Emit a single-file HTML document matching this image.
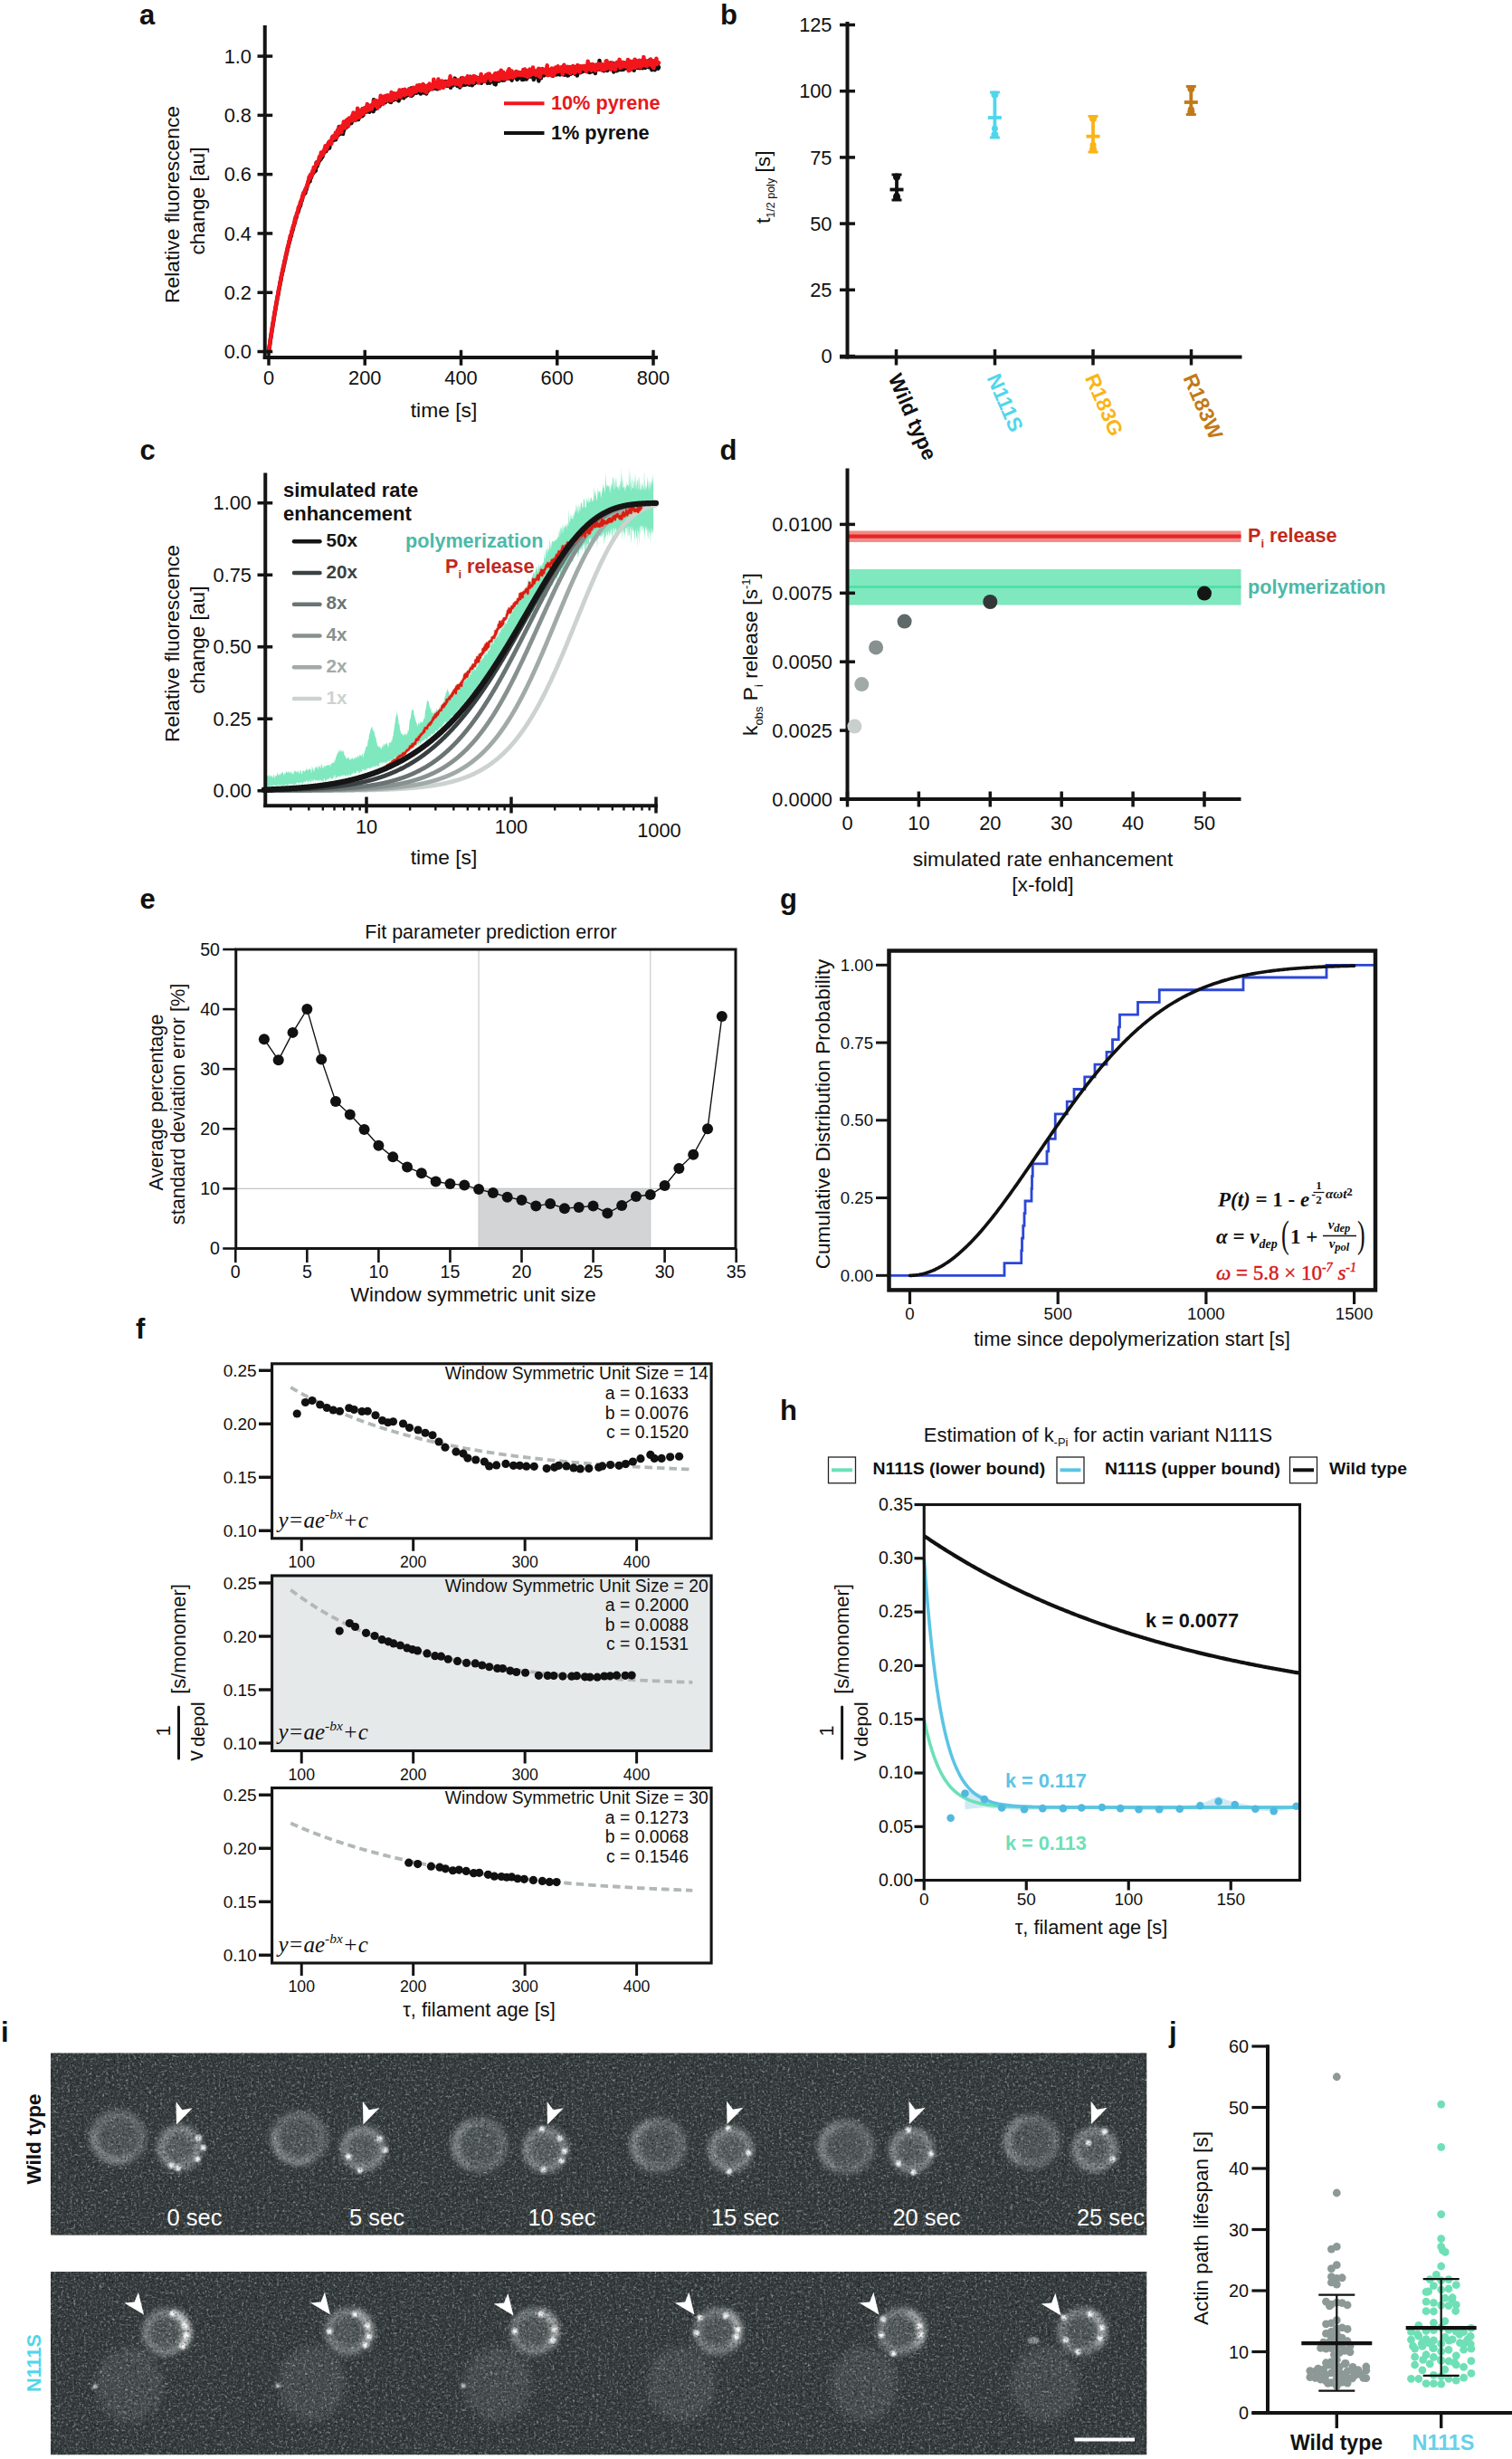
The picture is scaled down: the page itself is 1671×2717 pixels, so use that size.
<!DOCTYPE html>
<html><head><meta charset="utf-8"><title>Figure</title>
<style>html,body{margin:0;padding:0;background:#fff}svg{display:block;font-family:Liberation Sans, Arial, sans-serif;}</style></head>
<body><svg width="1671" height="2717" viewBox="0 0 1671 2717">
<defs><filter id="nz" x="0" y="0" width="100%" height="100%" color-interpolation-filters="sRGB"><feTurbulence type="fractalNoise" baseFrequency="0.31" numOctaves="1" seed="3" result="a"/><feTurbulence type="fractalNoise" baseFrequency="0.45" numOctaves="1" seed="11" result="b"/><feTurbulence type="fractalNoise" baseFrequency="0.62" numOctaves="1" seed="23" result="c"/><feComposite in="a" in2="b" operator="arithmetic" k1="0" k2="0.5" k3="0.5" k4="0" result="ab"/><feComposite in="ab" in2="c" operator="arithmetic" k1="0" k2="0.67" k3="0.33" k4="0" result="abc"/><feColorMatrix in="abc" type="matrix" values="0 0 0 0 0.88  0 0 0 0 0.92  0 0 0 0 0.92  1.5 1.5 0 0 -1.5"/></filter>
<filter id="nz2" x="0" y="0" width="100%" height="100%" color-interpolation-filters="sRGB"><feTurbulence type="fractalNoise" baseFrequency="0.39" numOctaves="1" seed="41" result="a"/><feTurbulence type="fractalNoise" baseFrequency="0.53" numOctaves="1" seed="57" result="b"/><feComposite in="a" in2="b" operator="arithmetic" k1="0" k2="0.5" k3="0.5" k4="0" result="ab"/><feColorMatrix in="ab" type="matrix" values="0 0 0 0 0.02  0 0 0 0 0.03  0 0 0 0 0.03  -1.5 -1.5 0 0 1.52"/></filter>
<filter id="bl3" x="-50%" y="-50%" width="200%" height="200%"><feGaussianBlur stdDeviation="3"/></filter>
<filter id="bl5" x="-50%" y="-50%" width="200%" height="200%"><feGaussianBlur stdDeviation="5"/></filter>
<filter id="bl1" x="-50%" y="-50%" width="200%" height="200%"><feGaussianBlur stdDeviation="1.3"/></filter>
<clipPath id="cp1"><rect x="56" y="2268.3" width="1211.5" height="201.5"/></clipPath>
<clipPath id="cp2"><rect x="56" y="2510" width="1211.5" height="202.5"/></clipPath></defs>
<rect width="1671" height="2717" fill="#fff"/>
<text font-size="31" text-anchor="start" fill="#111" font-weight="bold" x="154" y="27" >a</text>
<path d="M297 388.44 L297.43 385.41 L297.85 382.58 L298.27 380 L298.7 376.74 L299.12 374.01 L299.55 371.39 L299.98 368.43 L300.4 365.73 L300.82 363.04 L301.25 360.41 L301.68 357.67 L302.1 355.29 L302.52 352.59 L302.95 350.08 L303.38 347.35 L303.8 344.94 L304.23 342.52 L304.65 340.17 L305.07 337.63 L305.5 335.16 L305.93 332.85 L306.35 330.08 L306.77 327.81 L307.2 326.58 L307.62 324.08 L308.05 321.3 L308.48 319.15 L308.9 316.72 L309.32 314.53 L309.75 311.67 L310.18 310.72 L310.6 308.33 L311.02 305.26 L311.45 303.74 L311.88 301.67 L312.3 300.14 L312.73 298.65 L313.15 295.84 L313.57 293.89 L314 292.59 L314.43 290.41 L314.85 288.19 L315.27 286.76 L315.7 284.45 L316.12 282.5 L316.55 280.7 L316.98 279.2 L317.4 276.77 L317.82 274.81 L318.25 273.39 L318.68 272.36 L319.1 269.67 L319.52 268.75 L319.95 266.17 L320.38 265.8 L320.8 262.81 L321.23 261.82 L321.65 261.07 L322.07 258.82 L322.5 256.97 L322.93 255.24 L323.35 254.64 L323.77 253.21 L324.2 250.69 L324.62 249.72 L325.05 247.67 L325.48 245.77 L325.9 246.3 L326.32 243.28 L326.75 241.03 L327.18 240.92 L327.6 239.98 L328.02 237.22 L328.45 236.29 L328.88 234.35 L329.3 234.15 L329.73 233.89 L330.15 231.3 L330.57 230.32 L331 227.85 L331.43 227.15 L331.85 227.71 L332.27 226.04 L332.7 222.7 L333.12 221.68 L333.55 221.84 L333.98 219.98 L334.4 218.32 L334.82 217.12 L335.25 215.51 L335.68 215.04 L336.1 214.29 L336.52 213.35 L336.95 210.74 L337.38 213.45 L337.8 209.92 L338.23 208.64 L338.65 209.31 L339.07 206.15 L339.5 206.3 L339.93 203.41 L340.35 203.61 L340.77 201.6 L341.2 199.89 L341.62 199.95 L342.05 200.59 L342.48 200.45 L342.9 195.21 L343.32 196.71 L343.75 196.54 L344.18 194.49 L344.6 194.02 L345.02 191.67 L345.45 191.89 L345.88 191.02 L346.3 191.16 L346.73 188.6 L347.15 189.88 L347.57 186.57 L348 184.45 L348.43 188.08 L348.85 188.67 L349.27 183.25 L349.7 179.5 L350.12 184.06 L350.55 183.65 L350.98 180.01 L351.4 181.43 L351.82 180.13 L352.25 179.1 L352.68 176.93 L353.1 177.66 L353.52 175.8 L353.95 175.78 L354.38 176.14 L354.8 174.54 L355.23 174.87 L355.65 172.55 L356.07 173.75 L356.5 173 L356.93 167.93 L357.35 169.83 L357.77 169.14 L358.2 167.47 L358.62 168.44 L359.05 167.43 L359.48 165.6 L359.9 165.2 L360.32 167.16 L360.75 162.89 L361.18 164.86 L361.6 165.1 L362.02 164.2 L362.45 162.63 L362.88 158.21 L363.3 162.92 L363.73 159.77 L364.15 163.6 L364.57 158.9 L365 156.56 L365.43 158.2 L365.85 158.4 L366.27 156.13 L366.7 154.63 L367.12 154.14 L367.55 150.93 L367.98 153.95 L368.4 155.05 L368.82 153.56 L369.25 152.92 L369.68 152.01 L370.1 151.78 L370.52 150.83 L370.95 154.23 L371.38 148.41 L371.8 150.91 L372.23 151.72 L372.65 147.31 L373.07 145.33 L373.5 146.64 L373.93 146.89 L374.35 148.84 L374.77 139.89 L375.2 143.86 L375.62 147.94 L376.05 146.68 L376.48 144.26 L376.9 147.56 L377.32 143.18 L377.75 144.18 L378.18 139.89 L378.6 140.06 L379.02 148.02 L379.45 141.31 L379.88 144.68 L380.3 138.03 L380.73 139.77 L381.15 138.49 L381.57 141.77 L382 134.76 L382.43 133.92 L382.85 140.58 L383.27 136.9 L383.7 138.9 L384.12 137.03 L384.55 139.49 L384.98 131.96 L385.4 138.06 L385.82 136.15 L386.25 133.96 L386.68 136.23 L387.1 134.93 L387.52 135.32 L387.95 133.98 L388.38 136 L388.8 133.97 L389.23 133.1 L389.65 133.05 L390.07 131.82 L390.5 132.28 L390.93 129.56 L391.35 131.69 L391.77 130.93 L392.2 131.81 L392.62 131.18 L393.05 132.54 L393.48 128.15 L393.9 131.63 L394.32 130.42 L394.75 127.58 L395.18 127.18 L395.6 128.71 L396.02 132.11 L396.45 126.24 L396.88 126.31 L397.3 129.84 L397.73 124.56 L398.15 127.63 L398.57 128.32 L399 125.25 L399.43 125.59 L399.85 124.44 L400.27 128.3 L400.7 120.21 L401.12 125.46 L401.55 127.33 L401.98 122.13 L402.4 124.09 L402.82 122.28 L403.25 123.54 L403.68 122.64 L404.1 121.68 L404.52 123.7 L404.95 120.19 L405.38 122.56 L405.8 123.23 L406.23 120.82 L406.65 119.74 L407.07 121.03 L407.5 122.24 L407.93 118.62 L408.35 123.82 L408.77 121.92 L409.2 119.24 L409.62 122.21 L410.05 118.81 L410.48 118.77 L410.9 116.37 L411.32 120.29 L411.75 119.41 L412.18 116.99 L412.6 123.15 L413.02 110.24 L413.45 118.7 L413.88 118.56 L414.3 114.71 L414.73 116.56 L415.15 120.33 L415.57 114.63 L416 113.9 L416.43 116.68 L416.85 116.09 L417.27 114.14 L417.7 117.12 L418.12 113.85 L418.55 114.2 L418.98 116 L419.4 117.45 L419.82 114.59 L420.25 115.89 L420.68 111.41 L421.1 113.18 L421.52 111.54 L421.95 112.83 L422.38 112.36 L422.8 114.57 L423.23 111.07 L423.65 108.34 L424.07 112.95 L424.5 113.42 L424.93 112.25 L425.35 112.81 L425.77 113.14 L426.2 111.05 L426.62 111.86 L427.05 107.74 L427.48 110.86 L427.9 109.96 L428.33 108.35 L428.75 111.05 L429.18 106.92 L429.6 111.49 L430.02 111.73 L430.45 110.56 L430.88 109.82 L431.3 112.61 L431.73 109.33 L432.15 112.9 L432.58 105.76 L433 108.97 L433.43 110.1 L433.85 110.56 L434.27 109.21 L434.7 108.69 L435.12 110.42 L435.55 109.99 L435.98 108.17 L436.4 108.78 L436.82 105.3 L437.25 104.71 L437.68 107.13 L438.1 105.94 L438.52 109.93 L438.95 105.29 L439.38 106.67 L439.8 105.36 L440.23 102.67 L440.65 111.4 L441.07 105.46 L441.5 108.43 L441.93 104.44 L442.35 108.66 L442.77 106.66 L443.2 104.93 L443.62 103.86 L444.05 104.96 L444.48 106.82 L444.9 106.14 L445.32 102.73 L445.75 104.64 L446.18 108.35 L446.6 102.45 L447.02 103.3 L447.45 102.13 L447.88 104.77 L448.3 101.99 L448.73 106.19 L449.15 102.34 L449.57 104.64 L450 101.86 L450.43 100.99 L450.85 104.85 L451.27 103.17 L451.7 102.84 L452.12 100.1 L452.55 101.08 L452.98 105.38 L453.4 101.43 L453.82 100.66 L454.25 97.4 L454.68 105.98 L455.1 103.25 L455.52 98.87 L455.95 104.9 L456.38 104.44 L456.8 100.41 L457.23 99.16 L457.65 102.9 L458.07 100.03 L458.5 100.9 L458.93 97.59 L459.35 100.96 L459.77 98.58 L460.2 102.81 L460.62 101.06 L461.05 100.76 L461.48 97.83 L461.9 99.01 L462.33 101.95 L462.75 98.57 L463.18 98.27 L463.6 100.19 L464.02 100.42 L464.45 100.18 L464.88 103.51 L465.3 99.11 L465.73 98.91 L466.15 101.32 L466.58 97.55 L467 102.29 L467.43 100.32 L467.85 100.05 L468.27 94.33 L468.7 102.43 L469.12 97.4 L469.55 96.44 L469.98 97.63 L470.4 95.71 L470.83 100.6 L471.25 103.43 L471.68 96.38 L472.1 100.77 L472.52 98.7 L472.95 100.56 L473.38 95.37 L473.8 95.71 L474.23 99.24 L474.65 95.45 L475.08 97.15 L475.5 97.65 L475.93 97.12 L476.35 97.63 L476.77 95.67 L477.2 96.28 L477.62 97.71 L478.05 94.52 L478.48 98.14 L478.9 96 L479.33 95.61 L479.75 93.11 L480.18 97.56 L480.6 92.34 L481.02 95.84 L481.45 96.6 L481.88 97.61 L482.3 94.66 L482.73 95.8 L483.15 98.36 L483.58 98.33 L484 96.95 L484.43 97.14 L484.85 93.03 L485.27 92.3 L485.7 93.38 L486.12 94.47 L486.55 96.18 L486.98 95 L487.4 93.03 L487.83 90.11 L488.25 92.81 L488.68 95.46 L489.1 94.66 L489.52 95.77 L489.95 96.38 L490.38 94.94 L490.8 94 L491.23 90.18 L491.65 94.18 L492.08 91.12 L492.5 90.11 L492.93 93.9 L493.35 90.33 L493.77 92.3 L494.2 94.81 L494.62 93.18 L495.05 93.66 L495.48 94.18 L495.9 94.03 L496.33 93.17 L496.75 92.44 L497.18 95.38 L497.6 93.31 L498.02 96.7 L498.45 92.56 L498.88 91.66 L499.3 92.64 L499.73 92.29 L500.15 91.53 L500.58 94.33 L501 93.28 L501.43 91.5 L501.85 90.31 L502.27 91.63 L502.7 86.63 L503.12 92.61 L503.55 90.05 L503.98 89.37 L504.4 92.51 L504.83 94.01 L505.25 94.77 L505.68 91.63 L506.1 89.4 L506.52 91.25 L506.95 91.41 L507.38 92.61 L507.8 90.39 L508.23 96.49 L508.65 91.02 L509.08 91.42 L509.5 94.55 L509.93 86.38 L510.35 94.46 L510.77 93.69 L511.2 93.91 L511.62 88.57 L512.05 93.07 L512.48 89.45 L512.9 89.57 L513.33 90.26 L513.75 93.78 L514.17 92.13 L514.6 86.84 L515.02 93.56 L515.45 92.44 L515.88 90.85 L516.3 88.57 L516.73 89.79 L517.15 88.61 L517.58 92.68 L518 88.02 L518.42 88.82 L518.85 93.7 L519.27 86.48 L519.7 84.7 L520.12 91.64 L520.55 89.7 L520.98 86.57 L521.4 93.09 L521.83 94.19 L522.25 92.55 L522.67 90.83 L523.1 90.79 L523.52 88.03 L523.95 88.74 L524.38 92.15 L524.8 87.95 L525.23 84.9 L525.65 86.39 L526.08 86.81 L526.5 88.97 L526.92 86.71 L527.35 91.11 L527.77 87.13 L528.2 88.99 L528.62 86.15 L529.05 87.61 L529.48 91.11 L529.9 88.27 L530.33 85.73 L530.75 91.03 L531.17 89.68 L531.6 90.1 L532.02 91.71 L532.45 86.04 L532.88 85.18 L533.3 86.3 L533.73 87.52 L534.15 88.13 L534.58 87.41 L535 89.58 L535.42 85.81 L535.85 85.41 L536.27 85.62 L536.7 88.91 L537.12 87.46 L537.55 87.96 L537.98 83.45 L538.4 87.07 L538.83 91.73 L539.25 86.46 L539.67 83.02 L540.1 85.7 L540.52 85.21 L540.95 87.08 L541.38 91.62 L541.8 91.2 L542.23 89.86 L542.65 87.25 L543.08 86.2 L543.5 85.28 L543.92 87.58 L544.35 84.56 L544.77 87.34 L545.2 88.26 L545.62 84.65 L546.05 88.64 L546.48 92.73 L546.9 88.87 L547.33 86.18 L547.75 93.38 L548.17 87.11 L548.6 87 L549.02 89.45 L549.45 89.53 L549.88 87.15 L550.3 87.3 L550.73 83.12 L551.15 85.09 L551.58 89.51 L552 87.8 L552.42 84.19 L552.85 81.42 L553.28 84.82 L553.7 84.94 L554.12 81.35 L554.55 85.61 L554.98 86.21 L555.4 88.69 L555.83 86.58 L556.25 80.38 L556.67 88.56 L557.1 85.24 L557.53 88.43 L557.95 84.88 L558.38 83.09 L558.8 85.63 L559.23 83.36 L559.65 83.33 L560.08 83.91 L560.5 80.96 L560.92 83.06 L561.35 85.49 L561.78 86.3 L562.2 86.63 L562.62 83.56 L563.05 85.34 L563.48 78.32 L563.9 80.3 L564.33 84.95 L564.75 85.17 L565.17 80.51 L565.6 88.63 L566.03 85.31 L566.45 82.06 L566.88 86.27 L567.3 85.23 L567.73 84.9 L568.15 82.54 L568.58 83.69 L569 83.04 L569.42 82.55 L569.85 83.8 L570.27 81.28 L570.7 85.44 L571.12 87.01 L571.55 87.75 L571.98 87.35 L572.4 84.86 L572.83 81.2 L573.25 83.11 L573.67 84.83 L574.1 85.86 L574.52 84.58 L574.95 84.25 L575.38 84.58 L575.8 86.52 L576.23 84.29 L576.65 80.83 L577.08 88.08 L577.5 83.62 L577.92 87.87 L578.35 82.56 L578.77 84.64 L579.2 87.66 L579.62 82.62 L580.05 78.65 L580.48 82.51 L580.9 80.06 L581.33 82.84 L581.75 87.56 L582.17 81.47 L582.6 83.5 L583.02 85.84 L583.45 80.67 L583.88 81.76 L584.3 83.58 L584.73 80.35 L585.15 84.28 L585.58 80.78 L586 84.36 L586.42 80.94 L586.85 84.64 L587.27 78.68 L587.7 81.46 L588.12 78.72 L588.55 83.83 L588.98 83 L589.4 79.95 L589.83 88.1 L590.25 84.23 L590.67 79.39 L591.1 80.64 L591.52 79.43 L591.95 82.33 L592.38 80.29 L592.8 83.21 L593.23 84.63 L593.65 85.33 L594.08 82.68 L594.5 82.63 L594.92 82.77 L595.35 89.4 L595.77 85.82 L596.2 82.43 L596.62 80.52 L597.05 82.46 L597.48 83.1 L597.9 86.33 L598.33 76.39 L598.75 83.49 L599.17 77.09 L599.6 77.33 L600.02 80.23 L600.45 82.12 L600.88 80.47 L601.3 83.37 L601.73 80.1 L602.15 80.65 L602.58 79.4 L603 78.4 L603.42 76.57 L603.85 81.38 L604.27 78.07 L604.7 82.22 L605.12 82.42 L605.55 81.75 L605.98 82.54 L606.4 78.02 L606.83 78.11 L607.25 77.27 L607.67 80.2 L608.1 79.48 L608.52 81.39 L608.95 82.66 L609.38 78.97 L609.8 79.34 L610.23 82.44 L610.65 78.53 L611.08 83.81 L611.5 80.2 L611.92 81.2 L612.35 80.93 L612.77 82.16 L613.2 77.47 L613.62 78.31 L614.05 76.86 L614.48 79.23 L614.9 82.46 L615.33 80.32 L615.75 82.14 L616.17 78.36 L616.6 76.6 L617.02 78.58 L617.45 80.66 L617.88 80.1 L618.3 78.76 L618.73 82.49 L619.15 78.81 L619.58 78.66 L620 80.32 L620.42 80 L620.85 78.62 L621.27 80.85 L621.7 80.81 L622.12 77.12 L622.55 78.36 L622.98 74.99 L623.4 81.05 L623.83 82.82 L624.25 76.57 L624.67 76.5 L625.1 80.34 L625.53 81.97 L625.95 78.69 L626.38 82.55 L626.8 79.3 L627.23 83.47 L627.65 79 L628.08 83.26 L628.5 78.92 L628.92 74.88 L629.35 78.93 L629.78 76.52 L630.2 79.71 L630.62 80.25 L631.05 81.6 L631.48 75.77 L631.9 78.25 L632.33 74.37 L632.75 80.74 L633.17 78.52 L633.6 77.8 L634.03 74.72 L634.45 73.75 L634.88 79.36 L635.3 80.44 L635.73 81.78 L636.15 74.73 L636.58 77.95 L637 79.19 L637.42 77.8 L637.85 83.49 L638.28 81.56 L638.7 75.44 L639.12 76.64 L639.55 77.17 L639.98 79.77 L640.4 76.1 L640.83 73.35 L641.25 80.17 L641.67 77.31 L642.1 78.3 L642.53 76.45 L642.95 77.21 L643.38 77.54 L643.8 79.19 L644.23 77.17 L644.65 78.51 L645.08 77.4 L645.5 77.18 L645.92 75.51 L646.35 78.3 L646.78 77.67 L647.2 74.45 L647.62 77.37 L648.05 77.43 L648.48 74.82 L648.9 76.14 L649.33 76.52 L649.75 76.2 L650.17 79.5 L650.6 75.58 L651.03 73.56 L651.45 75.23 L651.88 80.08 L652.3 75.84 L652.73 78.52 L653.15 76.93 L653.58 76.08 L654 79.07 L654.42 73.26 L654.85 76.43 L655.28 74.43 L655.7 74.76 L656.12 73.1 L656.55 73.41 L656.98 79.47 L657.4 75.97 L657.83 80.91 L658.25 77.02 L658.67 74.33 L659.1 73.84 L659.53 72.95 L659.95 76.73 L660.38 75.1 L660.8 75.58 L661.23 72.87 L661.65 72.1 L662.08 76.52 L662.5 67.02 L662.92 75.64 L663.35 76.44 L663.78 74.2 L664.2 73.8 L664.62 74.25 L665.05 76.95 L665.48 72.07 L665.9 75.28 L666.33 71.85 L666.75 72.15 L667.17 78.21 L667.6 77.51 L668.03 77.52 L668.45 74.63 L668.88 75.04 L669.3 74.52 L669.73 76.96 L670.15 74.09 L670.58 71.83 L671 78.05 L671.42 75.42 L671.85 74.37 L672.28 75.2 L672.7 75.32 L673.12 70.8 L673.55 71.88 L673.98 72.84 L674.4 76.49 L674.83 69.6 L675.25 73.86 L675.67 75.97 L676.1 75.39 L676.53 75.71 L676.95 69.71 L677.38 74.06 L677.8 74.35 L678.23 79.39 L678.65 72.75 L679.08 76.82 L679.5 76.96 L679.92 72.95 L680.35 76.29 L680.78 72.37 L681.2 71.69 L681.62 78.31 L682.05 74.5 L682.48 77.76 L682.9 74.28 L683.33 72.02 L683.75 77.19 L684.17 69.93 L684.6 74.73 L685.03 76.69 L685.45 74.24 L685.88 72.12 L686.3 77.05 L686.73 73.87 L687.15 76.98 L687.58 71.06 L688 73.43 L688.42 74.73 L688.85 71.36 L689.28 76.64 L689.7 74.57 L690.12 69.42 L690.55 73.9 L690.98 70.49 L691.4 73.11 L691.83 75.13 L692.25 74.06 L692.67 73.3 L693.1 74.38 L693.53 75.3 L693.95 75.17 L694.38 76.75 L694.8 73.08 L695.23 72.4 L695.65 71.56 L696.08 77.37 L696.5 71.37 L696.92 73.23 L697.35 76.42 L697.78 72.91 L698.2 71.24 L698.62 71.88 L699.05 71.39 L699.48 70.86 L699.9 70.94 L700.33 73.04 L700.75 77.69 L701.17 74.64 L701.6 72.06 L702.03 73.92 L702.45 71.25 L702.88 70.96 L703.3 72.65 L703.73 68.44 L704.15 74.93 L704.58 70.55 L705 73.73 L705.42 74.4 L705.85 71.24 L706.28 73.97 L706.7 70.57 L707.12 75.17 L707.55 72.4 L707.98 74.38 L708.4 72.96 L708.83 73.24 L709.25 74.95 L709.67 70.84 L710.1 75.16 L710.53 74.52 L710.95 70.22 L711.38 70 L711.8 70.67 L712.23 71.39 L712.65 66.94 L713.08 74.88 L713.5 73.79 L713.92 74.33 L714.35 69.98 L714.78 71.35 L715.2 69.44 L715.62 69.73 L716.05 72.44 L716.48 73.77 L716.9 74.14 L717.33 66.79 L717.75 69.6 L718.17 70.43 L718.6 72.54 L719.03 72.19 L719.45 72.49 L719.88 72.42 L720.3 77.15 L720.73 71.77 L721.15 72.47 L721.58 70.91 L722 71.07 L722.42 69.57 L722.85 71.52 L723.28 69.65 L723.7 77.29 L724.12 73.93 L724.55 67.45 L724.98 74.15 L725.4 71.97 L725.83 69.69 L726.25 73.3 L726.67 69.61 L727.1 74.49 L727.53 75.58 L727.95 74.22" stroke="#111" stroke-width="4.5" fill="none" stroke-linejoin="round" stroke-linecap="round"/>
<path d="M297 387.81 L297.43 384.99 L297.85 382.04 L298.27 379.52 L298.7 375.88 L299.12 373.17 L299.55 370.64 L299.98 367.66 L300.4 365.01 L300.82 362.45 L301.25 359.48 L301.68 357.06 L302.1 354.43 L302.52 351.92 L302.95 349.11 L303.38 346.67 L303.8 344.02 L304.23 341.76 L304.65 339.13 L305.07 336.93 L305.5 334.1 L305.93 331.86 L306.35 329.45 L306.77 327.09 L307.2 325.18 L307.62 322.35 L308.05 319.67 L308.48 318.61 L308.9 316.44 L309.32 314.18 L309.75 311.17 L310.18 309.27 L310.6 306.77 L311.02 304.79 L311.45 302.91 L311.88 300.81 L312.3 298.96 L312.73 296.47 L313.15 295.39 L313.57 293.08 L314 290.81 L314.43 288.09 L314.85 287.46 L315.27 285.73 L315.7 283.59 L316.12 280.9 L316.55 279.72 L316.98 277.01 L317.4 277.06 L317.82 273.5 L318.25 271.78 L318.68 271.55 L319.1 268.84 L319.52 266.44 L319.95 265.47 L320.38 263.18 L320.8 260.58 L321.23 260.36 L321.65 259.13 L322.07 257.88 L322.5 255.26 L322.93 254.3 L323.35 252.73 L323.77 251.13 L324.2 249.02 L324.62 248.86 L325.05 247.75 L325.48 247.03 L325.9 242.58 L326.32 242.06 L326.75 239.4 L327.18 239.28 L327.6 238.51 L328.02 236.05 L328.45 235.16 L328.88 234.88 L329.3 233.2 L329.73 229.39 L330.15 229.39 L330.57 228.01 L331 227.39 L331.43 226.52 L331.85 223.68 L332.27 223.42 L332.7 222.85 L333.12 220.98 L333.55 220.57 L333.98 218.22 L334.4 216.01 L334.82 216.95 L335.25 213.31 L335.68 214.46 L336.1 212.4 L336.52 212.38 L336.95 210.57 L337.38 209.15 L337.8 208.61 L338.23 207.84 L338.65 206.75 L339.07 205.86 L339.5 205.73 L339.93 203.09 L340.35 201.23 L340.77 199.57 L341.2 198.87 L341.62 195.54 L342.05 197.28 L342.48 197.31 L342.9 193.27 L343.32 196.16 L343.75 192.52 L344.18 194.16 L344.6 191.45 L345.02 193.72 L345.45 188.84 L345.88 189.4 L346.3 189.65 L346.73 185 L347.15 185.41 L347.57 185.57 L348 185.86 L348.43 183.98 L348.85 183.32 L349.27 181.15 L349.7 180.2 L350.12 181.6 L350.55 180.61 L350.98 179.78 L351.4 180.27 L351.82 178.3 L352.25 176.74 L352.68 174.71 L353.1 172.93 L353.52 175.6 L353.95 172.64 L354.38 173.52 L354.8 168.62 L355.23 171.41 L355.65 169.76 L356.07 171.47 L356.5 170.56 L356.93 168.13 L357.35 168.44 L357.77 166.48 L358.2 169.15 L358.62 164.56 L359.05 166.66 L359.48 161.32 L359.9 164.27 L360.32 161.1 L360.75 165 L361.18 161.03 L361.6 162.83 L362.02 161.47 L362.45 159.9 L362.88 159.93 L363.3 158.22 L363.73 156.69 L364.15 156.27 L364.57 157.11 L365 159.01 L365.43 157.35 L365.85 155.59 L366.27 158.85 L366.7 152.57 L367.12 153.99 L367.55 153.47 L367.98 150.49 L368.4 150.51 L368.82 150.88 L369.25 152.88 L369.68 149.63 L370.1 149.03 L370.52 151.11 L370.95 146.52 L371.38 147.14 L371.8 151.95 L372.23 146.96 L372.65 149.48 L373.07 143.77 L373.5 143.99 L373.93 147.72 L374.35 146.77 L374.77 144.11 L375.2 144.41 L375.62 139.97 L376.05 141.28 L376.48 143.15 L376.9 140.73 L377.32 146.25 L377.75 140.46 L378.18 138.75 L378.6 140.71 L379.02 141.49 L379.45 138.15 L379.88 134.55 L380.3 138.14 L380.73 140.76 L381.15 134.48 L381.57 141.67 L382 135.83 L382.43 137.91 L382.85 134.06 L383.27 137.74 L383.7 132.38 L384.12 134.34 L384.55 138.59 L384.98 138.77 L385.4 134.61 L385.82 130.56 L386.25 132.86 L386.68 132.63 L387.1 132.97 L387.52 130.38 L387.95 130.85 L388.38 130.72 L388.8 133.27 L389.23 127.96 L389.65 127.21 L390.07 132.96 L390.5 124.39 L390.93 127.67 L391.35 130.1 L391.77 133.01 L392.2 126.84 L392.62 126.74 L393.05 129.06 L393.48 131.47 L393.9 124.5 L394.32 128.1 L394.75 127.52 L395.18 119.64 L395.6 120.98 L396.02 123.36 L396.45 126.28 L396.88 123.46 L397.3 129.86 L397.73 124.12 L398.15 125.81 L398.57 126.73 L399 127.12 L399.43 122.03 L399.85 122.74 L400.27 122.31 L400.7 120.47 L401.12 124.06 L401.55 124.68 L401.98 125.65 L402.4 122.09 L402.82 119.33 L403.25 121.14 L403.68 119.08 L404.1 122.99 L404.52 121.11 L404.95 121.53 L405.38 122.38 L405.8 115.04 L406.23 117.09 L406.65 120.54 L407.07 120.3 L407.5 118.44 L407.93 121.37 L408.35 116.84 L408.77 120.56 L409.2 118.22 L409.62 119.48 L410.05 118.01 L410.48 119.73 L410.9 120.06 L411.32 118.45 L411.75 117.57 L412.18 116.47 L412.6 115.42 L413.02 111.87 L413.45 113.29 L413.88 115.51 L414.3 113.07 L414.73 116.09 L415.15 111 L415.57 112.84 L416 116.99 L416.43 111.97 L416.85 111.62 L417.27 119.42 L417.7 114.8 L418.12 113.98 L418.55 117.1 L418.98 114.94 L419.4 114.48 L419.82 110.96 L420.25 111.24 L420.68 105.74 L421.1 112.45 L421.52 108.73 L421.95 111 L422.38 110.38 L422.8 113.47 L423.23 115 L423.65 112.21 L424.07 108.54 L424.5 106.49 L424.93 108.55 L425.35 108.62 L425.77 111.5 L426.2 105.91 L426.62 106.17 L427.05 110.28 L427.48 109.01 L427.9 111.01 L428.33 105.22 L428.75 107.48 L429.18 108.46 L429.6 107.15 L430.02 106.91 L430.45 108.7 L430.88 110.44 L431.3 110.38 L431.73 111.26 L432.15 106.08 L432.58 101.91 L433 110.71 L433.43 106.36 L433.85 105.58 L434.27 108.62 L434.7 105.76 L435.12 108.58 L435.55 103.18 L435.98 107.14 L436.4 105.41 L436.82 103.93 L437.25 106.33 L437.68 109.3 L438.1 106.28 L438.52 103.18 L438.95 104.98 L439.38 104.12 L439.8 106.98 L440.23 104.04 L440.65 102.57 L441.07 104.02 L441.5 99.6 L441.93 104.31 L442.35 106.08 L442.77 107.26 L443.2 100.8 L443.62 103.44 L444.05 100.86 L444.48 102 L444.9 99.21 L445.32 99.9 L445.75 103.53 L446.18 101.91 L446.6 99.94 L447.02 105.12 L447.45 98.85 L447.88 99.28 L448.3 99.68 L448.73 102.26 L449.15 100.99 L449.57 104.12 L450 101.31 L450.43 102.67 L450.85 101.01 L451.27 102.22 L451.7 100.33 L452.12 98.17 L452.55 103.74 L452.98 98.52 L453.4 105.07 L453.82 105.34 L454.25 100.56 L454.68 100.17 L455.1 99.06 L455.52 103.72 L455.95 99.99 L456.38 99.45 L456.8 96.76 L457.23 99.76 L457.65 98.21 L458.07 101.54 L458.5 99.63 L458.93 100.12 L459.35 97.39 L459.77 101.15 L460.2 100.69 L460.62 97.37 L461.05 94.49 L461.48 97.6 L461.9 97.68 L462.33 99.06 L462.75 95.69 L463.18 96.84 L463.6 94.01 L464.02 97.12 L464.45 99.94 L464.88 98.98 L465.3 99.84 L465.73 100.34 L466.15 94.5 L466.58 95.45 L467 100.03 L467.43 93.03 L467.85 96.45 L468.27 99.1 L468.7 95.93 L469.12 96.88 L469.55 98.4 L469.98 100.98 L470.4 96.36 L470.83 95.69 L471.25 102.16 L471.68 94.91 L472.1 94.67 L472.52 97.07 L472.95 95.65 L473.38 96.46 L473.8 97.64 L474.23 96.46 L474.65 92.46 L475.08 98.78 L475.5 94.84 L475.93 94.87 L476.35 96.82 L476.77 96.13 L477.2 98.23 L477.62 96.9 L478.05 94.83 L478.48 94.03 L478.9 96.75 L479.33 87.63 L479.75 95.83 L480.18 94.16 L480.6 94.89 L481.02 95.2 L481.45 91.23 L481.88 95.21 L482.3 90.99 L482.73 91.35 L483.15 96.27 L483.58 91.43 L484 95.2 L484.43 87.39 L484.85 94.44 L485.27 95.63 L485.7 97.77 L486.12 96.28 L486.55 94.57 L486.98 95.45 L487.4 95.9 L487.83 94.61 L488.25 93.41 L488.68 89.55 L489.1 96.68 L489.52 93.97 L489.95 94.82 L490.38 96.02 L490.8 95.38 L491.23 94.48 L491.65 90.7 L492.08 92.71 L492.5 93.42 L492.93 90.72 L493.35 91.41 L493.77 92.48 L494.2 91.02 L494.62 93.72 L495.05 90.32 L495.48 90.62 L495.9 92.56 L496.33 94.33 L496.75 88 L497.18 91.19 L497.6 84.36 L498.02 92.76 L498.45 89.24 L498.88 92.12 L499.3 90.47 L499.73 89.08 L500.15 92.74 L500.58 91.08 L501 90.41 L501.43 90.45 L501.85 89.28 L502.27 88.23 L502.7 88.6 L503.12 89.84 L503.55 91.17 L503.98 92.89 L504.4 91.92 L504.83 91.38 L505.25 88.55 L505.68 90.87 L506.1 92.82 L506.52 88.48 L506.95 91.68 L507.38 91.53 L507.8 90.23 L508.23 88.57 L508.65 95.1 L509.08 92.09 L509.5 89.06 L509.93 90.23 L510.35 91.31 L510.77 90.51 L511.2 86.04 L511.62 90.19 L512.05 87.45 L512.48 87.21 L512.9 89.99 L513.33 87.88 L513.75 89.86 L514.17 90.17 L514.6 91.28 L515.02 86.65 L515.45 89.5 L515.88 89.79 L516.3 91.04 L516.73 84.27 L517.15 86.65 L517.58 88.59 L518 89.81 L518.42 91.66 L518.85 87.44 L519.27 87.38 L519.7 91.2 L520.12 85.27 L520.55 86.09 L520.98 90.01 L521.4 89.02 L521.83 88.67 L522.25 87.26 L522.67 87.91 L523.1 91.26 L523.52 84.09 L523.95 86.68 L524.38 84.46 L524.8 84.42 L525.23 87.7 L525.65 86.39 L526.08 85.43 L526.5 85.3 L526.92 87.37 L527.35 88.35 L527.77 86.81 L528.2 88.66 L528.62 88.04 L529.05 91.36 L529.48 86.47 L529.9 88.95 L530.33 87.82 L530.75 86.62 L531.17 85.72 L531.6 82.07 L532.02 85.86 L532.45 89.5 L532.88 85.92 L533.3 87.53 L533.73 85.2 L534.15 87.62 L534.58 87.62 L535 87.12 L535.42 87.33 L535.85 90.01 L536.27 87.31 L536.7 85.77 L537.12 82.94 L537.55 86.3 L537.98 86.42 L538.4 84.2 L538.83 84.24 L539.25 81.76 L539.67 84.03 L540.1 85.36 L540.52 82.2 L540.95 81.71 L541.38 86.24 L541.8 84.74 L542.23 88.89 L542.65 85.83 L543.08 86.97 L543.5 85.38 L543.92 85.94 L544.35 85.17 L544.77 84.98 L545.2 83.56 L545.62 84.11 L546.05 85.87 L546.48 87.48 L546.9 81.67 L547.33 81.2 L547.75 85.43 L548.17 83.05 L548.6 87.77 L549.02 87.81 L549.45 84.8 L549.88 80.77 L550.3 86.48 L550.73 85.94 L551.15 80.31 L551.58 88.26 L552 82.41 L552.42 82.73 L552.85 84.26 L553.28 83.31 L553.7 77.7 L554.12 86.22 L554.55 84.31 L554.98 84.09 L555.4 85.07 L555.83 86.52 L556.25 79.76 L556.67 82.85 L557.1 87.32 L557.53 84.86 L557.95 82.28 L558.38 82.24 L558.8 86.41 L559.23 83.28 L559.65 82.42 L560.08 82.08 L560.5 82.02 L560.92 87.04 L561.35 78.61 L561.78 82.3 L562.2 78.61 L562.62 76.15 L563.05 83.01 L563.48 85.42 L563.9 80.58 L564.33 82.92 L564.75 83.49 L565.17 84.77 L565.6 78.51 L566.03 83.33 L566.45 85.47 L566.88 83.25 L567.3 84.83 L567.73 81.78 L568.15 83.05 L568.58 84.46 L569 80.62 L569.42 83.42 L569.85 80.26 L570.27 78.98 L570.7 82.65 L571.12 83.25 L571.55 81.27 L571.98 79.65 L572.4 81.65 L572.83 81.27 L573.25 81.61 L573.67 80.79 L574.1 80.02 L574.52 83.03 L574.95 82.47 L575.38 81.23 L575.8 82.8 L576.23 80.93 L576.65 79.97 L577.08 81.2 L577.5 82.49 L577.92 82.84 L578.35 77.02 L578.77 78.97 L579.2 83.49 L579.62 82.81 L580.05 76.57 L580.48 77.35 L580.9 80.47 L581.33 78.07 L581.75 84.07 L582.17 80.63 L582.6 78.9 L583.02 84.8 L583.45 82.29 L583.88 78.67 L584.3 77.83 L584.73 81.73 L585.15 79.67 L585.58 76.63 L586 81.12 L586.42 83.25 L586.85 80.3 L587.27 81.02 L587.7 77.11 L588.12 79.67 L588.55 81.83 L588.98 74.47 L589.4 81.06 L589.83 78.79 L590.25 78.28 L590.67 78 L591.1 79.35 L591.52 78.37 L591.95 79.82 L592.38 82.87 L592.8 80.08 L593.23 79.99 L593.65 79.91 L594.08 79.15 L594.5 80.85 L594.92 76.35 L595.35 75.76 L595.77 84.32 L596.2 79.23 L596.62 80.84 L597.05 85.13 L597.48 78.2 L597.9 80.51 L598.33 79.91 L598.75 80.5 L599.17 76.49 L599.6 76.1 L600.02 78.26 L600.45 77.27 L600.88 79.07 L601.3 78.45 L601.73 80.43 L602.15 78.62 L602.58 80.29 L603 77.76 L603.42 76.69 L603.85 77.83 L604.27 75.79 L604.7 72.31 L605.12 83.23 L605.55 78.35 L605.98 79.64 L606.4 79.34 L606.83 81.37 L607.25 78.1 L607.67 78.77 L608.1 79.59 L608.52 78.69 L608.95 79.42 L609.38 83.38 L609.8 75.53 L610.23 78.65 L610.65 80.08 L611.08 77.18 L611.5 79.35 L611.92 82.77 L612.35 75.73 L612.77 81.55 L613.2 78.18 L613.62 77.37 L614.05 74.52 L614.48 74.85 L614.9 77.15 L615.33 79.24 L615.75 78.41 L616.17 74.93 L616.6 73.3 L617.02 76.1 L617.45 78.78 L617.88 74.92 L618.3 78.09 L618.73 78.13 L619.15 77.8 L619.58 75.77 L620 76.45 L620.42 74.78 L620.85 74.05 L621.27 75.8 L621.7 82.26 L622.12 80.77 L622.55 76.5 L622.98 76.97 L623.4 71.85 L623.83 76.82 L624.25 77.06 L624.67 74.52 L625.1 74.21 L625.53 77.14 L625.95 75.49 L626.38 79.12 L626.8 78.65 L627.23 73.64 L627.65 79.64 L628.08 74.28 L628.5 74.8 L628.92 74.56 L629.35 74.19 L629.78 74.96 L630.2 81.1 L630.62 78.47 L631.05 77.51 L631.48 74.01 L631.9 78.64 L632.33 77.64 L632.75 76.82 L633.17 72.95 L633.6 79.22 L634.03 78.98 L634.45 74.42 L634.88 80.67 L635.3 75.02 L635.73 76.79 L636.15 79.32 L636.58 76.64 L637 77.93 L637.42 75.22 L637.85 74.74 L638.28 72.14 L638.7 75.53 L639.12 75.24 L639.55 76.75 L639.98 75.45 L640.4 72.97 L640.83 79.73 L641.25 73.79 L641.67 76.48 L642.1 75.06 L642.53 74.45 L642.95 73.21 L643.38 74.58 L643.8 75.99 L644.23 74.34 L644.65 74.99 L645.08 75.45 L645.5 74.49 L645.92 72.92 L646.35 74.57 L646.78 74.5 L647.2 77.76 L647.62 75.07 L648.05 79 L648.48 73.07 L648.9 76.83 L649.33 71.69 L649.75 67.78 L650.17 75.49 L650.6 71.51 L651.03 73.59 L651.45 75.76 L651.88 76.37 L652.3 73.13 L652.73 71.2 L653.15 73.54 L653.58 77.77 L654 76.67 L654.42 74.77 L654.85 71.12 L655.28 73.54 L655.7 73.41 L656.12 71.35 L656.55 74.55 L656.98 74.26 L657.4 74.44 L657.83 78.05 L658.25 72.89 L658.67 72.99 L659.1 71.66 L659.53 76.58 L659.95 75.69 L660.38 71.66 L660.8 73.02 L661.23 70.59 L661.65 75.67 L662.08 73.21 L662.5 75.18 L662.92 72.89 L663.35 74.68 L663.78 72.31 L664.2 71.04 L664.62 71.93 L665.05 77.57 L665.48 71.26 L665.9 72.36 L666.33 75.73 L666.75 75.34 L667.17 73.27 L667.6 71.94 L668.03 74.25 L668.45 76.9 L668.88 72.51 L669.3 72.74 L669.73 67.52 L670.15 76.01 L670.58 67.27 L671 69.02 L671.42 72.28 L671.85 69.15 L672.28 72.69 L672.7 70.64 L673.12 74.52 L673.55 72.63 L673.98 75.1 L674.4 76.35 L674.83 73.34 L675.25 74.2 L675.67 71.35 L676.1 69.73 L676.53 72.99 L676.95 72.43 L677.38 72.11 L677.8 76.34 L678.23 71.86 L678.65 72.42 L679.08 72.52 L679.5 74.9 L679.92 76.88 L680.35 72.9 L680.78 71.57 L681.2 69.2 L681.62 69.65 L682.05 68.88 L682.48 71.33 L682.9 69.5 L683.33 72.59 L683.75 70.65 L684.17 69.93 L684.6 65.88 L685.03 71.44 L685.45 74.87 L685.88 68.79 L686.3 73.72 L686.73 72.02 L687.15 72.52 L687.58 73.89 L688 68.74 L688.42 70.4 L688.85 73.13 L689.28 71.54 L689.7 72.66 L690.12 70.24 L690.55 72.48 L690.98 73.33 L691.4 73.03 L691.83 72.52 L692.25 70.83 L692.67 73.57 L693.1 71.64 L693.53 70.4 L693.95 66.04 L694.38 69.39 L694.8 78.14 L695.23 72.46 L695.65 72.17 L696.08 70.5 L696.5 67.62 L696.92 69.48 L697.35 76.41 L697.78 70.42 L698.2 70.85 L698.62 70.12 L699.05 67.93 L699.48 73.5 L699.9 68.46 L700.33 74.73 L700.75 70.81 L701.17 70.02 L701.6 65.65 L702.03 72.44 L702.45 74.68 L702.88 69.21 L703.3 72.26 L703.73 67.15 L704.15 72.31 L704.58 72.67 L705 67.8 L705.42 70.42 L705.85 68.3 L706.28 73.83 L706.7 66.76 L707.12 71.85 L707.55 68.6 L707.98 72.74 L708.4 73.96 L708.83 70.98 L709.25 69.97 L709.67 66.73 L710.1 69.51 L710.53 68.65 L710.95 68.75 L711.38 63.12 L711.8 72.07 L712.23 67.3 L712.65 70.49 L713.08 69.52 L713.5 71.34 L713.92 67.41 L714.35 72.9 L714.78 73.03 L715.2 70.46 L715.62 72.6 L716.05 68.32 L716.48 67.8 L716.9 71.6 L717.33 68.06 L717.75 71.33 L718.17 69.9 L718.6 69.75 L719.03 65.45 L719.45 69.72 L719.88 71.77 L720.3 71.76 L720.73 66.89 L721.15 73.42 L721.58 70.66 L722 70.42 L722.42 75.13 L722.85 70.57 L723.28 67.19 L723.7 68.92 L724.12 71.48 L724.55 67.82 L724.98 68.19 L725.4 64.72 L725.83 71.01 L726.25 70.18 L726.67 69.17 L727.1 69.56 L727.53 69.02 L727.95 69.43" stroke="#f2161c" stroke-width="4.5" fill="none" stroke-linejoin="round" stroke-linecap="round"/>
<line x1="292.75" y1="28" x2="292.75" y2="397" stroke="#141414" stroke-width="4" stroke-linecap="butt" />
<line x1="290.75" y1="395" x2="727" y2="395" stroke="#141414" stroke-width="4" stroke-linecap="butt" />
<line x1="284.5" y1="388.5" x2="301.25" y2="388.5" stroke="#141414" stroke-width="3.5" stroke-linecap="butt" />
<text font-size="21.8" text-anchor="end" fill="#111" x="278" y="396.2" >0.0</text>
<line x1="284.5" y1="323.22" x2="301.25" y2="323.22" stroke="#141414" stroke-width="3.5" stroke-linecap="butt" />
<text font-size="21.8" text-anchor="end" fill="#111" x="278" y="330.92" >0.2</text>
<line x1="284.5" y1="257.94" x2="301.25" y2="257.94" stroke="#141414" stroke-width="3.5" stroke-linecap="butt" />
<text font-size="21.8" text-anchor="end" fill="#111" x="278" y="265.64" >0.4</text>
<line x1="284.5" y1="192.66" x2="301.25" y2="192.66" stroke="#141414" stroke-width="3.5" stroke-linecap="butt" />
<text font-size="21.8" text-anchor="end" fill="#111" x="278" y="200.36" >0.6</text>
<line x1="284.5" y1="127.38" x2="301.25" y2="127.38" stroke="#141414" stroke-width="3.5" stroke-linecap="butt" />
<text font-size="21.8" text-anchor="end" fill="#111" x="278" y="135.08" >0.8</text>
<line x1="284.5" y1="62.1" x2="301.25" y2="62.1" stroke="#141414" stroke-width="3.5" stroke-linecap="butt" />
<text font-size="21.8" text-anchor="end" fill="#111" x="278" y="69.8" >1.0</text>
<line x1="297" y1="386.75" x2="297" y2="403.75" stroke="#141414" stroke-width="3.5" stroke-linecap="butt" />
<text font-size="21.8" text-anchor="middle" fill="#111" x="297" y="425" >0</text>
<line x1="403.25" y1="386.75" x2="403.25" y2="403.75" stroke="#141414" stroke-width="3.5" stroke-linecap="butt" />
<text font-size="21.8" text-anchor="middle" fill="#111" x="403.25" y="425" >200</text>
<line x1="509.5" y1="386.75" x2="509.5" y2="403.75" stroke="#141414" stroke-width="3.5" stroke-linecap="butt" />
<text font-size="21.8" text-anchor="middle" fill="#111" x="509.5" y="425" >400</text>
<line x1="615.75" y1="386.75" x2="615.75" y2="403.75" stroke="#141414" stroke-width="3.5" stroke-linecap="butt" />
<text font-size="21.8" text-anchor="middle" fill="#111" x="615.75" y="425" >600</text>
<line x1="722" y1="386.75" x2="722" y2="403.75" stroke="#141414" stroke-width="3.5" stroke-linecap="butt" />
<text font-size="21.8" text-anchor="middle" fill="#111" x="722" y="425" >800</text>
<text font-size="22.8" text-anchor="middle" fill="#111" x="490.5" y="461" >time [s]</text>
<text font-size="22.8" text-anchor="middle" fill="#111" transform="translate(197.5 226) rotate(-90)" >Relative fluorescence</text>
<text font-size="22.8" text-anchor="middle" fill="#111" transform="translate(225.5 222) rotate(-90)" >change [au]</text>
<line x1="557" y1="114.3" x2="601.5" y2="114.3" stroke="#f2161c" stroke-width="4" stroke-linecap="butt" />
<text font-size="21.7" text-anchor="start" fill="#e8191e" font-weight="bold" x="609" y="121" >10% pyrene</text>
<line x1="557" y1="147" x2="601.5" y2="147" stroke="#111" stroke-width="4" stroke-linecap="butt" />
<text font-size="21.7" text-anchor="start" fill="#111" font-weight="bold" x="609" y="153.5" >1% pyrene</text>
<text font-size="31" text-anchor="start" fill="#111" font-weight="bold" x="796" y="27" >b</text>
<line x1="936.5" y1="24" x2="936.5" y2="396.5" stroke="#141414" stroke-width="4" stroke-linecap="butt" />
<line x1="928" y1="394.5" x2="1372.5" y2="394.5" stroke="#141414" stroke-width="4" stroke-linecap="butt" />
<line x1="928" y1="393.5" x2="945" y2="393.5" stroke="#141414" stroke-width="3.5" stroke-linecap="butt" />
<text font-size="21.8" text-anchor="end" fill="#111" x="919.5" y="401.1" >0</text>
<line x1="928" y1="320.3" x2="945" y2="320.3" stroke="#141414" stroke-width="3.5" stroke-linecap="butt" />
<text font-size="21.8" text-anchor="end" fill="#111" x="919.5" y="327.9" >25</text>
<line x1="928" y1="247.1" x2="945" y2="247.1" stroke="#141414" stroke-width="3.5" stroke-linecap="butt" />
<text font-size="21.8" text-anchor="end" fill="#111" x="919.5" y="254.7" >50</text>
<line x1="928" y1="173.9" x2="945" y2="173.9" stroke="#141414" stroke-width="3.5" stroke-linecap="butt" />
<text font-size="21.8" text-anchor="end" fill="#111" x="919.5" y="181.5" >75</text>
<line x1="928" y1="100.7" x2="945" y2="100.7" stroke="#141414" stroke-width="3.5" stroke-linecap="butt" />
<text font-size="21.8" text-anchor="end" fill="#111" x="919.5" y="108.3" >100</text>
<line x1="928" y1="27.5" x2="945" y2="27.5" stroke="#141414" stroke-width="3.5" stroke-linecap="butt" />
<text font-size="21.8" text-anchor="end" fill="#111" x="919.5" y="35.1" >125</text>
<line x1="990.5" y1="386" x2="990.5" y2="403.5" stroke="#141414" stroke-width="3.5" stroke-linecap="butt" />
<text font-size="22.8" text-anchor="start" fill="#111" font-weight="bold" transform="translate(981.2 417.3) rotate(66.5)" >Wild type</text>
<line x1="1099.5" y1="386" x2="1099.5" y2="403.5" stroke="#141414" stroke-width="3.5" stroke-linecap="butt" />
<text font-size="22.8" text-anchor="start" fill="#4fd6ec" font-weight="bold" transform="translate(1090.2 417.3) rotate(66.5)" >N111S</text>
<line x1="1208" y1="386" x2="1208" y2="403.5" stroke="#141414" stroke-width="3.5" stroke-linecap="butt" />
<text font-size="22.8" text-anchor="start" fill="#fbb416" font-weight="bold" transform="translate(1198.7 417.3) rotate(66.5)" >R183G</text>
<line x1="1316.5" y1="386" x2="1316.5" y2="403.5" stroke="#141414" stroke-width="3.5" stroke-linecap="butt" />
<text font-size="22.8" text-anchor="start" fill="#c27a17" font-weight="bold" transform="translate(1307.2 417.3) rotate(66.5)" >R183W</text>
<line x1="991" y1="193" x2="991" y2="221" stroke="#111" stroke-width="3.8" stroke-linecap="butt" />
<line x1="983.5" y1="209.5" x2="998.5" y2="209.5" stroke="#111" stroke-width="3.8" stroke-linecap="butt" />
<line x1="985.5" y1="193" x2="996.5" y2="193" stroke="#111" stroke-width="3" stroke-linecap="butt" />
<line x1="985.5" y1="221" x2="996.5" y2="221" stroke="#111" stroke-width="3" stroke-linecap="butt" />
<circle cx="991" cy="195.5" r="4" fill="#111" />
<circle cx="991" cy="218" r="4" fill="#111" />
<circle cx="991" cy="216.25" r="3.5" fill="#111" />
<line x1="1099.4" y1="102" x2="1099.4" y2="152" stroke="#4fd6ec" stroke-width="3.8" stroke-linecap="butt" />
<line x1="1091.9" y1="130" x2="1106.9" y2="130" stroke="#4fd6ec" stroke-width="3.8" stroke-linecap="butt" />
<line x1="1093.9" y1="102" x2="1104.9" y2="102" stroke="#4fd6ec" stroke-width="3" stroke-linecap="butt" />
<line x1="1093.9" y1="152" x2="1104.9" y2="152" stroke="#4fd6ec" stroke-width="3" stroke-linecap="butt" />
<circle cx="1099.4" cy="104.5" r="4" fill="#4fd6ec" />
<circle cx="1099.4" cy="149" r="4" fill="#4fd6ec" />
<circle cx="1099.4" cy="142" r="3.5" fill="#4fd6ec" />
<line x1="1208" y1="128.5" x2="1208" y2="168" stroke="#fbb416" stroke-width="3.8" stroke-linecap="butt" />
<line x1="1200.5" y1="150.7" x2="1215.5" y2="150.7" stroke="#fbb416" stroke-width="3.8" stroke-linecap="butt" />
<line x1="1202.5" y1="128.5" x2="1213.5" y2="128.5" stroke="#fbb416" stroke-width="3" stroke-linecap="butt" />
<line x1="1202.5" y1="168" x2="1213.5" y2="168" stroke="#fbb416" stroke-width="3" stroke-linecap="butt" />
<circle cx="1208" cy="131" r="4" fill="#fbb416" />
<circle cx="1208" cy="165" r="4" fill="#fbb416" />
<circle cx="1208" cy="160.35" r="3.5" fill="#fbb416" />
<line x1="1316.3" y1="95.5" x2="1316.3" y2="126.5" stroke="#c27a17" stroke-width="3.8" stroke-linecap="butt" />
<line x1="1308.8" y1="113" x2="1323.8" y2="113" stroke="#c27a17" stroke-width="3.8" stroke-linecap="butt" />
<line x1="1310.8" y1="95.5" x2="1321.8" y2="95.5" stroke="#c27a17" stroke-width="3" stroke-linecap="butt" />
<line x1="1310.8" y1="126.5" x2="1321.8" y2="126.5" stroke="#c27a17" stroke-width="3" stroke-linecap="butt" />
<circle cx="1316.3" cy="98" r="4" fill="#c27a17" />
<circle cx="1316.3" cy="123.5" r="4" fill="#c27a17" />
<circle cx="1316.3" cy="120.75" r="3.5" fill="#c27a17" />
<text transform="rotate(-90 851.2 206.7)" x="851.2" y="206.7" font-size="22.8" text-anchor="middle" fill="#111">t<tspan font-size="12.5" dy="5">1/2 poly</tspan><tspan dy="-5" font-size="22.8"> [s]</tspan></text>
<text font-size="31" text-anchor="start" fill="#111" font-weight="bold" x="154.5" y="508" >c</text>
<path d="M291.76 856.5 L292.24 857.22 L292.72 853.91 L293.21 857.6 L293.69 858.42 L294.17 857.38 L294.65 859.72 L295.13 856.73 L295.62 857.59 L296.1 856.82 L296.58 856.71 L297.06 858.91 L297.54 855.07 L298.03 858.71 L298.51 855.62 L298.99 859.5 L299.47 856.31 L299.95 858.14 L300.44 856.71 L300.92 857.75 L301.4 860.12 L301.88 858.35 L302.36 856.4 L302.84 855.45 L303.33 858.71 L303.81 859.69 L304.29 857.63 L304.77 856.51 L305.25 857.12 L305.74 857.33 L306.22 854.62 L306.7 854.37 L307.18 854.66 L307.66 857.26 L308.15 855.58 L308.63 855.94 L309.11 857.83 L309.59 854.09 L310.07 855.28 L310.56 856.12 L311.04 853.03 L311.52 853.99 L312 853.78 L312.48 853.16 L312.97 853.85 L313.45 856.93 L313.93 855.47 L314.41 853.18 L314.89 855.92 L315.37 854.57 L315.86 853.92 L316.34 852.19 L316.82 852.34 L317.3 852.9 L317.78 854.55 L318.27 852.73 L318.75 853.27 L319.23 854.29 L319.71 851.8 L320.19 853.09 L320.68 855 L321.16 851.71 L321.64 854.05 L322.12 852.62 L322.6 855.91 L323.09 853.44 L323.57 854.84 L324.05 854.8 L324.53 856.21 L325.01 849.69 L325.49 853.25 L325.98 852.56 L326.46 851.09 L326.94 852.97 L327.42 851.87 L327.9 854.77 L328.39 852.21 L328.87 853.1 L329.35 851.56 L329.83 851.99 L330.31 854.4 L330.8 855.05 L331.28 853.64 L331.76 850.77 L332.24 851.18 L332.72 851.13 L333.21 854.89 L333.69 855.87 L334.17 852.5 L334.65 851.95 L335.13 852.29 L335.61 850.68 L336.1 851.43 L336.58 852.95 L337.06 852.38 L337.54 850.66 L338.02 850.68 L338.51 850.83 L338.99 847.01 L339.47 850.94 L339.95 850.24 L340.43 851.93 L340.92 850.82 L341.4 849.32 L341.88 849.16 L342.36 850.22 L342.84 849.25 L343.33 849.69 L343.81 852.67 L344.29 854.8 L344.77 845.82 L345.25 848.07 L345.74 849.39 L346.22 851.96 L346.7 851.13 L347.18 846.84 L347.66 853.33 L348.14 849.32 L348.63 847.32 L349.11 848.37 L349.59 847.3 L350.07 848.6 L350.55 844.49 L351.04 849.82 L351.52 850.25 L352 847.55 L352.48 845.6 L352.96 847.86 L353.45 846 L353.93 848.4 L354.41 849.34 L354.89 845.12 L355.37 844.75 L355.86 844.69 L356.34 847.72 L356.82 848.75 L357.3 848.66 L357.78 847.05 L358.26 845.66 L358.75 845.66 L359.23 848.64 L359.71 845.93 L360.19 846.1 L360.67 845.87 L361.16 845.93 L361.64 846.09 L362.12 844.71 L362.6 845.32 L363.08 845.03 L363.57 846.34 L364.05 844.45 L364.53 845.1 L365.01 848.08 L365.49 843.73 L365.98 844.67 L366.46 842.49 L366.94 843.88 L367.42 843.38 L367.9 842.43 L368.39 842.25 L368.87 842.33 L369.35 843.78 L369.83 837.22 L370.31 841.8 L370.79 838.9 L371.28 836.32 L371.76 835.71 L372.24 834.35 L372.72 832.96 L373.2 831.15 L373.69 831.72 L374.17 826.71 L374.65 832.2 L375.13 829.63 L375.61 830.15 L376.1 830.2 L376.58 828.82 L377.06 827.09 L377.54 830.84 L378.02 831.3 L378.51 829.6 L378.99 830.57 L379.47 829.07 L379.95 831.34 L380.43 833.41 L380.91 835.07 L381.4 834.94 L381.88 836.24 L382.36 838.73 L382.84 837.07 L383.32 837.8 L383.81 838.24 L384.29 838.82 L384.77 835.65 L385.25 837.37 L385.73 837.06 L386.22 839.54 L386.7 840.18 L387.18 838.96 L387.66 838.04 L388.14 838.88 L388.63 838.52 L389.11 836.57 L389.59 837.48 L390.07 839.38 L390.55 838.35 L391.03 838.56 L391.52 837.07 L392 839.06 L392.48 837.33 L392.96 835.78 L393.44 836.68 L393.93 838.01 L394.41 837.38 L394.89 836.03 L395.37 835.3 L395.85 834.57 L396.34 835.96 L396.82 837.65 L397.3 833.12 L397.78 834.74 L398.26 834.38 L398.75 834.35 L399.23 836.29 L399.71 834.93 L400.19 833.78 L400.67 832.27 L401.16 833.5 L401.64 838.18 L402.12 833.14 L402.6 831.63 L403.08 829.44 L403.56 829.5 L404.05 825.63 L404.53 826.06 L405.01 824.68 L405.49 823.59 L405.97 825.31 L406.46 819.57 L406.94 817.59 L407.42 816.9 L407.9 812.62 L408.38 810.43 L408.87 809.55 L409.35 807 L409.83 805.57 L410.31 803.59 L410.79 803.95 L411.28 802.26 L411.76 806.57 L412.24 804.85 L412.72 808.41 L413.2 808.18 L413.68 808.52 L414.17 811.38 L414.65 813.71 L415.13 815.49 L415.61 815.05 L416.09 821.06 L416.58 819.43 L417.06 824.54 L417.54 823.93 L418.02 823.75 L418.5 825.98 L418.99 824.73 L419.47 824.17 L419.95 827.37 L420.43 825.64 L420.91 826.08 L421.4 828.48 L421.88 825.55 L422.36 826.36 L422.84 822.77 L423.32 826.09 L423.8 821.78 L424.29 825.11 L424.77 820.96 L425.25 822.95 L425.73 822.86 L426.21 822.06 L426.7 821.67 L427.18 820.64 L427.66 819.88 L428.14 822.94 L428.62 824.13 L429.11 826.14 L429.59 822.24 L430.07 820.12 L430.55 820.4 L431.03 820.43 L431.52 820.69 L432 820.52 L432.48 819.12 L432.96 816.94 L433.44 818.9 L433.93 813.05 L434.41 814.17 L434.89 809.28 L435.37 806.8 L435.85 802.86 L436.33 800.32 L436.82 797.05 L437.3 792.58 L437.78 791.66 L438.26 784.67 L438.74 788.93 L439.23 790.05 L439.71 791.55 L440.19 794.79 L440.67 799.87 L441.15 799.44 L441.64 801.54 L442.12 807.15 L442.6 807.07 L443.08 810.85 L443.56 810.36 L444.05 810.69 L444.53 811.08 L445.01 811.47 L445.49 813.38 L445.97 810.81 L446.45 812.77 L446.94 811.29 L447.42 810.46 L447.9 811.76 L448.38 812.99 L448.86 809.58 L449.35 811.87 L449.83 810.93 L450.31 810.51 L450.79 806.41 L451.27 806.68 L451.76 808.27 L452.24 801.35 L452.72 796.62 L453.2 794.09 L453.68 794.68 L454.17 790.52 L454.65 787.02 L455.13 784.19 L455.61 784.16 L456.09 785.56 L456.57 783.2 L457.06 784.85 L457.54 790.03 L458.02 790.94 L458.5 792.37 L458.98 795.21 L459.47 796.4 L459.95 797.57 L460.43 799.06 L460.91 800.87 L461.39 803.23 L461.88 800.08 L462.36 798.94 L462.84 797.82 L463.32 800.65 L463.8 800.31 L464.29 797.64 L464.77 797.31 L465.25 798.52 L465.73 797.68 L466.21 799.58 L466.7 796.69 L467.18 798.28 L467.66 796.2 L468.14 794.68 L468.62 793.78 L469.1 794.39 L469.59 789.98 L470.07 785.45 L470.55 783.31 L471.03 781.01 L471.51 777.27 L472 774.72 L472.48 773.29 L472.96 775.51 L473.44 774.62 L473.92 776.05 L474.41 779.05 L474.89 781.78 L475.37 781.76 L475.85 784.82 L476.33 781.53 L476.82 786.51 L477.3 787.5 L477.78 788.13 L478.26 784.48 L478.74 789.17 L479.22 787.93 L479.71 788.05 L480.19 786.36 L480.67 786.58 L481.15 784.32 L481.63 787.94 L482.12 785.26 L482.6 782.27 L483.08 784.67 L483.56 784.24 L484.04 784.88 L484.53 787.21 L485.01 782.58 L485.49 780.22 L485.97 782.57 L486.45 784.02 L486.94 780.64 L487.42 780.39 L487.9 778.18 L488.38 778.26 L488.86 779.34 L489.34 777.11 L489.83 780.11 L490.31 774.27 L490.79 774.78 L491.27 771.86 L491.75 769.44 L492.24 769.11 L492.72 765.82 L493.2 765.26 L493.68 764.59 L494.16 761.9 L494.65 760.78 L495.13 764.82 L495.61 762.78 L496.09 765.38 L496.57 767.16 L497.06 770.18 L497.54 771.06 L498.02 767.96 L498.5 766.94 L498.98 768.36 L499.47 768.15 L499.95 768.45 L500.43 767.92 L500.91 768.3 L501.39 769.02 L501.87 764.19 L502.36 768.06 L502.84 765.45 L503.32 765.35 L503.8 762.71 L504.28 766.33 L504.77 760.72 L505.25 760.26 L505.73 760.88 L506.21 759.86 L506.69 761.65 L507.18 764.49 L507.66 759.42 L508.14 757 L508.62 757.02 L509.1 759.28 L509.59 758.09 L510.07 756.03 L510.55 758.07 L511.03 757.4 L511.51 756.89 L511.99 752.34 L512.48 753.67 L512.96 751.93 L513.44 752.5 L513.92 752.88 L514.4 748.29 L514.89 753.55 L515.37 750.38 L515.85 744.91 L516.33 750.34 L516.81 749.58 L517.3 746.64 L517.78 747.66 L518.26 749.06 L518.74 747.03 L519.22 746.22 L519.71 742.84 L520.19 745.91 L520.67 744.06 L521.15 740.76 L521.63 739.58 L522.11 740.96 L522.6 739.16 L523.08 742.74 L523.56 738.02 L524.04 739.75 L524.52 737.09 L525.01 741.27 L525.49 739.99 L525.97 739.7 L526.45 735.87 L526.93 737.27 L527.42 736.6 L527.9 736.31 L528.38 733.2 L528.86 734.58 L529.34 732.11 L529.83 730.9 L530.31 732.54 L530.79 728.81 L531.27 730.95 L531.75 728.89 L532.24 729.34 L532.72 728.75 L533.2 727.56 L533.68 727.81 L534.16 726.34 L534.64 726.89 L535.13 723.94 L535.61 722.54 L536.09 725.22 L536.57 721.53 L537.05 723.89 L537.54 719.87 L538.02 722.28 L538.5 723.54 L538.98 718.11 L539.46 719.27 L539.95 719.56 L540.43 718.89 L540.91 715.62 L541.39 717.39 L541.87 716.79 L542.36 711.72 L542.84 711.45 L543.32 712.05 L543.8 709.04 L544.28 709.22 L544.76 709.29 L545.25 712.39 L545.73 708.43 L546.21 706.92 L546.69 702.94 L547.17 706.01 L547.66 706.72 L548.14 703.37 L548.62 705.8 L549.1 703.18 L549.58 703.24 L550.07 700.29 L550.55 701.83 L551.03 706.22 L551.51 697.08 L551.99 699.18 L552.48 697.9 L552.96 700.26 L553.44 695.05 L553.92 695.92 L554.4 694.51 L554.89 695.31 L555.37 690.86 L555.85 694.63 L556.33 694.04 L556.81 689.61 L557.29 692.86 L557.78 688.34 L558.26 687.29 L558.74 689.12 L559.22 687.65 L559.7 690.68 L560.19 688.54 L560.67 685.89 L561.15 685.9 L561.63 682.3 L562.11 679.68 L562.6 683.64 L563.08 682.47 L563.56 678.77 L564.04 676.37 L564.52 677.05 L565.01 679.65 L565.49 677.47 L565.97 676.92 L566.45 676.64 L566.93 674.39 L567.41 675.03 L567.9 672.9 L568.38 672.46 L568.86 667.73 L569.34 670.83 L569.82 671.23 L570.31 670.8 L570.79 668.52 L571.27 664.66 L571.75 666.98 L572.23 661.31 L572.72 664.67 L573.2 660.64 L573.68 662.46 L574.16 659.28 L574.64 658.24 L575.13 662.7 L575.61 659.92 L576.09 662.64 L576.57 655.91 L577.05 652.66 L577.53 658.06 L578.02 648.7 L578.5 656.7 L578.98 655.05 L579.46 657.07 L579.94 654.4 L580.43 653.51 L580.91 647.08 L581.39 648.05 L581.87 649.83 L582.35 649.22 L582.84 645.2 L583.32 643.4 L583.8 638.62 L584.28 644.74 L584.76 639.31 L585.25 646.65 L585.73 646.2 L586.21 639.75 L586.69 644.88 L587.17 642.33 L587.66 637.39 L588.14 637.24 L588.62 635.5 L589.1 634.62 L589.58 631 L590.06 633.51 L590.55 632.61 L591.03 637.58 L591.51 631.43 L591.99 630.64 L592.47 627.77 L592.96 625.06 L593.44 628.23 L593.92 630.52 L594.4 632.63 L594.88 626.62 L595.37 622.76 L595.85 627.79 L596.33 628.12 L596.81 625.46 L597.29 625.2 L597.78 624.16 L598.26 626.04 L598.74 624.97 L599.22 621.57 L599.7 625.18 L600.18 620.49 L600.67 622.27 L601.15 620.45 L601.63 608.17 L602.11 617.27 L602.59 616.83 L603.08 611.71 L603.56 607.36 L604.04 606.25 L604.52 608.5 L605 614.54 L605.49 600.46 L605.97 610.53 L606.45 605.55 L606.93 607.64 L607.41 598.28 L607.9 596.95 L608.38 603 L608.86 607.71 L609.34 602.47 L609.82 599.72 L610.3 597.35 L610.79 599.11 L611.27 596.66 L611.75 599.65 L612.23 598.46 L612.71 597.27 L613.2 598.46 L613.68 596.19 L614.16 595.92 L614.64 595.53 L615.12 597.13 L615.61 596.04 L616.09 593.03 L616.57 594.49 L617.05 585.5 L617.53 594.31 L618.02 592.89 L618.5 587.51 L618.98 584.78 L619.46 581.65 L619.94 591.85 L620.43 583.38 L620.91 584.24 L621.39 579.05 L621.87 589.73 L622.35 579.94 L622.83 590.33 L623.32 580.95 L623.8 583.25 L624.28 579.04 L624.76 583.09 L625.24 581.28 L625.73 579.88 L626.21 585.46 L626.69 578.11 L627.17 578.25 L627.65 580.59 L628.14 581.02 L628.62 561.74 L629.1 576.53 L629.58 578.04 L630.06 565.63 L630.55 576.63 L631.03 568.97 L631.51 573.71 L631.99 567.88 L632.47 574.01 L632.95 573.31 L633.44 572.94 L633.92 566.16 L634.4 570.31 L634.88 568.49 L635.36 562.48 L635.85 566.03 L636.33 565.71 L636.81 555.33 L637.29 566.19 L637.77 558.66 L638.26 558.87 L638.74 567.91 L639.22 556.03 L639.7 567.96 L640.18 564.24 L640.67 557.92 L641.15 565.38 L641.63 558.59 L642.11 555.16 L642.59 555.95 L643.07 555.4 L643.56 561.85 L644.04 560 L644.52 561.33 L645 549.48 L645.48 553.66 L645.97 550.86 L646.45 561.76 L646.93 559.3 L647.41 561.62 L647.89 559.28 L648.38 548.4 L648.86 553.34 L649.34 552.58 L649.82 556.02 L650.3 555.65 L650.79 548.13 L651.27 553.83 L651.75 555.33 L652.23 554.3 L652.71 550.24 L653.2 550.47 L653.68 548.64 L654.16 553.93 L654.64 554.47 L655.12 549.74 L655.6 552.58 L656.09 554.83 L656.57 538.37 L657.05 541.67 L657.53 546.37 L658.01 548.56 L658.5 541.84 L658.98 550.75 L659.46 553.58 L659.94 549.83 L660.42 537.61 L660.91 550.35 L661.39 541.09 L661.87 544.43 L662.35 542.79 L662.83 543.27 L663.32 542.02 L663.8 547.14 L664.28 550.49 L664.76 546.16 L665.24 543.98 L665.72 541.03 L666.21 533.42 L666.69 538.58 L667.17 540.32 L667.65 536.97 L668.13 545.49 L668.62 541.66 L669.1 530.67 L669.58 523.11 L670.06 539.72 L670.54 535.89 L671.03 537.11 L671.51 534.88 L671.99 538.06 L672.47 535.93 L672.95 538.93 L673.44 535.05 L673.92 545.01 L674.4 536.49 L674.88 545.47 L675.36 537.03 L675.84 533.12 L676.33 538.92 L676.81 533.82 L677.29 527.11 L677.77 527.29 L678.25 533.87 L678.74 541.77 L679.22 538.89 L679.7 524.46 L680.18 541.18 L680.66 529.75 L681.15 528.16 L681.63 537.48 L682.11 538.49 L682.59 538.86 L683.07 536.06 L683.56 542.57 L684.04 535.66 L684.52 536.26 L685 543.61 L685.48 530.42 L685.97 535.16 L686.45 516.04 L686.93 538.53 L687.41 522.4 L687.89 538.11 L688.37 539.24 L688.86 529.13 L689.34 539.65 L689.82 537.64 L690.3 537.81 L690.78 543.31 L691.27 540.09 L691.75 537.44 L692.23 531.29 L692.71 539.07 L693.19 535.78 L693.68 535.4 L694.16 536.62 L694.64 538.72 L695.12 515.17 L695.6 539.07 L696.09 532.2 L696.57 520.39 L697.05 543.75 L697.53 538.48 L698.01 531.93 L698.49 526.67 L698.98 539.25 L699.46 539 L699.94 539.91 L700.42 532.24 L700.9 531.06 L701.39 540.28 L701.87 522.13 L702.35 542.43 L702.83 522.86 L703.31 534.69 L703.8 541.37 L704.28 533.02 L704.76 530.6 L705.24 528.37 L705.72 542.53 L706.21 538.89 L706.69 525.17 L707.17 532.4 L707.65 541.14 L708.13 539.91 L708.61 542.93 L709.1 531.77 L709.58 537.63 L710.06 535.05 L710.54 538.36 L711.02 541.35 L711.51 539.36 L711.99 519.03 L712.47 532.49 L712.95 543.59 L713.43 539.35 L713.92 535.19 L714.4 540.2 L714.88 537.49 L715.36 532.19 L715.84 526.29 L716.33 543.38 L716.81 529.61 L717.29 541.21 L717.77 529.89 L718.25 532.91 L718.74 542.95 L719.22 530.79 L719.7 534.28 L720.18 538.03 L720.66 527.17 L721.14 534.59 L721.63 522.45 L722.11 536.26 L722.11 583.46 L721.63 587.33 L721.14 589.81 L720.66 582.63 L720.18 591.86 L719.7 589.41 L719.22 581.15 L718.74 601.67 L718.25 587.81 L717.77 589.37 L717.29 585.96 L716.81 583.11 L716.33 595.86 L715.84 593.18 L715.36 585.27 L714.88 581.94 L714.4 587.63 L713.92 583.41 L713.43 581.02 L712.95 585.05 L712.47 597.43 L711.99 582.38 L711.51 584.72 L711.02 589.05 L710.54 579.34 L710.06 582.5 L709.58 588.34 L709.1 581.56 L708.61 580.42 L708.13 583.09 L707.65 591.8 L707.17 579.87 L706.69 585.01 L706.21 603.74 L705.72 587.59 L705.24 586.75 L704.76 606.45 L704.28 580.46 L703.8 593.32 L703.31 595.42 L702.83 588.26 L702.35 583.21 L701.87 590.13 L701.39 600.7 L700.9 585.68 L700.42 588.08 L699.94 582.4 L699.46 589.36 L698.98 585.96 L698.49 584.76 L698.01 580.28 L697.53 601.59 L697.05 594.23 L696.57 581.37 L696.09 582.63 L695.6 591.21 L695.12 592.48 L694.64 590.67 L694.16 580.56 L693.68 582.53 L693.19 594.06 L692.71 585.49 L692.23 582.47 L691.75 584.17 L691.27 582.37 L690.78 595.96 L690.3 587.68 L689.82 590.27 L689.34 586.45 L688.86 581.2 L688.37 588.79 L687.89 597.59 L687.41 583.4 L686.93 582.14 L686.45 583.82 L685.97 583.68 L685.48 583.11 L685 586.55 L684.52 586.51 L684.04 585.98 L683.56 584.23 L683.07 586 L682.59 586.15 L682.11 596.54 L681.63 589.98 L681.15 587.22 L680.66 583.62 L680.18 583.38 L679.7 589.67 L679.22 592.87 L678.74 583.21 L678.25 584.87 L677.77 581.72 L677.29 597.88 L676.81 584.19 L676.33 597.7 L675.84 590.04 L675.36 582.97 L674.88 585.61 L674.4 589.39 L673.92 592.78 L673.44 589.58 L672.95 587.94 L672.47 585.43 L671.99 595.92 L671.51 589.63 L671.03 591.95 L670.54 586.76 L670.06 588.52 L669.58 595.41 L669.1 590.64 L668.62 601.26 L668.13 588.72 L667.65 604.11 L667.17 588.19 L666.69 588.22 L666.21 590.25 L665.72 591.77 L665.24 593.54 L664.76 590.09 L664.28 592.16 L663.8 592.49 L663.32 592.64 L662.83 593.29 L662.35 589.03 L661.87 596.39 L661.39 591.59 L660.91 588.37 L660.42 597.6 L659.94 605.7 L659.46 594.32 L658.98 595.56 L658.5 596.66 L658.01 596.31 L657.53 596.87 L657.05 597.42 L656.57 597.01 L656.09 593.87 L655.6 595.43 L655.12 594.69 L654.64 595.24 L654.16 597.65 L653.68 595.09 L653.2 608.36 L652.71 596.78 L652.23 593.92 L651.75 595.14 L651.27 595.29 L650.79 600.66 L650.3 610.66 L649.82 601.06 L649.34 600.45 L648.86 604.38 L648.38 603.12 L647.89 598.58 L647.41 605.78 L646.93 612.36 L646.45 608.79 L645.97 603.29 L645.48 600.31 L645 601.4 L644.52 603.04 L644.04 602.88 L643.56 610.27 L643.07 603.46 L642.59 605.54 L642.11 607.71 L641.63 608.86 L641.15 604.59 L640.67 607.6 L640.18 607.55 L639.7 616.7 L639.22 610.08 L638.74 611.07 L638.26 616.73 L637.77 609.35 L637.29 608.32 L636.81 606.41 L636.33 612.45 L635.85 613.55 L635.36 614.35 L634.88 612.1 L634.4 615.56 L633.92 611.33 L633.44 621.06 L632.95 619.47 L632.47 621.73 L631.99 612.9 L631.51 618.11 L631.03 618.89 L630.55 617.41 L630.06 620.13 L629.58 618.52 L629.1 619.6 L628.62 624.79 L628.14 621.02 L627.65 621.81 L627.17 620.34 L626.69 619.97 L626.21 626.96 L625.73 628.57 L625.24 624.38 L624.76 623.62 L624.28 624.68 L623.8 631.07 L623.32 630.04 L622.83 633.42 L622.35 627.82 L621.87 632.44 L621.39 632.7 L620.91 625 L620.43 635.01 L619.94 640.57 L619.46 637.76 L618.98 631.87 L618.5 629.59 L618.02 632.57 L617.53 635.86 L617.05 633.69 L616.57 636.05 L616.09 636.12 L615.61 642.49 L615.12 639.17 L614.64 635.96 L614.16 637.78 L613.68 637.85 L613.2 637.78 L612.71 638.72 L612.23 639.35 L611.75 641.5 L611.27 642.61 L610.79 647.33 L610.3 646.13 L609.82 643.19 L609.34 644.53 L608.86 647.17 L608.38 642.19 L607.9 643.57 L607.41 648.77 L606.93 649.42 L606.45 651.68 L605.97 648.04 L605.49 649.12 L605 651.1 L604.52 655.97 L604.04 661.3 L603.56 654.15 L603.08 653.27 L602.59 655.24 L602.11 654.25 L601.63 654.59 L601.15 656.83 L600.67 661.93 L600.18 657.27 L599.7 660.62 L599.22 659.97 L598.74 662.54 L598.26 662.02 L597.78 661.46 L597.29 663.16 L596.81 662.39 L596.33 664.11 L595.85 666.05 L595.37 663.83 L594.88 665.93 L594.4 667.94 L593.92 665.71 L593.44 670.24 L592.96 675.84 L592.47 667.74 L591.99 668.2 L591.51 666.63 L591.03 670.8 L590.55 673.88 L590.06 677.82 L589.58 676.16 L589.1 674.11 L588.62 677.42 L588.14 675.4 L587.66 674.52 L587.17 676.43 L586.69 683.51 L586.21 677.53 L585.73 682.01 L585.25 679.19 L584.76 684.06 L584.28 680.94 L583.8 681.64 L583.32 683.29 L582.84 681.59 L582.35 685.54 L581.87 682.43 L581.39 685.43 L580.91 688.05 L580.43 687.86 L579.94 689.68 L579.46 690.11 L578.98 688.08 L578.5 689.98 L578.02 691.96 L577.53 693.48 L577.05 697.14 L576.57 693.69 L576.09 695.39 L575.61 693.99 L575.13 697.14 L574.64 694.87 L574.16 696.93 L573.68 696.46 L573.2 697.96 L572.72 697.59 L572.23 699.81 L571.75 698.56 L571.27 699.9 L570.79 700.11 L570.31 700.42 L569.82 699.71 L569.34 701.56 L568.86 707.1 L568.38 704.08 L567.9 706.11 L567.41 710.59 L566.93 706.95 L566.45 705.92 L565.97 707.59 L565.49 708.69 L565.01 711.19 L564.52 709.68 L564.04 714.12 L563.56 713.51 L563.08 714.51 L562.6 710.76 L562.11 718.56 L561.63 714.83 L561.15 715.1 L560.67 718.17 L560.19 723.11 L559.7 717.51 L559.22 719.54 L558.74 720.49 L558.26 719.13 L557.78 720.21 L557.29 722.82 L556.81 722.24 L556.33 720.39 L555.85 722.54 L555.37 727.56 L554.89 725.85 L554.4 725.22 L553.92 720.91 L553.44 725.08 L552.96 726.73 L552.48 727.32 L551.99 727.24 L551.51 731.59 L551.03 729.19 L550.55 731.56 L550.07 731.28 L549.58 733.51 L549.1 731.32 L548.62 731.47 L548.14 731.04 L547.66 735.39 L547.17 737.15 L546.69 734.42 L546.21 739.68 L545.73 736.39 L545.25 737.07 L544.76 736.6 L544.28 737.19 L543.8 739.02 L543.32 740.02 L542.84 738.41 L542.36 740.55 L541.87 743.79 L541.39 739.38 L540.91 743.83 L540.43 743.77 L539.95 747.37 L539.46 746.05 L538.98 744.47 L538.5 746.26 L538.02 746.54 L537.54 746.1 L537.05 747.98 L536.57 747.43 L536.09 747.34 L535.61 748.85 L535.13 750.93 L534.64 750.37 L534.16 751.28 L533.68 755.49 L533.2 755.26 L532.72 752.04 L532.24 754.23 L531.75 754.77 L531.27 758.94 L530.79 755.92 L530.31 754.68 L529.83 753.56 L529.34 755.01 L528.86 758.85 L528.38 757.63 L527.9 758.98 L527.42 760.84 L526.93 761.64 L526.45 760.93 L525.97 763.67 L525.49 762.61 L525.01 762.88 L524.52 763.22 L524.04 764.45 L523.56 764.15 L523.08 766.97 L522.6 763.5 L522.11 766.92 L521.63 767.17 L521.15 765.76 L520.67 767.28 L520.19 766.72 L519.71 769.04 L519.22 769.39 L518.74 771.23 L518.26 768.73 L517.78 770.57 L517.3 771.56 L516.81 772.93 L516.33 773.2 L515.85 774.19 L515.37 775.35 L514.89 773.7 L514.4 774.1 L513.92 779.35 L513.44 775.27 L512.96 777.55 L512.48 777.32 L511.99 777 L511.51 780 L511.03 781.07 L510.55 781.73 L510.07 780.18 L509.59 781.97 L509.1 782.49 L508.62 781.73 L508.14 782.7 L507.66 782.99 L507.18 786 L506.69 782.19 L506.21 784.74 L505.73 786.29 L505.25 784.79 L504.77 786.53 L504.28 787.96 L503.8 787.9 L503.32 788.52 L502.84 789.27 L502.36 792.08 L501.87 791.38 L501.39 789.12 L500.91 790.99 L500.43 790.9 L499.95 792.14 L499.47 790.81 L498.98 790.51 L498.5 794.37 L498.02 794.96 L497.54 796.04 L497.06 795.93 L496.57 795.9 L496.09 796.97 L495.61 795.27 L495.13 796.79 L494.65 799.38 L494.16 796.01 L493.68 799.47 L493.2 797.46 L492.72 797.46 L492.24 797.65 L491.75 797.05 L491.27 799.95 L490.79 800.98 L490.31 798.91 L489.83 798.38 L489.34 802.61 L488.86 802.15 L488.38 801.77 L487.9 804.52 L487.42 803.13 L486.94 804.6 L486.45 802.51 L485.97 803.86 L485.49 804.73 L485.01 804.76 L484.53 806.09 L484.04 806.51 L483.56 809.82 L483.08 808.26 L482.6 807.6 L482.12 807.1 L481.63 806.85 L481.15 808.26 L480.67 810.05 L480.19 811.36 L479.71 809.37 L479.22 809.99 L478.74 811.45 L478.26 810.91 L477.78 811.36 L477.3 811.81 L476.82 810.51 L476.33 812.29 L475.85 813.57 L475.37 813.46 L474.89 813.47 L474.41 814.1 L473.92 812.81 L473.44 814.31 L472.96 814.47 L472.48 817.25 L472 816.1 L471.51 817.82 L471.03 817.75 L470.55 815.84 L470.07 816.37 L469.59 816.13 L469.1 817.74 L468.62 818.25 L468.14 818.71 L467.66 818.23 L467.18 817.92 L466.7 819.31 L466.21 819.55 L465.73 819.74 L465.25 820.04 L464.77 822.27 L464.29 821.65 L463.8 820.69 L463.32 820.05 L462.84 821.45 L462.36 823.46 L461.88 822.65 L461.39 822.09 L460.91 822.34 L460.43 824.64 L459.95 824.38 L459.47 823.79 L458.98 825.56 L458.5 823 L458.02 826.33 L457.54 825.6 L457.06 825.48 L456.57 824.51 L456.09 826.38 L455.61 827.31 L455.13 826.44 L454.65 825.37 L454.17 827.58 L453.68 827.53 L453.2 827.13 L452.72 827.35 L452.24 827.91 L451.76 828.93 L451.27 828.75 L450.79 827.51 L450.31 828.53 L449.83 830.7 L449.35 830.88 L448.86 830.54 L448.38 830.77 L447.9 834.51 L447.42 831.85 L446.94 831.51 L446.45 832.31 L445.97 832.14 L445.49 834.38 L445.01 831.55 L444.53 832.8 L444.05 834.99 L443.56 835.53 L443.08 837.25 L442.6 834.92 L442.12 834.42 L441.64 835.69 L441.15 833.44 L440.67 834.98 L440.19 835.96 L439.71 834.42 L439.23 837.64 L438.74 838.02 L438.26 836.37 L437.78 837.21 L437.3 836.59 L436.82 838.17 L436.33 835.73 L435.85 836.43 L435.37 839.1 L434.89 840.76 L434.41 839.64 L433.93 839.22 L433.44 840.39 L432.96 839.7 L432.48 839.84 L432 839.72 L431.52 838.83 L431.03 841.51 L430.55 840.41 L430.07 841.34 L429.59 840.35 L429.11 841.77 L428.62 840.73 L428.14 841.34 L427.66 841.87 L427.18 843.39 L426.7 842.21 L426.21 842.4 L425.73 843.31 L425.25 843.04 L424.77 840.88 L424.29 843.97 L423.8 842.9 L423.32 842.59 L422.84 841.85 L422.36 844.81 L421.88 843.98 L421.4 841.29 L420.91 845.5 L420.43 841.7 L419.95 842.97 L419.47 843.02 L418.99 847.22 L418.5 846.33 L418.02 846.61 L417.54 847.4 L417.06 846.53 L416.58 845.87 L416.09 845.79 L415.61 846.82 L415.13 847.97 L414.65 846.59 L414.17 846.01 L413.68 847.41 L413.2 847.54 L412.72 845.82 L412.24 848.68 L411.76 848.06 L411.28 846.5 L410.79 849.83 L410.31 847.57 L409.83 848.99 L409.35 847.41 L408.87 849.92 L408.38 849.14 L407.9 848.57 L407.42 848.41 L406.94 848.99 L406.46 848.85 L405.97 852.2 L405.49 848.11 L405.01 849.44 L404.53 851.1 L404.05 850.59 L403.56 851.09 L403.08 850.65 L402.6 850.51 L402.12 853.23 L401.64 849.38 L401.16 850.54 L400.67 849.74 L400.19 851.68 L399.71 852.67 L399.23 853.08 L398.75 852.58 L398.26 852.36 L397.78 854.55 L397.3 854.23 L396.82 855.56 L396.34 851.57 L395.85 851.76 L395.37 854.78 L394.89 852.65 L394.41 851.37 L393.93 853.72 L393.44 853.92 L392.96 854.04 L392.48 854.45 L392 854.88 L391.52 853.61 L391.03 856.69 L390.55 851.95 L390.07 855.34 L389.59 854.38 L389.11 855.75 L388.63 855.18 L388.14 855.8 L387.66 857.53 L387.18 856.59 L386.7 856.55 L386.22 857.27 L385.73 854.02 L385.25 857.92 L384.77 857.7 L384.29 855.9 L383.81 858.69 L383.32 856.22 L382.84 855.15 L382.36 857.98 L381.88 857.87 L381.4 857.65 L380.91 855.69 L380.43 857.16 L379.95 855.91 L379.47 856.91 L378.99 859.03 L378.51 856.24 L378.02 856.76 L377.54 857.67 L377.06 856.55 L376.58 858.97 L376.1 857.58 L375.61 858.54 L375.13 858.48 L374.65 857.59 L374.17 857.37 L373.69 857.61 L373.2 860.02 L372.72 858.93 L372.24 858.83 L371.76 858.42 L371.28 860.48 L370.79 861.28 L370.31 856.66 L369.83 855.44 L369.35 859.84 L368.87 857.08 L368.39 859.65 L367.9 861.15 L367.42 860.04 L366.94 860.3 L366.46 860.4 L365.98 861.8 L365.49 859.3 L365.01 858.12 L364.53 861.44 L364.05 858.95 L363.57 860.67 L363.08 861.82 L362.6 860.77 L362.12 860.35 L361.64 861.12 L361.16 862.78 L360.67 862.15 L360.19 861.22 L359.71 863.46 L359.23 864.45 L358.75 859.72 L358.26 860.51 L357.78 862.17 L357.3 865.44 L356.82 860.71 L356.34 863.73 L355.86 863.08 L355.37 862.72 L354.89 862.59 L354.41 861.23 L353.93 863.23 L353.45 860.7 L352.96 864.8 L352.48 861.18 L352 862.58 L351.52 863.08 L351.04 861.63 L350.55 862.58 L350.07 862.26 L349.59 862.32 L349.11 862.36 L348.63 862.94 L348.14 861.78 L347.66 861.81 L347.18 860.94 L346.7 861.29 L346.22 865.02 L345.74 863.28 L345.25 861.52 L344.77 865.24 L344.29 860.6 L343.81 864.38 L343.33 864.69 L342.84 860.85 L342.36 864.22 L341.88 863.06 L341.4 862.69 L340.92 863.77 L340.43 865.46 L339.95 864.05 L339.47 862.44 L338.99 862.89 L338.51 862.24 L338.02 864.06 L337.54 865.57 L337.06 862.58 L336.58 864.86 L336.1 862.94 L335.61 865.06 L335.13 864.02 L334.65 868.58 L334.17 866.02 L333.69 863.12 L333.21 866.44 L332.72 864.28 L332.24 865.09 L331.76 865.25 L331.28 864.37 L330.8 866.01 L330.31 865.08 L329.83 867.35 L329.35 864.32 L328.87 864.7 L328.39 863.79 L327.9 866.06 L327.42 864.84 L326.94 866.91 L326.46 866.12 L325.98 867.24 L325.49 866.72 L325.01 866.27 L324.53 867.34 L324.05 867.8 L323.57 866.19 L323.09 865.59 L322.6 868.81 L322.12 865.94 L321.64 866.95 L321.16 866.7 L320.68 866.17 L320.19 865.81 L319.71 865.25 L319.23 868.36 L318.75 867.22 L318.27 866.98 L317.78 868.97 L317.3 867.85 L316.82 867.08 L316.34 867.01 L315.86 866.03 L315.37 869.19 L314.89 868.28 L314.41 867.43 L313.93 867.62 L313.45 867.27 L312.97 868.88 L312.48 868.1 L312 867.29 L311.52 867.08 L311.04 869 L310.56 867.49 L310.07 867.56 L309.59 868.51 L309.11 866.9 L308.63 867.55 L308.15 868.16 L307.66 870.03 L307.18 865.44 L306.7 869.3 L306.22 866.46 L305.74 868.99 L305.25 867.7 L304.77 868.13 L304.29 868.76 L303.81 867.05 L303.33 868.41 L302.84 867.07 L302.36 868.13 L301.88 869.85 L301.4 866.98 L300.92 868.45 L300.44 869.54 L299.95 867.84 L299.47 869.22 L298.99 866.96 L298.51 869.52 L298.03 868.36 L297.54 873.32 L297.06 869.71 L296.58 867.38 L296.1 870.08 L295.62 869.81 L295.13 868.21 L294.65 869.71 L294.17 870.12 L293.69 868.84 L293.21 870.69 L292.72 868.07 L292.24 869.19 L291.76 868.2Z" stroke="none" stroke-width="0" fill="#7fe8bf" />
<path d="M291.76 873.72 L292.24 873.72 L292.72 873.72 L293.21 873.72 L293.69 873.72 L294.17 873.72 L294.65 873.72 L295.13 873.72 L295.62 873.72 L296.1 873.72 L296.58 873.72 L297.06 873.71 L297.54 873.71 L298.03 873.71 L298.51 873.71 L298.99 873.71 L299.47 873.71 L299.95 873.71 L300.44 873.71 L300.92 873.71 L301.4 873.71 L301.88 873.71 L302.36 873.71 L302.84 873.71 L303.33 873.71 L303.81 873.71 L304.29 873.71 L304.77 873.71 L305.25 873.71 L305.74 873.7 L306.22 873.7 L306.7 873.7 L307.18 873.7 L307.66 873.7 L308.15 873.7 L308.63 873.7 L309.11 873.7 L309.59 873.7 L310.07 873.7 L310.56 873.7 L311.04 873.7 L311.52 873.7 L312 873.7 L312.48 873.7 L312.97 873.69 L313.45 873.69 L313.93 873.69 L314.41 873.69 L314.89 873.69 L315.37 873.69 L315.86 873.69 L316.34 873.69 L316.82 873.69 L317.3 873.69 L317.78 873.69 L318.27 873.69 L318.75 873.68 L319.23 873.68 L319.71 873.68 L320.19 873.68 L320.68 873.68 L321.16 873.68 L321.64 873.68 L322.12 873.68 L322.6 873.68 L323.09 873.68 L323.57 873.67 L324.05 873.67 L324.53 873.67 L325.01 873.67 L325.49 873.67 L325.98 873.67 L326.46 873.67 L326.94 873.67 L327.42 873.67 L327.9 873.66 L328.39 873.66 L328.87 873.66 L329.35 873.66 L329.83 873.66 L330.31 873.66 L330.8 873.66 L331.28 873.66 L331.76 873.65 L332.24 873.65 L332.72 873.65 L333.21 873.65 L333.69 873.65 L334.17 873.65 L334.65 873.65 L335.13 873.65 L335.61 873.64 L336.1 873.64 L336.58 873.64 L337.06 873.64 L337.54 873.64 L338.02 873.64 L338.51 873.63 L338.99 873.63 L339.47 873.63 L339.95 873.63 L340.43 873.63 L340.92 873.63 L341.4 873.62 L341.88 873.62 L342.36 873.62 L342.84 873.62 L343.33 873.62 L343.81 873.62 L344.29 873.61 L344.77 873.61 L345.25 873.61 L345.74 873.61 L346.22 873.61 L346.7 873.6 L347.18 873.6 L347.66 873.6 L348.14 873.6 L348.63 873.6 L349.11 873.59 L349.59 873.59 L350.07 873.59 L350.55 873.59 L351.04 873.59 L351.52 873.58 L352 873.58 L352.48 873.58 L352.96 873.58 L353.45 873.57 L353.93 873.57 L354.41 873.57 L354.89 873.57 L355.37 873.56 L355.86 873.56 L356.34 873.56 L356.82 873.56 L357.3 873.55 L357.78 873.55 L358.26 873.55 L358.75 873.54 L359.23 873.54 L359.71 873.54 L360.19 873.54 L360.67 873.53 L361.16 873.53 L361.64 873.53 L362.12 873.52 L362.6 873.52 L363.08 873.52 L363.57 873.51 L364.05 873.51 L364.53 873.51 L365.01 873.5 L365.49 873.5 L365.98 873.5 L366.46 873.49 L366.94 873.49 L367.42 873.49 L367.9 873.48 L368.39 873.48 L368.87 873.48 L369.35 873.47 L369.83 873.47 L370.31 873.47 L370.79 873.46 L371.28 873.46 L371.76 873.45 L372.24 873.45 L372.72 873.44 L373.2 873.44 L373.69 873.44 L374.17 873.43 L374.65 873.43 L375.13 873.42 L375.61 873.42 L376.1 873.41 L376.58 873.41 L377.06 873.4 L377.54 873.4 L378.02 873.4 L378.51 873.39 L378.99 873.39 L379.47 873.38 L379.95 873.38 L380.43 873.37 L380.91 873.37 L381.4 873.36 L381.88 873.35 L382.36 873.35 L382.84 873.34 L383.32 873.34 L383.81 873.33 L384.29 873.33 L384.77 873.32 L385.25 873.31 L385.73 873.31 L386.22 873.3 L386.7 873.3 L387.18 873.29 L387.66 873.28 L388.14 873.28 L388.63 873.27 L389.11 873.26 L389.59 873.26 L390.07 873.25 L390.55 873.24 L391.03 873.24 L391.52 873.23 L392 873.22 L392.48 873.22 L392.96 873.21 L393.44 873.2 L393.93 873.19 L394.41 873.19 L394.89 873.18 L395.37 873.17 L395.85 873.16 L396.34 873.16 L396.82 873.15 L397.3 873.14 L397.78 873.13 L398.26 873.12 L398.75 873.11 L399.23 873.1 L399.71 873.1 L400.19 873.09 L400.67 873.08 L401.16 873.07 L401.64 873.06 L402.12 873.05 L402.6 873.04 L403.08 873.03 L403.56 873.02 L404.05 873.01 L404.53 873 L405.01 872.99 L405.49 872.98 L405.97 872.97 L406.46 872.96 L406.94 872.95 L407.42 872.94 L407.9 872.93 L408.38 872.92 L408.87 872.9 L409.35 872.89 L409.83 872.88 L410.31 872.87 L410.79 872.86 L411.28 872.84 L411.76 872.83 L412.24 872.82 L412.72 872.81 L413.2 872.79 L413.68 872.78 L414.17 872.77 L414.65 872.75 L415.13 872.74 L415.61 872.73 L416.09 872.71 L416.58 872.7 L417.06 872.69 L417.54 872.67 L418.02 872.66 L418.5 872.64 L418.99 872.63 L419.47 872.61 L419.95 872.6 L420.43 872.58 L420.91 872.56 L421.4 872.55 L421.88 872.53 L422.36 872.52 L422.84 872.5 L423.32 872.48 L423.8 872.46 L424.29 872.45 L424.77 872.43 L425.25 872.41 L425.73 872.39 L426.21 872.38 L426.7 872.36 L427.18 872.34 L427.66 872.32 L428.14 872.3 L428.62 872.28 L429.11 872.26 L429.59 872.24 L430.07 872.22 L430.55 872.2 L431.03 872.18 L431.52 872.16 L432 872.14 L432.48 872.11 L432.96 872.09 L433.44 872.07 L433.93 872.05 L434.41 872.02 L434.89 872 L435.37 871.98 L435.85 871.95 L436.33 871.93 L436.82 871.9 L437.3 871.88 L437.78 871.85 L438.26 871.83 L438.74 871.8 L439.23 871.78 L439.71 871.75 L440.19 871.72 L440.67 871.7 L441.15 871.67 L441.64 871.64 L442.12 871.61 L442.6 871.58 L443.08 871.55 L443.56 871.53 L444.05 871.5 L444.53 871.47 L445.01 871.43 L445.49 871.4 L445.97 871.37 L446.45 871.34 L446.94 871.31 L447.42 871.28 L447.9 871.24 L448.38 871.21 L448.86 871.18 L449.35 871.14 L449.83 871.11 L450.31 871.07 L450.79 871.04 L451.27 871 L451.76 870.96 L452.24 870.93 L452.72 870.89 L453.2 870.85 L453.68 870.81 L454.17 870.77 L454.65 870.73 L455.13 870.69 L455.61 870.65 L456.09 870.61 L456.57 870.57 L457.06 870.53 L457.54 870.48 L458.02 870.44 L458.5 870.4 L458.98 870.35 L459.47 870.31 L459.95 870.26 L460.43 870.22 L460.91 870.17 L461.39 870.12 L461.88 870.07 L462.36 870.02 L462.84 869.98 L463.32 869.93 L463.8 869.88 L464.29 869.82 L464.77 869.77 L465.25 869.72 L465.73 869.67 L466.21 869.61 L466.7 869.56 L467.18 869.5 L467.66 869.45 L468.14 869.39 L468.62 869.33 L469.1 869.28 L469.59 869.22 L470.07 869.16 L470.55 869.1 L471.03 869.04 L471.51 868.97 L472 868.91 L472.48 868.85 L472.96 868.78 L473.44 868.72 L473.92 868.65 L474.41 868.59 L474.89 868.52 L475.37 868.45 L475.85 868.38 L476.33 868.31 L476.82 868.24 L477.3 868.17 L477.78 868.09 L478.26 868.02 L478.74 867.95 L479.22 867.87 L479.71 867.79 L480.19 867.72 L480.67 867.64 L481.15 867.56 L481.63 867.48 L482.12 867.4 L482.6 867.31 L483.08 867.23 L483.56 867.15 L484.04 867.06 L484.53 866.97 L485.01 866.89 L485.49 866.8 L485.97 866.71 L486.45 866.62 L486.94 866.53 L487.42 866.43 L487.9 866.34 L488.38 866.24 L488.86 866.15 L489.34 866.05 L489.83 865.95 L490.31 865.85 L490.79 865.75 L491.27 865.64 L491.75 865.54 L492.24 865.43 L492.72 865.33 L493.2 865.22 L493.68 865.11 L494.16 865 L494.65 864.89 L495.13 864.78 L495.61 864.66 L496.09 864.54 L496.57 864.43 L497.06 864.31 L497.54 864.19 L498.02 864.07 L498.5 863.94 L498.98 863.82 L499.47 863.69 L499.95 863.56 L500.43 863.43 L500.91 863.3 L501.39 863.17 L501.87 863.04 L502.36 862.9 L502.84 862.76 L503.32 862.63 L503.8 862.49 L504.28 862.34 L504.77 862.2 L505.25 862.05 L505.73 861.91 L506.21 861.76 L506.69 861.61 L507.18 861.45 L507.66 861.3 L508.14 861.14 L508.62 860.99 L509.1 860.83 L509.59 860.66 L510.07 860.5 L510.55 860.34 L511.03 860.17 L511.51 860 L511.99 859.83 L512.48 859.65 L512.96 859.48 L513.44 859.3 L513.92 859.12 L514.4 858.94 L514.89 858.76 L515.37 858.57 L515.85 858.38 L516.33 858.19 L516.81 858 L517.3 857.8 L517.78 857.61 L518.26 857.41 L518.74 857.21 L519.22 857 L519.71 856.8 L520.19 856.59 L520.67 856.38 L521.15 856.17 L521.63 855.95 L522.11 855.73 L522.6 855.51 L523.08 855.29 L523.56 855.06 L524.04 854.84 L524.52 854.61 L525.01 854.37 L525.49 854.14 L525.97 853.9 L526.45 853.66 L526.93 853.42 L527.42 853.17 L527.9 852.92 L528.38 852.67 L528.86 852.41 L529.34 852.16 L529.83 851.9 L530.31 851.63 L530.79 851.37 L531.27 851.1 L531.75 850.83 L532.24 850.55 L532.72 850.28 L533.2 850 L533.68 849.71 L534.16 849.43 L534.64 849.14 L535.13 848.84 L535.61 848.55 L536.09 848.25 L536.57 847.95 L537.05 847.64 L537.54 847.33 L538.02 847.02 L538.5 846.7 L538.98 846.38 L539.46 846.06 L539.95 845.74 L540.43 845.41 L540.91 845.08 L541.39 844.74 L541.87 844.4 L542.36 844.06 L542.84 843.71 L543.32 843.36 L543.8 843.01 L544.28 842.65 L544.76 842.29 L545.25 841.92 L545.73 841.56 L546.21 841.18 L546.69 840.81 L547.17 840.43 L547.66 840.04 L548.14 839.66 L548.62 839.27 L549.1 838.87 L549.58 838.47 L550.07 838.07 L550.55 837.66 L551.03 837.25 L551.51 836.83 L551.99 836.42 L552.48 835.99 L552.96 835.56 L553.44 835.13 L553.92 834.7 L554.4 834.26 L554.89 833.81 L555.37 833.36 L555.85 832.91 L556.33 832.45 L556.81 831.99 L557.29 831.52 L557.78 831.05 L558.26 830.58 L558.74 830.1 L559.22 829.61 L559.7 829.12 L560.19 828.63 L560.67 828.13 L561.15 827.63 L561.63 827.12 L562.11 826.61 L562.6 826.09 L563.08 825.57 L563.56 825.05 L564.04 824.52 L564.52 823.98 L565.01 823.44 L565.49 822.89 L565.97 822.34 L566.45 821.79 L566.93 821.23 L567.41 820.66 L567.9 820.09 L568.38 819.52 L568.86 818.94 L569.34 818.35 L569.82 817.76 L570.31 817.17 L570.79 816.56 L571.27 815.96 L571.75 815.35 L572.23 814.73 L572.72 814.11 L573.2 813.48 L573.68 812.85 L574.16 812.22 L574.64 811.57 L575.13 810.93 L575.61 810.27 L576.09 809.61 L576.57 808.95 L577.05 808.28 L577.53 807.61 L578.02 806.93 L578.5 806.24 L578.98 805.55 L579.46 804.86 L579.94 804.15 L580.43 803.45 L580.91 802.73 L581.39 802.02 L581.87 801.29 L582.35 800.56 L582.84 799.83 L583.32 799.09 L583.8 798.34 L584.28 797.59 L584.76 796.84 L585.25 796.07 L585.73 795.3 L586.21 794.53 L586.69 793.75 L587.17 792.97 L587.66 792.18 L588.14 791.38 L588.62 790.58 L589.1 789.77 L589.58 788.96 L590.06 788.14 L590.55 787.32 L591.03 786.49 L591.51 785.65 L591.99 784.81 L592.47 783.96 L592.96 783.11 L593.44 782.26 L593.92 781.39 L594.4 780.52 L594.88 779.65 L595.37 778.77 L595.85 777.88 L596.33 776.99 L596.81 776.1 L597.29 775.19 L597.78 774.29 L598.26 773.37 L598.74 772.46 L599.22 771.53 L599.7 770.6 L600.18 769.67 L600.67 768.73 L601.15 767.78 L601.63 766.83 L602.11 765.88 L602.59 764.92 L603.08 763.95 L603.56 762.98 L604.04 762 L604.52 761.02 L605 760.03 L605.49 759.04 L605.97 758.04 L606.45 757.04 L606.93 756.04 L607.41 755.02 L607.9 754.01 L608.38 752.98 L608.86 751.96 L609.34 750.93 L609.82 749.89 L610.3 748.85 L610.79 747.8 L611.27 746.75 L611.75 745.7 L612.23 744.64 L612.71 743.58 L613.2 742.51 L613.68 741.44 L614.16 740.36 L614.64 739.28 L615.12 738.2 L615.61 737.11 L616.09 736.01 L616.57 734.92 L617.05 733.82 L617.53 732.71 L618.02 731.6 L618.5 730.49 L618.98 729.37 L619.46 728.25 L619.94 727.13 L620.43 726 L620.91 724.87 L621.39 723.74 L621.87 722.61 L622.35 721.47 L622.83 720.32 L623.32 719.18 L623.8 718.03 L624.28 716.88 L624.76 715.72 L625.24 714.57 L625.73 713.41 L626.21 712.25 L626.69 711.08 L627.17 709.92 L627.65 708.75 L628.14 707.58 L628.62 706.41 L629.1 705.23 L629.58 704.06 L630.06 702.88 L630.55 701.7 L631.03 700.52 L631.51 699.33 L631.99 698.15 L632.47 696.97 L632.95 695.78 L633.44 694.59 L633.92 693.41 L634.4 692.22 L634.88 691.03 L635.36 689.84 L635.85 688.65 L636.33 687.46 L636.81 686.27 L637.29 685.07 L637.77 683.88 L638.26 682.69 L638.74 681.5 L639.22 680.31 L639.7 679.12 L640.18 677.93 L640.67 676.74 L641.15 675.56 L641.63 674.37 L642.11 673.18 L642.59 672 L643.07 670.82 L643.56 669.63 L644.04 668.45 L644.52 667.27 L645 666.1 L645.48 664.92 L645.97 663.75 L646.45 662.58 L646.93 661.41 L647.41 660.24 L647.89 659.08 L648.38 657.92 L648.86 656.76 L649.34 655.61 L649.82 654.45 L650.3 653.3 L650.79 652.16 L651.27 651.02 L651.75 649.88 L652.23 648.74 L652.71 647.61 L653.2 646.48 L653.68 645.36 L654.16 644.24 L654.64 643.12 L655.12 642.01 L655.6 640.9 L656.09 639.8 L656.57 638.7 L657.05 637.61 L657.53 636.52 L658.01 635.44 L658.5 634.36 L658.98 633.29 L659.46 632.23 L659.94 631.16 L660.42 630.11 L660.91 629.06 L661.39 628.02 L661.87 626.98 L662.35 625.94 L662.83 624.92 L663.32 623.9 L663.8 622.89 L664.28 621.88 L664.76 620.88 L665.24 619.89 L665.72 618.9 L666.21 617.92 L666.69 616.95 L667.17 615.98 L667.65 615.02 L668.13 614.07 L668.62 613.12 L669.1 612.19 L669.58 611.26 L670.06 610.34 L670.54 609.42 L671.03 608.51 L671.51 607.62 L671.99 606.72 L672.47 605.84 L672.95 604.97 L673.44 604.1 L673.92 603.24 L674.4 602.39 L674.88 601.55 L675.36 600.71 L675.84 599.89 L676.33 599.07 L676.81 598.26 L677.29 597.46 L677.77 596.67 L678.25 595.88 L678.74 595.11 L679.22 594.34 L679.7 593.58 L680.18 592.83 L680.66 592.09 L681.15 591.36 L681.63 590.64 L682.11 589.92 L682.59 589.22 L683.07 588.52 L683.56 587.84 L684.04 587.16 L684.52 586.49 L685 585.83 L685.48 585.17 L685.97 584.53 L686.45 583.9 L686.93 583.27 L687.41 582.66 L687.89 582.05 L688.37 581.45 L688.86 580.86 L689.34 580.28 L689.82 579.71 L690.3 579.14 L690.78 578.59 L691.27 578.04 L691.75 577.51 L692.23 576.98 L692.71 576.46 L693.19 575.95 L693.68 575.45 L694.16 574.95 L694.64 574.47 L695.12 573.99 L695.6 573.52 L696.09 573.06 L696.57 572.61 L697.05 572.17 L697.53 571.73 L698.01 571.3 L698.49 570.89 L698.98 570.47 L699.46 570.07 L699.94 569.68 L700.42 569.29 L700.9 568.91 L701.39 568.54 L701.87 568.17 L702.35 567.82 L702.83 567.47 L703.31 567.13 L703.8 566.79 L704.28 566.47 L704.76 566.15 L705.24 565.83 L705.72 565.53 L706.21 565.23 L706.69 564.94 L707.17 564.65 L707.65 564.37 L708.13 564.1 L708.61 563.84 L709.1 563.58 L709.58 563.32 L710.06 563.08 L710.54 562.84 L711.02 562.6 L711.51 562.38 L711.99 562.15 L712.47 561.94 L712.95 561.73 L713.43 561.52 L713.92 561.32 L714.4 561.13 L714.88 560.94 L715.36 560.75 L715.84 560.58 L716.33 560.4 L716.81 560.23 L717.29 560.07 L717.77 559.91 L718.25 559.76 L718.74 559.61 L719.22 559.46 L719.7 559.32 L720.18 559.19 L720.66 559.05 L721.14 558.93 L721.63 558.8 L722.11 558.68 L722.59 558.56 L723.07 558.45 L723.55 558.34 L724.04 558.24 L724.52 558.14 L725 558.04" stroke="#ccd2cf" stroke-width="4.8" fill="none" stroke-linecap="round" stroke-linejoin="round"/>
<path d="M291.76 873.69 L292.24 873.69 L292.72 873.69 L293.21 873.69 L293.69 873.69 L294.17 873.69 L294.65 873.68 L295.13 873.68 L295.62 873.68 L296.1 873.68 L296.58 873.68 L297.06 873.68 L297.54 873.68 L298.03 873.68 L298.51 873.68 L298.99 873.68 L299.47 873.67 L299.95 873.67 L300.44 873.67 L300.92 873.67 L301.4 873.67 L301.88 873.67 L302.36 873.67 L302.84 873.67 L303.33 873.67 L303.81 873.66 L304.29 873.66 L304.77 873.66 L305.25 873.66 L305.74 873.66 L306.22 873.66 L306.7 873.66 L307.18 873.66 L307.66 873.65 L308.15 873.65 L308.63 873.65 L309.11 873.65 L309.59 873.65 L310.07 873.65 L310.56 873.65 L311.04 873.65 L311.52 873.64 L312 873.64 L312.48 873.64 L312.97 873.64 L313.45 873.64 L313.93 873.64 L314.41 873.63 L314.89 873.63 L315.37 873.63 L315.86 873.63 L316.34 873.63 L316.82 873.63 L317.3 873.62 L317.78 873.62 L318.27 873.62 L318.75 873.62 L319.23 873.62 L319.71 873.62 L320.19 873.61 L320.68 873.61 L321.16 873.61 L321.64 873.61 L322.12 873.61 L322.6 873.6 L323.09 873.6 L323.57 873.6 L324.05 873.6 L324.53 873.6 L325.01 873.59 L325.49 873.59 L325.98 873.59 L326.46 873.59 L326.94 873.59 L327.42 873.58 L327.9 873.58 L328.39 873.58 L328.87 873.58 L329.35 873.57 L329.83 873.57 L330.31 873.57 L330.8 873.57 L331.28 873.56 L331.76 873.56 L332.24 873.56 L332.72 873.56 L333.21 873.55 L333.69 873.55 L334.17 873.55 L334.65 873.55 L335.13 873.54 L335.61 873.54 L336.1 873.54 L336.58 873.53 L337.06 873.53 L337.54 873.53 L338.02 873.52 L338.51 873.52 L338.99 873.52 L339.47 873.52 L339.95 873.51 L340.43 873.51 L340.92 873.51 L341.4 873.5 L341.88 873.5 L342.36 873.49 L342.84 873.49 L343.33 873.49 L343.81 873.48 L344.29 873.48 L344.77 873.48 L345.25 873.47 L345.74 873.47 L346.22 873.47 L346.7 873.46 L347.18 873.46 L347.66 873.45 L348.14 873.45 L348.63 873.45 L349.11 873.44 L349.59 873.44 L350.07 873.43 L350.55 873.43 L351.04 873.42 L351.52 873.42 L352 873.41 L352.48 873.41 L352.96 873.41 L353.45 873.4 L353.93 873.4 L354.41 873.39 L354.89 873.39 L355.37 873.38 L355.86 873.38 L356.34 873.37 L356.82 873.37 L357.3 873.36 L357.78 873.36 L358.26 873.35 L358.75 873.34 L359.23 873.34 L359.71 873.33 L360.19 873.33 L360.67 873.32 L361.16 873.32 L361.64 873.31 L362.12 873.3 L362.6 873.3 L363.08 873.29 L363.57 873.29 L364.05 873.28 L364.53 873.27 L365.01 873.27 L365.49 873.26 L365.98 873.25 L366.46 873.25 L366.94 873.24 L367.42 873.23 L367.9 873.22 L368.39 873.22 L368.87 873.21 L369.35 873.2 L369.83 873.2 L370.31 873.19 L370.79 873.18 L371.28 873.17 L371.76 873.16 L372.24 873.16 L372.72 873.15 L373.2 873.14 L373.69 873.13 L374.17 873.12 L374.65 873.11 L375.13 873.11 L375.61 873.1 L376.1 873.09 L376.58 873.08 L377.06 873.07 L377.54 873.06 L378.02 873.05 L378.51 873.04 L378.99 873.03 L379.47 873.02 L379.95 873.01 L380.43 873 L380.91 872.99 L381.4 872.98 L381.88 872.97 L382.36 872.96 L382.84 872.95 L383.32 872.94 L383.81 872.93 L384.29 872.92 L384.77 872.91 L385.25 872.89 L385.73 872.88 L386.22 872.87 L386.7 872.86 L387.18 872.85 L387.66 872.83 L388.14 872.82 L388.63 872.81 L389.11 872.8 L389.59 872.78 L390.07 872.77 L390.55 872.76 L391.03 872.74 L391.52 872.73 L392 872.72 L392.48 872.7 L392.96 872.69 L393.44 872.67 L393.93 872.66 L394.41 872.64 L394.89 872.63 L395.37 872.61 L395.85 872.6 L396.34 872.58 L396.82 872.57 L397.3 872.55 L397.78 872.53 L398.26 872.52 L398.75 872.5 L399.23 872.48 L399.71 872.47 L400.19 872.45 L400.67 872.43 L401.16 872.41 L401.64 872.4 L402.12 872.38 L402.6 872.36 L403.08 872.34 L403.56 872.32 L404.05 872.3 L404.53 872.28 L405.01 872.26 L405.49 872.24 L405.97 872.22 L406.46 872.2 L406.94 872.18 L407.42 872.16 L407.9 872.14 L408.38 872.12 L408.87 872.1 L409.35 872.07 L409.83 872.05 L410.31 872.03 L410.79 872 L411.28 871.98 L411.76 871.96 L412.24 871.93 L412.72 871.91 L413.2 871.88 L413.68 871.86 L414.17 871.83 L414.65 871.81 L415.13 871.78 L415.61 871.76 L416.09 871.73 L416.58 871.7 L417.06 871.67 L417.54 871.65 L418.02 871.62 L418.5 871.59 L418.99 871.56 L419.47 871.53 L419.95 871.5 L420.43 871.47 L420.91 871.44 L421.4 871.41 L421.88 871.38 L422.36 871.35 L422.84 871.32 L423.32 871.28 L423.8 871.25 L424.29 871.22 L424.77 871.18 L425.25 871.15 L425.73 871.11 L426.21 871.08 L426.7 871.04 L427.18 871.01 L427.66 870.97 L428.14 870.93 L428.62 870.9 L429.11 870.86 L429.59 870.82 L430.07 870.78 L430.55 870.74 L431.03 870.7 L431.52 870.66 L432 870.62 L432.48 870.58 L432.96 870.54 L433.44 870.49 L433.93 870.45 L434.41 870.41 L434.89 870.36 L435.37 870.32 L435.85 870.27 L436.33 870.23 L436.82 870.18 L437.3 870.13 L437.78 870.09 L438.26 870.04 L438.74 869.99 L439.23 869.94 L439.71 869.89 L440.19 869.84 L440.67 869.79 L441.15 869.73 L441.64 869.68 L442.12 869.63 L442.6 869.57 L443.08 869.52 L443.56 869.46 L444.05 869.41 L444.53 869.35 L445.01 869.29 L445.49 869.23 L445.97 869.17 L446.45 869.11 L446.94 869.05 L447.42 868.99 L447.9 868.93 L448.38 868.87 L448.86 868.8 L449.35 868.74 L449.83 868.67 L450.31 868.61 L450.79 868.54 L451.27 868.47 L451.76 868.4 L452.24 868.33 L452.72 868.26 L453.2 868.19 L453.68 868.12 L454.17 868.05 L454.65 867.97 L455.13 867.9 L455.61 867.82 L456.09 867.74 L456.57 867.67 L457.06 867.59 L457.54 867.51 L458.02 867.43 L458.5 867.34 L458.98 867.26 L459.47 867.18 L459.95 867.09 L460.43 867.01 L460.91 866.92 L461.39 866.83 L461.88 866.74 L462.36 866.65 L462.84 866.56 L463.32 866.47 L463.8 866.37 L464.29 866.28 L464.77 866.18 L465.25 866.09 L465.73 865.99 L466.21 865.89 L466.7 865.79 L467.18 865.68 L467.66 865.58 L468.14 865.48 L468.62 865.37 L469.1 865.26 L469.59 865.15 L470.07 865.05 L470.55 864.93 L471.03 864.82 L471.51 864.71 L472 864.59 L472.48 864.48 L472.96 864.36 L473.44 864.24 L473.92 864.12 L474.41 864 L474.89 863.87 L475.37 863.75 L475.85 863.62 L476.33 863.49 L476.82 863.36 L477.3 863.23 L477.78 863.1 L478.26 862.96 L478.74 862.83 L479.22 862.69 L479.71 862.55 L480.19 862.41 L480.67 862.27 L481.15 862.12 L481.63 861.98 L482.12 861.83 L482.6 861.68 L483.08 861.53 L483.56 861.38 L484.04 861.22 L484.53 861.06 L485.01 860.91 L485.49 860.75 L485.97 860.58 L486.45 860.42 L486.94 860.25 L487.42 860.09 L487.9 859.92 L488.38 859.74 L488.86 859.57 L489.34 859.39 L489.83 859.22 L490.31 859.04 L490.79 858.85 L491.27 858.67 L491.75 858.48 L492.24 858.3 L492.72 858.11 L493.2 857.91 L493.68 857.72 L494.16 857.52 L494.65 857.32 L495.13 857.12 L495.61 856.92 L496.09 856.71 L496.57 856.5 L497.06 856.29 L497.54 856.08 L498.02 855.86 L498.5 855.64 L498.98 855.42 L499.47 855.2 L499.95 854.98 L500.43 854.75 L500.91 854.52 L501.39 854.28 L501.87 854.05 L502.36 853.81 L502.84 853.57 L503.32 853.33 L503.8 853.08 L504.28 852.83 L504.77 852.58 L505.25 852.33 L505.73 852.07 L506.21 851.81 L506.69 851.55 L507.18 851.28 L507.66 851.01 L508.14 850.74 L508.62 850.47 L509.1 850.19 L509.59 849.91 L510.07 849.63 L510.55 849.34 L511.03 849.05 L511.51 848.76 L511.99 848.46 L512.48 848.16 L512.96 847.86 L513.44 847.56 L513.92 847.25 L514.4 846.94 L514.89 846.62 L515.37 846.3 L515.85 845.98 L516.33 845.66 L516.81 845.33 L517.3 845 L517.78 844.66 L518.26 844.33 L518.74 843.98 L519.22 843.64 L519.71 843.29 L520.19 842.94 L520.67 842.58 L521.15 842.22 L521.63 841.86 L522.11 841.49 L522.6 841.12 L523.08 840.75 L523.56 840.37 L524.04 839.99 L524.52 839.6 L525.01 839.21 L525.49 838.82 L525.97 838.42 L526.45 838.02 L526.93 837.61 L527.42 837.2 L527.9 836.79 L528.38 836.37 L528.86 835.95 L529.34 835.53 L529.83 835.1 L530.31 834.66 L530.79 834.23 L531.27 833.78 L531.75 833.34 L532.24 832.89 L532.72 832.43 L533.2 831.97 L533.68 831.51 L534.16 831.04 L534.64 830.57 L535.13 830.09 L535.61 829.61 L536.09 829.13 L536.57 828.64 L537.05 828.14 L537.54 827.64 L538.02 827.14 L538.5 826.63 L538.98 826.12 L539.46 825.6 L539.95 825.08 L540.43 824.55 L540.91 824.02 L541.39 823.48 L541.87 822.94 L542.36 822.39 L542.84 821.84 L543.32 821.29 L543.8 820.73 L544.28 820.16 L544.76 819.59 L545.25 819.02 L545.73 818.44 L546.21 817.85 L546.69 817.26 L547.17 816.67 L547.66 816.07 L548.14 815.46 L548.62 814.85 L549.1 814.24 L549.58 813.62 L550.07 812.99 L550.55 812.36 L551.03 811.72 L551.51 811.08 L551.99 810.44 L552.48 809.79 L552.96 809.13 L553.44 808.47 L553.92 807.8 L554.4 807.13 L554.89 806.45 L555.37 805.77 L555.85 805.08 L556.33 804.39 L556.81 803.69 L557.29 802.98 L557.78 802.27 L558.26 801.56 L558.74 800.84 L559.22 800.11 L559.7 799.38 L560.19 798.65 L560.67 797.9 L561.15 797.16 L561.63 796.4 L562.11 795.64 L562.6 794.88 L563.08 794.11 L563.56 793.34 L564.04 792.56 L564.52 791.77 L565.01 790.98 L565.49 790.19 L565.97 789.38 L566.45 788.58 L566.93 787.76 L567.41 786.95 L567.9 786.12 L568.38 785.29 L568.86 784.46 L569.34 783.62 L569.82 782.78 L570.31 781.93 L570.79 781.07 L571.27 780.21 L571.75 779.34 L572.23 778.47 L572.72 777.59 L573.2 776.71 L573.68 775.82 L574.16 774.93 L574.64 774.03 L575.13 773.13 L575.61 772.22 L576.09 771.3 L576.57 770.38 L577.05 769.46 L577.53 768.53 L578.02 767.6 L578.5 766.66 L578.98 765.71 L579.46 764.76 L579.94 763.81 L580.43 762.85 L580.91 761.88 L581.39 760.91 L581.87 759.94 L582.35 758.96 L582.84 757.97 L583.32 756.98 L583.8 755.99 L584.28 754.99 L584.76 753.99 L585.25 752.98 L585.73 751.96 L586.21 750.95 L586.69 749.93 L587.17 748.9 L587.66 747.87 L588.14 746.83 L588.62 745.79 L589.1 744.75 L589.58 743.7 L590.06 742.65 L590.55 741.59 L591.03 740.53 L591.51 739.47 L591.99 738.4 L592.47 737.33 L592.96 736.25 L593.44 735.17 L593.92 734.09 L594.4 733 L594.88 731.91 L595.37 730.82 L595.85 729.72 L596.33 728.62 L596.81 727.52 L597.29 726.41 L597.78 725.3 L598.26 724.18 L598.74 723.07 L599.22 721.95 L599.7 720.82 L600.18 719.7 L600.67 718.57 L601.15 717.44 L601.63 716.31 L602.11 715.17 L602.59 714.03 L603.08 712.89 L603.56 711.75 L604.04 710.61 L604.52 709.46 L605 708.31 L605.49 707.16 L605.97 706.01 L606.45 704.85 L606.93 703.7 L607.41 702.54 L607.9 701.38 L608.38 700.22 L608.86 699.06 L609.34 697.9 L609.82 696.74 L610.3 695.57 L610.79 694.41 L611.27 693.24 L611.75 692.08 L612.23 690.91 L612.71 689.74 L613.2 688.58 L613.68 687.41 L614.16 686.24 L614.64 685.07 L615.12 683.91 L615.61 682.74 L616.09 681.57 L616.57 680.41 L617.05 679.24 L617.53 678.08 L618.02 676.91 L618.5 675.75 L618.98 674.59 L619.46 673.43 L619.94 672.27 L620.43 671.11 L620.91 669.95 L621.39 668.8 L621.87 667.65 L622.35 666.49 L622.83 665.34 L623.32 664.2 L623.8 663.05 L624.28 661.91 L624.76 660.77 L625.24 659.63 L625.73 658.49 L626.21 657.36 L626.69 656.23 L627.17 655.1 L627.65 653.98 L628.14 652.86 L628.62 651.74 L629.1 650.63 L629.58 649.52 L630.06 648.41 L630.55 647.31 L631.03 646.21 L631.51 645.11 L631.99 644.02 L632.47 642.94 L632.95 641.85 L633.44 640.78 L633.92 639.7 L634.4 638.63 L634.88 637.57 L635.36 636.51 L635.85 635.46 L636.33 634.41 L636.81 633.36 L637.29 632.32 L637.77 631.29 L638.26 630.26 L638.74 629.24 L639.22 628.22 L639.7 627.21 L640.18 626.21 L640.67 625.21 L641.15 624.22 L641.63 623.23 L642.11 622.25 L642.59 621.27 L643.07 620.31 L643.56 619.35 L644.04 618.39 L644.52 617.44 L645 616.5 L645.48 615.57 L645.97 614.64 L646.45 613.72 L646.93 612.8 L647.41 611.9 L647.89 611 L648.38 610.11 L648.86 609.22 L649.34 608.35 L649.82 607.48 L650.3 606.61 L650.79 605.76 L651.27 604.91 L651.75 604.07 L652.23 603.24 L652.71 602.42 L653.2 601.6 L653.68 600.79 L654.16 599.99 L654.64 599.2 L655.12 598.42 L655.6 597.64 L656.09 596.87 L656.57 596.11 L657.05 595.36 L657.53 594.62 L658.01 593.88 L658.5 593.16 L658.98 592.44 L659.46 591.73 L659.94 591.02 L660.42 590.33 L660.91 589.65 L661.39 588.97 L661.87 588.3 L662.35 587.64 L662.83 586.99 L663.32 586.34 L663.8 585.71 L664.28 585.08 L664.76 584.46 L665.24 583.85 L665.72 583.25 L666.21 582.66 L666.69 582.07 L667.17 581.5 L667.65 580.93 L668.13 580.37 L668.62 579.82 L669.1 579.27 L669.58 578.74 L670.06 578.21 L670.54 577.69 L671.03 577.18 L671.51 576.68 L671.99 576.19 L672.47 575.7 L672.95 575.22 L673.44 574.75 L673.92 574.29 L674.4 573.83 L674.88 573.39 L675.36 572.95 L675.84 572.52 L676.33 572.09 L676.81 571.68 L677.29 571.27 L677.77 570.87 L678.25 570.47 L678.74 570.09 L679.22 569.71 L679.7 569.34 L680.18 568.97 L680.66 568.62 L681.15 568.27 L681.63 567.92 L682.11 567.59 L682.59 567.26 L683.07 566.93 L683.56 566.62 L684.04 566.31 L684.52 566.01 L685 565.71 L685.48 565.42 L685.97 565.14 L686.45 564.86 L686.93 564.59 L687.41 564.33 L687.89 564.07 L688.37 563.81 L688.86 563.57 L689.34 563.33 L689.82 563.09 L690.3 562.86 L690.78 562.64 L691.27 562.42 L691.75 562.21 L692.23 562 L692.71 561.8 L693.19 561.6 L693.68 561.41 L694.16 561.22 L694.64 561.04 L695.12 560.86 L695.6 560.69 L696.09 560.52 L696.57 560.36 L697.05 560.2 L697.53 560.04 L698.01 559.89 L698.49 559.75 L698.98 559.6 L699.46 559.47 L699.94 559.33 L700.42 559.2 L700.9 559.08 L701.39 558.95 L701.87 558.83 L702.35 558.72 L702.83 558.61 L703.31 558.5 L703.8 558.39 L704.28 558.29 L704.76 558.19 L705.24 558.1 L705.72 558.01 L706.21 557.92 L706.69 557.83 L707.17 557.75 L707.65 557.67 L708.13 557.59 L708.61 557.51 L709.1 557.44 L709.58 557.37 L710.06 557.3 L710.54 557.24 L711.02 557.18 L711.51 557.11 L711.99 557.06 L712.47 557 L712.95 556.94 L713.43 556.89 L713.92 556.84 L714.4 556.79 L714.88 556.75 L715.36 556.7 L715.84 556.66 L716.33 556.62 L716.81 556.58 L717.29 556.54 L717.77 556.5 L718.25 556.47 L718.74 556.43 L719.22 556.4 L719.7 556.37 L720.18 556.34 L720.66 556.31 L721.14 556.28 L721.63 556.26 L722.11 556.23 L722.59 556.21 L723.07 556.18 L723.55 556.16 L724.04 556.14 L724.52 556.12 L725 556.1" stroke="#a1aaa8" stroke-width="4.8" fill="none" stroke-linecap="round" stroke-linejoin="round"/>
<path d="M291.76 873.63 L292.24 873.63 L292.72 873.63 L293.21 873.63 L293.69 873.62 L294.17 873.62 L294.65 873.62 L295.13 873.62 L295.62 873.62 L296.1 873.61 L296.58 873.61 L297.06 873.61 L297.54 873.61 L298.03 873.61 L298.51 873.61 L298.99 873.6 L299.47 873.6 L299.95 873.6 L300.44 873.6 L300.92 873.59 L301.4 873.59 L301.88 873.59 L302.36 873.59 L302.84 873.59 L303.33 873.58 L303.81 873.58 L304.29 873.58 L304.77 873.58 L305.25 873.57 L305.74 873.57 L306.22 873.57 L306.7 873.57 L307.18 873.56 L307.66 873.56 L308.15 873.56 L308.63 873.56 L309.11 873.55 L309.59 873.55 L310.07 873.55 L310.56 873.55 L311.04 873.54 L311.52 873.54 L312 873.54 L312.48 873.53 L312.97 873.53 L313.45 873.53 L313.93 873.53 L314.41 873.52 L314.89 873.52 L315.37 873.52 L315.86 873.51 L316.34 873.51 L316.82 873.51 L317.3 873.5 L317.78 873.5 L318.27 873.5 L318.75 873.49 L319.23 873.49 L319.71 873.49 L320.19 873.48 L320.68 873.48 L321.16 873.47 L321.64 873.47 L322.12 873.47 L322.6 873.46 L323.09 873.46 L323.57 873.45 L324.05 873.45 L324.53 873.45 L325.01 873.44 L325.49 873.44 L325.98 873.43 L326.46 873.43 L326.94 873.43 L327.42 873.42 L327.9 873.42 L328.39 873.41 L328.87 873.41 L329.35 873.4 L329.83 873.4 L330.31 873.39 L330.8 873.39 L331.28 873.38 L331.76 873.38 L332.24 873.37 L332.72 873.37 L333.21 873.36 L333.69 873.36 L334.17 873.35 L334.65 873.35 L335.13 873.34 L335.61 873.34 L336.1 873.33 L336.58 873.32 L337.06 873.32 L337.54 873.31 L338.02 873.31 L338.51 873.3 L338.99 873.29 L339.47 873.29 L339.95 873.28 L340.43 873.28 L340.92 873.27 L341.4 873.26 L341.88 873.26 L342.36 873.25 L342.84 873.24 L343.33 873.23 L343.81 873.23 L344.29 873.22 L344.77 873.21 L345.25 873.21 L345.74 873.2 L346.22 873.19 L346.7 873.18 L347.18 873.18 L347.66 873.17 L348.14 873.16 L348.63 873.15 L349.11 873.14 L349.59 873.14 L350.07 873.13 L350.55 873.12 L351.04 873.11 L351.52 873.1 L352 873.09 L352.48 873.08 L352.96 873.07 L353.45 873.07 L353.93 873.06 L354.41 873.05 L354.89 873.04 L355.37 873.03 L355.86 873.02 L356.34 873.01 L356.82 873 L357.3 872.99 L357.78 872.98 L358.26 872.97 L358.75 872.96 L359.23 872.95 L359.71 872.93 L360.19 872.92 L360.67 872.91 L361.16 872.9 L361.64 872.89 L362.12 872.88 L362.6 872.87 L363.08 872.85 L363.57 872.84 L364.05 872.83 L364.53 872.82 L365.01 872.8 L365.49 872.79 L365.98 872.78 L366.46 872.77 L366.94 872.75 L367.42 872.74 L367.9 872.72 L368.39 872.71 L368.87 872.7 L369.35 872.68 L369.83 872.67 L370.31 872.65 L370.79 872.64 L371.28 872.62 L371.76 872.61 L372.24 872.59 L372.72 872.58 L373.2 872.56 L373.69 872.55 L374.17 872.53 L374.65 872.51 L375.13 872.5 L375.61 872.48 L376.1 872.46 L376.58 872.45 L377.06 872.43 L377.54 872.41 L378.02 872.39 L378.51 872.37 L378.99 872.36 L379.47 872.34 L379.95 872.32 L380.43 872.3 L380.91 872.28 L381.4 872.26 L381.88 872.24 L382.36 872.22 L382.84 872.2 L383.32 872.18 L383.81 872.16 L384.29 872.14 L384.77 872.11 L385.25 872.09 L385.73 872.07 L386.22 872.05 L386.7 872.02 L387.18 872 L387.66 871.98 L388.14 871.95 L388.63 871.93 L389.11 871.91 L389.59 871.88 L390.07 871.86 L390.55 871.83 L391.03 871.81 L391.52 871.78 L392 871.75 L392.48 871.73 L392.96 871.7 L393.44 871.67 L393.93 871.64 L394.41 871.62 L394.89 871.59 L395.37 871.56 L395.85 871.53 L396.34 871.5 L396.82 871.47 L397.3 871.44 L397.78 871.41 L398.26 871.38 L398.75 871.35 L399.23 871.32 L399.71 871.28 L400.19 871.25 L400.67 871.22 L401.16 871.18 L401.64 871.15 L402.12 871.12 L402.6 871.08 L403.08 871.05 L403.56 871.01 L404.05 870.97 L404.53 870.94 L405.01 870.9 L405.49 870.86 L405.97 870.82 L406.46 870.79 L406.94 870.75 L407.42 870.71 L407.9 870.67 L408.38 870.63 L408.87 870.59 L409.35 870.54 L409.83 870.5 L410.31 870.46 L410.79 870.42 L411.28 870.37 L411.76 870.33 L412.24 870.28 L412.72 870.24 L413.2 870.19 L413.68 870.14 L414.17 870.1 L414.65 870.05 L415.13 870 L415.61 869.95 L416.09 869.9 L416.58 869.85 L417.06 869.8 L417.54 869.75 L418.02 869.7 L418.5 869.64 L418.99 869.59 L419.47 869.54 L419.95 869.48 L420.43 869.43 L420.91 869.37 L421.4 869.31 L421.88 869.26 L422.36 869.2 L422.84 869.14 L423.32 869.08 L423.8 869.02 L424.29 868.96 L424.77 868.89 L425.25 868.83 L425.73 868.77 L426.21 868.7 L426.7 868.64 L427.18 868.57 L427.66 868.5 L428.14 868.44 L428.62 868.37 L429.11 868.3 L429.59 868.23 L430.07 868.16 L430.55 868.09 L431.03 868.01 L431.52 867.94 L432 867.86 L432.48 867.79 L432.96 867.71 L433.44 867.64 L433.93 867.56 L434.41 867.48 L434.89 867.4 L435.37 867.32 L435.85 867.23 L436.33 867.15 L436.82 867.07 L437.3 866.98 L437.78 866.89 L438.26 866.81 L438.74 866.72 L439.23 866.63 L439.71 866.54 L440.19 866.45 L440.67 866.35 L441.15 866.26 L441.64 866.16 L442.12 866.07 L442.6 865.97 L443.08 865.87 L443.56 865.77 L444.05 865.67 L444.53 865.57 L445.01 865.47 L445.49 865.36 L445.97 865.26 L446.45 865.15 L446.94 865.04 L447.42 864.93 L447.9 864.82 L448.38 864.71 L448.86 864.59 L449.35 864.48 L449.83 864.36 L450.31 864.25 L450.79 864.13 L451.27 864.01 L451.76 863.88 L452.24 863.76 L452.72 863.64 L453.2 863.51 L453.68 863.38 L454.17 863.25 L454.65 863.12 L455.13 862.99 L455.61 862.86 L456.09 862.72 L456.57 862.58 L457.06 862.45 L457.54 862.31 L458.02 862.16 L458.5 862.02 L458.98 861.88 L459.47 861.73 L459.95 861.58 L460.43 861.43 L460.91 861.28 L461.39 861.13 L461.88 860.97 L462.36 860.81 L462.84 860.66 L463.32 860.5 L463.8 860.33 L464.29 860.17 L464.77 860 L465.25 859.84 L465.73 859.67 L466.21 859.49 L466.7 859.32 L467.18 859.14 L467.66 858.97 L468.14 858.79 L468.62 858.61 L469.1 858.42 L469.59 858.24 L470.07 858.05 L470.55 857.86 L471.03 857.67 L471.51 857.47 L472 857.28 L472.48 857.08 L472.96 856.88 L473.44 856.68 L473.92 856.47 L474.41 856.27 L474.89 856.06 L475.37 855.85 L475.85 855.63 L476.33 855.42 L476.82 855.2 L477.3 854.98 L477.78 854.75 L478.26 854.53 L478.74 854.3 L479.22 854.07 L479.71 853.84 L480.19 853.6 L480.67 853.36 L481.15 853.12 L481.63 852.88 L482.12 852.63 L482.6 852.39 L483.08 852.13 L483.56 851.88 L484.04 851.62 L484.53 851.37 L485.01 851.1 L485.49 850.84 L485.97 850.57 L486.45 850.3 L486.94 850.03 L487.42 849.76 L487.9 849.48 L488.38 849.2 L488.86 848.91 L489.34 848.63 L489.83 848.34 L490.31 848.04 L490.79 847.75 L491.27 847.45 L491.75 847.15 L492.24 846.84 L492.72 846.54 L493.2 846.22 L493.68 845.91 L494.16 845.59 L494.65 845.27 L495.13 844.95 L495.61 844.62 L496.09 844.29 L496.57 843.96 L497.06 843.62 L497.54 843.28 L498.02 842.94 L498.5 842.59 L498.98 842.25 L499.47 841.89 L499.95 841.54 L500.43 841.18 L500.91 840.81 L501.39 840.45 L501.87 840.08 L502.36 839.7 L502.84 839.32 L503.32 838.94 L503.8 838.56 L504.28 838.17 L504.77 837.78 L505.25 837.38 L505.73 836.98 L506.21 836.58 L506.69 836.17 L507.18 835.76 L507.66 835.35 L508.14 834.93 L508.62 834.51 L509.1 834.08 L509.59 833.65 L510.07 833.22 L510.55 832.78 L511.03 832.34 L511.51 831.9 L511.99 831.45 L512.48 831 L512.96 830.54 L513.44 830.08 L513.92 829.61 L514.4 829.14 L514.89 828.67 L515.37 828.19 L515.85 827.71 L516.33 827.23 L516.81 826.74 L517.3 826.24 L517.78 825.74 L518.26 825.24 L518.74 824.73 L519.22 824.22 L519.71 823.71 L520.19 823.19 L520.67 822.67 L521.15 822.14 L521.63 821.6 L522.11 821.07 L522.6 820.53 L523.08 819.98 L523.56 819.43 L524.04 818.88 L524.52 818.32 L525.01 817.75 L525.49 817.19 L525.97 816.61 L526.45 816.04 L526.93 815.46 L527.42 814.87 L527.9 814.28 L528.38 813.68 L528.86 813.09 L529.34 812.48 L529.83 811.87 L530.31 811.26 L530.79 810.64 L531.27 810.02 L531.75 809.39 L532.24 808.76 L532.72 808.12 L533.2 807.48 L533.68 806.84 L534.16 806.19 L534.64 805.53 L535.13 804.87 L535.61 804.21 L536.09 803.54 L536.57 802.87 L537.05 802.19 L537.54 801.5 L538.02 800.82 L538.5 800.12 L538.98 799.43 L539.46 798.73 L539.95 798.02 L540.43 797.31 L540.91 796.59 L541.39 795.87 L541.87 795.15 L542.36 794.42 L542.84 793.68 L543.32 792.94 L543.8 792.2 L544.28 791.45 L544.76 790.7 L545.25 789.94 L545.73 789.17 L546.21 788.41 L546.69 787.63 L547.17 786.86 L547.66 786.08 L548.14 785.29 L548.62 784.5 L549.1 783.7 L549.58 782.9 L550.07 782.1 L550.55 781.29 L551.03 780.48 L551.51 779.66 L551.99 778.84 L552.48 778.01 L552.96 777.18 L553.44 776.34 L553.92 775.5 L554.4 774.66 L554.89 773.81 L555.37 772.95 L555.85 772.09 L556.33 771.23 L556.81 770.36 L557.29 769.49 L557.78 768.62 L558.26 767.74 L558.74 766.85 L559.22 765.97 L559.7 765.07 L560.19 764.18 L560.67 763.28 L561.15 762.37 L561.63 761.46 L562.11 760.55 L562.6 759.63 L563.08 758.71 L563.56 757.79 L564.04 756.86 L564.52 755.93 L565.01 754.99 L565.49 754.05 L565.97 753.11 L566.45 752.16 L566.93 751.21 L567.41 750.26 L567.9 749.3 L568.38 748.34 L568.86 747.37 L569.34 746.4 L569.82 745.43 L570.31 744.46 L570.79 743.48 L571.27 742.5 L571.75 741.51 L572.23 740.52 L572.72 739.53 L573.2 738.54 L573.68 737.54 L574.16 736.54 L574.64 735.54 L575.13 734.53 L575.61 733.52 L576.09 732.51 L576.57 731.5 L577.05 730.48 L577.53 729.46 L578.02 728.44 L578.5 727.41 L578.98 726.39 L579.46 725.36 L579.94 724.33 L580.43 723.29 L580.91 722.26 L581.39 721.22 L581.87 720.18 L582.35 719.14 L582.84 718.09 L583.32 717.05 L583.8 716 L584.28 714.95 L584.76 713.9 L585.25 712.85 L585.73 711.8 L586.21 710.74 L586.69 709.69 L587.17 708.63 L587.66 707.57 L588.14 706.51 L588.62 705.45 L589.1 704.39 L589.58 703.33 L590.06 702.26 L590.55 701.2 L591.03 700.13 L591.51 699.07 L591.99 698 L592.47 696.94 L592.96 695.87 L593.44 694.8 L593.92 693.74 L594.4 692.67 L594.88 691.6 L595.37 690.53 L595.85 689.47 L596.33 688.4 L596.81 687.33 L597.29 686.27 L597.78 685.2 L598.26 684.13 L598.74 683.07 L599.22 682.01 L599.7 680.94 L600.18 679.88 L600.67 678.82 L601.15 677.76 L601.63 676.7 L602.11 675.64 L602.59 674.58 L603.08 673.53 L603.56 672.47 L604.04 671.42 L604.52 670.37 L605 669.32 L605.49 668.27 L605.97 667.22 L606.45 666.18 L606.93 665.14 L607.41 664.1 L607.9 663.06 L608.38 662.02 L608.86 660.99 L609.34 659.96 L609.82 658.93 L610.3 657.9 L610.79 656.88 L611.27 655.86 L611.75 654.84 L612.23 653.83 L612.71 652.81 L613.2 651.8 L613.68 650.8 L614.16 649.79 L614.64 648.8 L615.12 647.8 L615.61 646.81 L616.09 645.82 L616.57 644.83 L617.05 643.85 L617.53 642.87 L618.02 641.9 L618.5 640.92 L618.98 639.96 L619.46 638.99 L619.94 638.04 L620.43 637.08 L620.91 636.13 L621.39 635.18 L621.87 634.24 L622.35 633.31 L622.83 632.37 L623.32 631.44 L623.8 630.52 L624.28 629.6 L624.76 628.69 L625.24 627.78 L625.73 626.87 L626.21 625.97 L626.69 625.08 L627.17 624.19 L627.65 623.3 L628.14 622.43 L628.62 621.55 L629.1 620.68 L629.58 619.82 L630.06 618.96 L630.55 618.11 L631.03 617.26 L631.51 616.42 L631.99 615.58 L632.47 614.75 L632.95 613.93 L633.44 613.11 L633.92 612.3 L634.4 611.49 L634.88 610.69 L635.36 609.89 L635.85 609.11 L636.33 608.32 L636.81 607.54 L637.29 606.77 L637.77 606.01 L638.26 605.25 L638.74 604.5 L639.22 603.75 L639.7 603.01 L640.18 602.28 L640.67 601.55 L641.15 600.83 L641.63 600.11 L642.11 599.4 L642.59 598.7 L643.07 598.01 L643.56 597.32 L644.04 596.63 L644.52 595.96 L645 595.29 L645.48 594.63 L645.97 593.97 L646.45 593.32 L646.93 592.68 L647.41 592.04 L647.89 591.41 L648.38 590.79 L648.86 590.17 L649.34 589.56 L649.82 588.96 L650.3 588.36 L650.79 587.77 L651.27 587.19 L651.75 586.61 L652.23 586.04 L652.71 585.47 L653.2 584.92 L653.68 584.37 L654.16 583.82 L654.64 583.29 L655.12 582.76 L655.6 582.23 L656.09 581.72 L656.57 581.2 L657.05 580.7 L657.53 580.2 L658.01 579.71 L658.5 579.23 L658.98 578.75 L659.46 578.28 L659.94 577.81 L660.42 577.35 L660.91 576.9 L661.39 576.46 L661.87 576.02 L662.35 575.58 L662.83 575.16 L663.32 574.74 L663.8 574.32 L664.28 573.92 L664.76 573.51 L665.24 573.12 L665.72 572.73 L666.21 572.35 L666.69 571.97 L667.17 571.6 L667.65 571.23 L668.13 570.87 L668.62 570.52 L669.1 570.17 L669.58 569.83 L670.06 569.5 L670.54 569.17 L671.03 568.84 L671.51 568.52 L671.99 568.21 L672.47 567.9 L672.95 567.6 L673.44 567.3 L673.92 567.01 L674.4 566.73 L674.88 566.45 L675.36 566.17 L675.84 565.9 L676.33 565.64 L676.81 565.38 L677.29 565.12 L677.77 564.87 L678.25 564.63 L678.74 564.39 L679.22 564.16 L679.7 563.93 L680.18 563.7 L680.66 563.48 L681.15 563.26 L681.63 563.05 L682.11 562.85 L682.59 562.64 L683.07 562.45 L683.56 562.25 L684.04 562.06 L684.52 561.88 L685 561.7 L685.48 561.52 L685.97 561.35 L686.45 561.18 L686.93 561.02 L687.41 560.86 L687.89 560.7 L688.37 560.55 L688.86 560.4 L689.34 560.25 L689.82 560.11 L690.3 559.97 L690.78 559.84 L691.27 559.7 L691.75 559.58 L692.23 559.45 L692.71 559.33 L693.19 559.21 L693.68 559.09 L694.16 558.98 L694.64 558.87 L695.12 558.77 L695.6 558.66 L696.09 558.56 L696.57 558.47 L697.05 558.37 L697.53 558.28 L698.01 558.19 L698.49 558.1 L698.98 558.02 L699.46 557.94 L699.94 557.86 L700.42 557.78 L700.9 557.7 L701.39 557.63 L701.87 557.56 L702.35 557.49 L702.83 557.43 L703.31 557.36 L703.8 557.3 L704.28 557.24 L704.76 557.18 L705.24 557.13 L705.72 557.07 L706.21 557.02 L706.69 556.97 L707.17 556.92 L707.65 556.87 L708.13 556.83 L708.61 556.78 L709.1 556.74 L709.58 556.7 L710.06 556.66 L710.54 556.62 L711.02 556.58 L711.51 556.55 L711.99 556.51 L712.47 556.48 L712.95 556.45 L713.43 556.42 L713.92 556.39 L714.4 556.36 L714.88 556.33 L715.36 556.3 L715.84 556.28 L716.33 556.26 L716.81 556.23 L717.29 556.21 L717.77 556.19 L718.25 556.17 L718.74 556.15 L719.22 556.13 L719.7 556.11 L720.18 556.09 L720.66 556.08 L721.14 556.06 L721.63 556.04 L722.11 556.03 L722.59 556.02 L723.07 556 L723.55 555.99 L724.04 555.98 L724.52 555.97 L725 555.95" stroke="#87918f" stroke-width="4.8" fill="none" stroke-linecap="round" stroke-linejoin="round"/>
<path d="M291.76 873.51 L292.24 873.51 L292.72 873.51 L293.21 873.5 L293.69 873.5 L294.17 873.5 L294.65 873.49 L295.13 873.49 L295.62 873.49 L296.1 873.48 L296.58 873.48 L297.06 873.48 L297.54 873.47 L298.03 873.47 L298.51 873.47 L298.99 873.46 L299.47 873.46 L299.95 873.45 L300.44 873.45 L300.92 873.45 L301.4 873.44 L301.88 873.44 L302.36 873.43 L302.84 873.43 L303.33 873.42 L303.81 873.42 L304.29 873.42 L304.77 873.41 L305.25 873.41 L305.74 873.4 L306.22 873.4 L306.7 873.39 L307.18 873.39 L307.66 873.38 L308.15 873.38 L308.63 873.37 L309.11 873.37 L309.59 873.36 L310.07 873.36 L310.56 873.35 L311.04 873.35 L311.52 873.34 L312 873.33 L312.48 873.33 L312.97 873.32 L313.45 873.32 L313.93 873.31 L314.41 873.31 L314.89 873.3 L315.37 873.29 L315.86 873.29 L316.34 873.28 L316.82 873.27 L317.3 873.27 L317.78 873.26 L318.27 873.25 L318.75 873.25 L319.23 873.24 L319.71 873.23 L320.19 873.23 L320.68 873.22 L321.16 873.21 L321.64 873.21 L322.12 873.2 L322.6 873.19 L323.09 873.18 L323.57 873.18 L324.05 873.17 L324.53 873.16 L325.01 873.15 L325.49 873.14 L325.98 873.14 L326.46 873.13 L326.94 873.12 L327.42 873.11 L327.9 873.1 L328.39 873.09 L328.87 873.08 L329.35 873.07 L329.83 873.07 L330.31 873.06 L330.8 873.05 L331.28 873.04 L331.76 873.03 L332.24 873.02 L332.72 873.01 L333.21 873 L333.69 872.99 L334.17 872.98 L334.65 872.97 L335.13 872.96 L335.61 872.95 L336.1 872.94 L336.58 872.92 L337.06 872.91 L337.54 872.9 L338.02 872.89 L338.51 872.88 L338.99 872.87 L339.47 872.86 L339.95 872.84 L340.43 872.83 L340.92 872.82 L341.4 872.81 L341.88 872.79 L342.36 872.78 L342.84 872.77 L343.33 872.75 L343.81 872.74 L344.29 872.73 L344.77 872.71 L345.25 872.7 L345.74 872.69 L346.22 872.67 L346.7 872.66 L347.18 872.64 L347.66 872.63 L348.14 872.61 L348.63 872.6 L349.11 872.58 L349.59 872.57 L350.07 872.55 L350.55 872.54 L351.04 872.52 L351.52 872.5 L352 872.49 L352.48 872.47 L352.96 872.45 L353.45 872.43 L353.93 872.42 L354.41 872.4 L354.89 872.38 L355.37 872.36 L355.86 872.35 L356.34 872.33 L356.82 872.31 L357.3 872.29 L357.78 872.27 L358.26 872.25 L358.75 872.23 L359.23 872.21 L359.71 872.19 L360.19 872.17 L360.67 872.15 L361.16 872.13 L361.64 872.1 L362.12 872.08 L362.6 872.06 L363.08 872.04 L363.57 872.02 L364.05 871.99 L364.53 871.97 L365.01 871.95 L365.49 871.92 L365.98 871.9 L366.46 871.87 L366.94 871.85 L367.42 871.82 L367.9 871.8 L368.39 871.77 L368.87 871.75 L369.35 871.72 L369.83 871.69 L370.31 871.67 L370.79 871.64 L371.28 871.61 L371.76 871.58 L372.24 871.55 L372.72 871.53 L373.2 871.5 L373.69 871.47 L374.17 871.44 L374.65 871.41 L375.13 871.38 L375.61 871.34 L376.1 871.31 L376.58 871.28 L377.06 871.25 L377.54 871.22 L378.02 871.18 L378.51 871.15 L378.99 871.12 L379.47 871.08 L379.95 871.05 L380.43 871.01 L380.91 870.98 L381.4 870.94 L381.88 870.9 L382.36 870.87 L382.84 870.83 L383.32 870.79 L383.81 870.75 L384.29 870.71 L384.77 870.67 L385.25 870.63 L385.73 870.59 L386.22 870.55 L386.7 870.51 L387.18 870.47 L387.66 870.43 L388.14 870.38 L388.63 870.34 L389.11 870.3 L389.59 870.25 L390.07 870.21 L390.55 870.16 L391.03 870.11 L391.52 870.07 L392 870.02 L392.48 869.97 L392.96 869.92 L393.44 869.88 L393.93 869.83 L394.41 869.77 L394.89 869.72 L395.37 869.67 L395.85 869.62 L396.34 869.57 L396.82 869.51 L397.3 869.46 L397.78 869.4 L398.26 869.35 L398.75 869.29 L399.23 869.24 L399.71 869.18 L400.19 869.12 L400.67 869.06 L401.16 869 L401.64 868.94 L402.12 868.88 L402.6 868.82 L403.08 868.76 L403.56 868.69 L404.05 868.63 L404.53 868.56 L405.01 868.5 L405.49 868.43 L405.97 868.36 L406.46 868.3 L406.94 868.23 L407.42 868.16 L407.9 868.09 L408.38 868.02 L408.87 867.94 L409.35 867.87 L409.83 867.8 L410.31 867.72 L410.79 867.65 L411.28 867.57 L411.76 867.49 L412.24 867.41 L412.72 867.33 L413.2 867.25 L413.68 867.17 L414.17 867.09 L414.65 867.01 L415.13 866.92 L415.61 866.84 L416.09 866.75 L416.58 866.66 L417.06 866.58 L417.54 866.49 L418.02 866.4 L418.5 866.31 L418.99 866.21 L419.47 866.12 L419.95 866.03 L420.43 865.93 L420.91 865.83 L421.4 865.74 L421.88 865.64 L422.36 865.54 L422.84 865.44 L423.32 865.33 L423.8 865.23 L424.29 865.13 L424.77 865.02 L425.25 864.91 L425.73 864.8 L426.21 864.69 L426.7 864.58 L427.18 864.47 L427.66 864.36 L428.14 864.24 L428.62 864.13 L429.11 864.01 L429.59 863.89 L430.07 863.77 L430.55 863.65 L431.03 863.53 L431.52 863.41 L432 863.28 L432.48 863.15 L432.96 863.03 L433.44 862.9 L433.93 862.77 L434.41 862.63 L434.89 862.5 L435.37 862.36 L435.85 862.23 L436.33 862.09 L436.82 861.95 L437.3 861.81 L437.78 861.67 L438.26 861.52 L438.74 861.38 L439.23 861.23 L439.71 861.08 L440.19 860.93 L440.67 860.78 L441.15 860.62 L441.64 860.47 L442.12 860.31 L442.6 860.15 L443.08 859.99 L443.56 859.83 L444.05 859.66 L444.53 859.5 L445.01 859.33 L445.49 859.16 L445.97 858.99 L446.45 858.82 L446.94 858.64 L447.42 858.46 L447.9 858.29 L448.38 858.11 L448.86 857.92 L449.35 857.74 L449.83 857.55 L450.31 857.36 L450.79 857.17 L451.27 856.98 L451.76 856.79 L452.24 856.59 L452.72 856.39 L453.2 856.19 L453.68 855.99 L454.17 855.79 L454.65 855.58 L455.13 855.37 L455.61 855.16 L456.09 854.95 L456.57 854.74 L457.06 854.52 L457.54 854.3 L458.02 854.08 L458.5 853.86 L458.98 853.63 L459.47 853.4 L459.95 853.17 L460.43 852.94 L460.91 852.71 L461.39 852.47 L461.88 852.23 L462.36 851.99 L462.84 851.74 L463.32 851.5 L463.8 851.25 L464.29 851 L464.77 850.74 L465.25 850.49 L465.73 850.23 L466.21 849.97 L466.7 849.7 L467.18 849.44 L467.66 849.17 L468.14 848.9 L468.62 848.62 L469.1 848.35 L469.59 848.07 L470.07 847.79 L470.55 847.5 L471.03 847.22 L471.51 846.93 L472 846.64 L472.48 846.34 L472.96 846.04 L473.44 845.74 L473.92 845.44 L474.41 845.13 L474.89 844.82 L475.37 844.51 L475.85 844.2 L476.33 843.88 L476.82 843.56 L477.3 843.24 L477.78 842.91 L478.26 842.59 L478.74 842.25 L479.22 841.92 L479.71 841.58 L480.19 841.24 L480.67 840.9 L481.15 840.55 L481.63 840.2 L482.12 839.85 L482.6 839.49 L483.08 839.14 L483.56 838.77 L484.04 838.41 L484.53 838.04 L485.01 837.67 L485.49 837.3 L485.97 836.92 L486.45 836.54 L486.94 836.16 L487.42 835.77 L487.9 835.38 L488.38 834.99 L488.86 834.59 L489.34 834.19 L489.83 833.79 L490.31 833.38 L490.79 832.97 L491.27 832.56 L491.75 832.14 L492.24 831.72 L492.72 831.3 L493.2 830.88 L493.68 830.45 L494.16 830.01 L494.65 829.58 L495.13 829.14 L495.61 828.69 L496.09 828.25 L496.57 827.8 L497.06 827.34 L497.54 826.89 L498.02 826.43 L498.5 825.96 L498.98 825.49 L499.47 825.02 L499.95 824.55 L500.43 824.07 L500.91 823.59 L501.39 823.11 L501.87 822.62 L502.36 822.12 L502.84 821.63 L503.32 821.13 L503.8 820.63 L504.28 820.12 L504.77 819.61 L505.25 819.1 L505.73 818.58 L506.21 818.06 L506.69 817.53 L507.18 817 L507.66 816.47 L508.14 815.94 L508.62 815.4 L509.1 814.85 L509.59 814.31 L510.07 813.76 L510.55 813.2 L511.03 812.65 L511.51 812.08 L511.99 811.52 L512.48 810.95 L512.96 810.38 L513.44 809.8 L513.92 809.22 L514.4 808.64 L514.89 808.05 L515.37 807.46 L515.85 806.87 L516.33 806.27 L516.81 805.67 L517.3 805.06 L517.78 804.45 L518.26 803.84 L518.74 803.22 L519.22 802.6 L519.71 801.97 L520.19 801.35 L520.67 800.71 L521.15 800.08 L521.63 799.44 L522.11 798.8 L522.6 798.15 L523.08 797.5 L523.56 796.85 L524.04 796.19 L524.52 795.53 L525.01 794.86 L525.49 794.19 L525.97 793.52 L526.45 792.84 L526.93 792.17 L527.42 791.48 L527.9 790.8 L528.38 790.1 L528.86 789.41 L529.34 788.71 L529.83 788.01 L530.31 787.31 L530.79 786.6 L531.27 785.89 L531.75 785.17 L532.24 784.45 L532.72 783.73 L533.2 783 L533.68 782.27 L534.16 781.54 L534.64 780.8 L535.13 780.06 L535.61 779.32 L536.09 778.57 L536.57 777.82 L537.05 777.07 L537.54 776.31 L538.02 775.55 L538.5 774.79 L538.98 774.02 L539.46 773.25 L539.95 772.48 L540.43 771.7 L540.91 770.92 L541.39 770.13 L541.87 769.35 L542.36 768.56 L542.84 767.76 L543.32 766.97 L543.8 766.17 L544.28 765.37 L544.76 764.56 L545.25 763.75 L545.73 762.94 L546.21 762.12 L546.69 761.31 L547.17 760.49 L547.66 759.66 L548.14 758.83 L548.62 758 L549.1 757.17 L549.58 756.34 L550.07 755.5 L550.55 754.66 L551.03 753.81 L551.51 752.97 L551.99 752.12 L552.48 751.27 L552.96 750.41 L553.44 749.55 L553.92 748.69 L554.4 747.83 L554.89 746.97 L555.37 746.1 L555.85 745.23 L556.33 744.35 L556.81 743.48 L557.29 742.6 L557.78 741.72 L558.26 740.84 L558.74 739.96 L559.22 739.07 L559.7 738.18 L560.19 737.29 L560.67 736.4 L561.15 735.5 L561.63 734.6 L562.11 733.7 L562.6 732.8 L563.08 731.9 L563.56 730.99 L564.04 730.09 L564.52 729.18 L565.01 728.27 L565.49 727.35 L565.97 726.44 L566.45 725.52 L566.93 724.6 L567.41 723.68 L567.9 722.76 L568.38 721.84 L568.86 720.92 L569.34 719.99 L569.82 719.06 L570.31 718.13 L570.79 717.2 L571.27 716.27 L571.75 715.34 L572.23 714.41 L572.72 713.47 L573.2 712.54 L573.68 711.6 L574.16 710.66 L574.64 709.72 L575.13 708.78 L575.61 707.84 L576.09 706.9 L576.57 705.96 L577.05 705.01 L577.53 704.07 L578.02 703.12 L578.5 702.18 L578.98 701.23 L579.46 700.28 L579.94 699.34 L580.43 698.39 L580.91 697.44 L581.39 696.49 L581.87 695.54 L582.35 694.6 L582.84 693.65 L583.32 692.7 L583.8 691.75 L584.28 690.8 L584.76 689.85 L585.25 688.9 L585.73 687.95 L586.21 687 L586.69 686.05 L587.17 685.1 L587.66 684.15 L588.14 683.21 L588.62 682.26 L589.1 681.31 L589.58 680.36 L590.06 679.42 L590.55 678.47 L591.03 677.53 L591.51 676.58 L591.99 675.64 L592.47 674.7 L592.96 673.76 L593.44 672.82 L593.92 671.88 L594.4 670.94 L594.88 670 L595.37 669.06 L595.85 668.13 L596.33 667.19 L596.81 666.26 L597.29 665.33 L597.78 664.4 L598.26 663.47 L598.74 662.54 L599.22 661.62 L599.7 660.7 L600.18 659.77 L600.67 658.85 L601.15 657.93 L601.63 657.02 L602.11 656.1 L602.59 655.19 L603.08 654.28 L603.56 653.37 L604.04 652.46 L604.52 651.56 L605 650.66 L605.49 649.76 L605.97 648.86 L606.45 647.96 L606.93 647.07 L607.41 646.18 L607.9 645.29 L608.38 644.41 L608.86 643.53 L609.34 642.65 L609.82 641.77 L610.3 640.9 L610.79 640.03 L611.27 639.16 L611.75 638.29 L612.23 637.43 L612.71 636.57 L613.2 635.72 L613.68 634.86 L614.16 634.01 L614.64 633.17 L615.12 632.32 L615.61 631.48 L616.09 630.65 L616.57 629.82 L617.05 628.99 L617.53 628.16 L618.02 627.34 L618.5 626.52 L618.98 625.71 L619.46 624.9 L619.94 624.09 L620.43 623.29 L620.91 622.49 L621.39 621.69 L621.87 620.9 L622.35 620.12 L622.83 619.33 L623.32 618.56 L623.8 617.78 L624.28 617.01 L624.76 616.25 L625.24 615.49 L625.73 614.73 L626.21 613.98 L626.69 613.23 L627.17 612.48 L627.65 611.75 L628.14 611.01 L628.62 610.28 L629.1 609.56 L629.58 608.84 L630.06 608.12 L630.55 607.41 L631.03 606.7 L631.51 606 L631.99 605.31 L632.47 604.61 L632.95 603.93 L633.44 603.25 L633.92 602.57 L634.4 601.9 L634.88 601.23 L635.36 600.57 L635.85 599.91 L636.33 599.26 L636.81 598.62 L637.29 597.98 L637.77 597.34 L638.26 596.71 L638.74 596.08 L639.22 595.46 L639.7 594.85 L640.18 594.24 L640.67 593.64 L641.15 593.04 L641.63 592.45 L642.11 591.86 L642.59 591.28 L643.07 590.7 L643.56 590.13 L644.04 589.56 L644.52 589 L645 588.45 L645.48 587.9 L645.97 587.35 L646.45 586.81 L646.93 586.28 L647.41 585.75 L647.89 585.23 L648.38 584.72 L648.86 584.21 L649.34 583.7 L649.82 583.2 L650.3 582.71 L650.79 582.22 L651.27 581.74 L651.75 581.26 L652.23 580.79 L652.71 580.32 L653.2 579.86 L653.68 579.4 L654.16 578.95 L654.64 578.51 L655.12 578.07 L655.6 577.64 L656.09 577.21 L656.57 576.79 L657.05 576.37 L657.53 575.96 L658.01 575.55 L658.5 575.15 L658.98 574.76 L659.46 574.37 L659.94 573.98 L660.42 573.6 L660.91 573.23 L661.39 572.86 L661.87 572.5 L662.35 572.14 L662.83 571.79 L663.32 571.44 L663.8 571.1 L664.28 570.76 L664.76 570.43 L665.24 570.1 L665.72 569.78 L666.21 569.46 L666.69 569.15 L667.17 568.84 L667.65 568.54 L668.13 568.25 L668.62 567.95 L669.1 567.67 L669.58 567.38 L670.06 567.11 L670.54 566.83 L671.03 566.57 L671.51 566.3 L671.99 566.04 L672.47 565.79 L672.95 565.54 L673.44 565.3 L673.92 565.06 L674.4 564.82 L674.88 564.59 L675.36 564.36 L675.84 564.14 L676.33 563.92 L676.81 563.7 L677.29 563.49 L677.77 563.29 L678.25 563.09 L678.74 562.89 L679.22 562.69 L679.7 562.5 L680.18 562.32 L680.66 562.14 L681.15 561.96 L681.63 561.78 L682.11 561.61 L682.59 561.45 L683.07 561.28 L683.56 561.12 L684.04 560.97 L684.52 560.81 L685 560.66 L685.48 560.52 L685.97 560.38 L686.45 560.24 L686.93 560.1 L687.41 559.97 L687.89 559.84 L688.37 559.71 L688.86 559.59 L689.34 559.47 L689.82 559.35 L690.3 559.24 L690.78 559.13 L691.27 559.02 L691.75 558.91 L692.23 558.81 L692.71 558.71 L693.19 558.61 L693.68 558.51 L694.16 558.42 L694.64 558.33 L695.12 558.24 L695.6 558.16 L696.09 558.07 L696.57 557.99 L697.05 557.92 L697.53 557.84 L698.01 557.76 L698.49 557.69 L698.98 557.62 L699.46 557.56 L699.94 557.49 L700.42 557.43 L700.9 557.36 L701.39 557.3 L701.87 557.25 L702.35 557.19 L702.83 557.13 L703.31 557.08 L703.8 557.03 L704.28 556.98 L704.76 556.93 L705.24 556.89 L705.72 556.84 L706.21 556.8 L706.69 556.76 L707.17 556.72 L707.65 556.68 L708.13 556.64 L708.61 556.6 L709.1 556.57 L709.58 556.53 L710.06 556.5 L710.54 556.47 L711.02 556.44 L711.51 556.41 L711.99 556.38 L712.47 556.35 L712.95 556.33 L713.43 556.3 L713.92 556.28 L714.4 556.25 L714.88 556.23 L715.36 556.21 L715.84 556.19 L716.33 556.17 L716.81 556.15 L717.29 556.13 L717.77 556.11 L718.25 556.09 L718.74 556.08 L719.22 556.06 L719.7 556.05 L720.18 556.03 L720.66 556.02 L721.14 556.01 L721.63 555.99 L722.11 555.98 L722.59 555.97 L723.07 555.96 L723.55 555.95 L724.04 555.94 L724.52 555.93 L725 555.92" stroke="#6a7473" stroke-width="4.8" fill="none" stroke-linecap="round" stroke-linejoin="round"/>
<path d="M291.76 873.19 L292.24 873.18 L292.72 873.18 L293.21 873.17 L293.69 873.16 L294.17 873.15 L294.65 873.14 L295.13 873.14 L295.62 873.13 L296.1 873.12 L296.58 873.11 L297.06 873.1 L297.54 873.09 L298.03 873.09 L298.51 873.08 L298.99 873.07 L299.47 873.06 L299.95 873.05 L300.44 873.04 L300.92 873.03 L301.4 873.02 L301.88 873.01 L302.36 873 L302.84 872.99 L303.33 872.98 L303.81 872.97 L304.29 872.96 L304.77 872.95 L305.25 872.94 L305.74 872.93 L306.22 872.92 L306.7 872.91 L307.18 872.9 L307.66 872.88 L308.15 872.87 L308.63 872.86 L309.11 872.85 L309.59 872.84 L310.07 872.83 L310.56 872.81 L311.04 872.8 L311.52 872.79 L312 872.78 L312.48 872.76 L312.97 872.75 L313.45 872.74 L313.93 872.72 L314.41 872.71 L314.89 872.7 L315.37 872.68 L315.86 872.67 L316.34 872.66 L316.82 872.64 L317.3 872.63 L317.78 872.61 L318.27 872.6 L318.75 872.58 L319.23 872.57 L319.71 872.55 L320.19 872.53 L320.68 872.52 L321.16 872.5 L321.64 872.49 L322.12 872.47 L322.6 872.45 L323.09 872.44 L323.57 872.42 L324.05 872.4 L324.53 872.38 L325.01 872.37 L325.49 872.35 L325.98 872.33 L326.46 872.31 L326.94 872.29 L327.42 872.27 L327.9 872.26 L328.39 872.24 L328.87 872.22 L329.35 872.2 L329.83 872.18 L330.31 872.16 L330.8 872.14 L331.28 872.11 L331.76 872.09 L332.24 872.07 L332.72 872.05 L333.21 872.03 L333.69 872.01 L334.17 871.98 L334.65 871.96 L335.13 871.94 L335.61 871.92 L336.1 871.89 L336.58 871.87 L337.06 871.84 L337.54 871.82 L338.02 871.79 L338.51 871.77 L338.99 871.74 L339.47 871.72 L339.95 871.69 L340.43 871.67 L340.92 871.64 L341.4 871.61 L341.88 871.58 L342.36 871.56 L342.84 871.53 L343.33 871.5 L343.81 871.47 L344.29 871.44 L344.77 871.41 L345.25 871.38 L345.74 871.35 L346.22 871.32 L346.7 871.29 L347.18 871.26 L347.66 871.23 L348.14 871.2 L348.63 871.17 L349.11 871.13 L349.59 871.1 L350.07 871.07 L350.55 871.03 L351.04 871 L351.52 870.96 L352 870.93 L352.48 870.89 L352.96 870.86 L353.45 870.82 L353.93 870.78 L354.41 870.75 L354.89 870.71 L355.37 870.67 L355.86 870.63 L356.34 870.59 L356.82 870.55 L357.3 870.51 L357.78 870.47 L358.26 870.43 L358.75 870.39 L359.23 870.35 L359.71 870.31 L360.19 870.26 L360.67 870.22 L361.16 870.18 L361.64 870.13 L362.12 870.09 L362.6 870.04 L363.08 870 L363.57 869.95 L364.05 869.9 L364.53 869.86 L365.01 869.81 L365.49 869.76 L365.98 869.71 L366.46 869.66 L366.94 869.61 L367.42 869.56 L367.9 869.51 L368.39 869.46 L368.87 869.4 L369.35 869.35 L369.83 869.3 L370.31 869.24 L370.79 869.19 L371.28 869.13 L371.76 869.07 L372.24 869.02 L372.72 868.96 L373.2 868.9 L373.69 868.84 L374.17 868.78 L374.65 868.72 L375.13 868.66 L375.61 868.6 L376.1 868.54 L376.58 868.47 L377.06 868.41 L377.54 868.35 L378.02 868.28 L378.51 868.21 L378.99 868.15 L379.47 868.08 L379.95 868.01 L380.43 867.94 L380.91 867.87 L381.4 867.8 L381.88 867.73 L382.36 867.66 L382.84 867.59 L383.32 867.51 L383.81 867.44 L384.29 867.37 L384.77 867.29 L385.25 867.21 L385.73 867.14 L386.22 867.06 L386.7 866.98 L387.18 866.9 L387.66 866.82 L388.14 866.73 L388.63 866.65 L389.11 866.57 L389.59 866.48 L390.07 866.4 L390.55 866.31 L391.03 866.23 L391.52 866.14 L392 866.05 L392.48 865.96 L392.96 865.87 L393.44 865.78 L393.93 865.68 L394.41 865.59 L394.89 865.49 L395.37 865.4 L395.85 865.3 L396.34 865.2 L396.82 865.1 L397.3 865 L397.78 864.9 L398.26 864.8 L398.75 864.7 L399.23 864.6 L399.71 864.49 L400.19 864.38 L400.67 864.28 L401.16 864.17 L401.64 864.06 L402.12 863.95 L402.6 863.84 L403.08 863.72 L403.56 863.61 L404.05 863.5 L404.53 863.38 L405.01 863.26 L405.49 863.14 L405.97 863.02 L406.46 862.9 L406.94 862.78 L407.42 862.66 L407.9 862.53 L408.38 862.41 L408.87 862.28 L409.35 862.15 L409.83 862.02 L410.31 861.89 L410.79 861.76 L411.28 861.63 L411.76 861.49 L412.24 861.35 L412.72 861.22 L413.2 861.08 L413.68 860.94 L414.17 860.8 L414.65 860.66 L415.13 860.51 L415.61 860.37 L416.09 860.22 L416.58 860.07 L417.06 859.92 L417.54 859.77 L418.02 859.62 L418.5 859.47 L418.99 859.31 L419.47 859.15 L419.95 859 L420.43 858.84 L420.91 858.67 L421.4 858.51 L421.88 858.35 L422.36 858.18 L422.84 858.02 L423.32 857.85 L423.8 857.68 L424.29 857.51 L424.77 857.33 L425.25 857.16 L425.73 856.98 L426.21 856.8 L426.7 856.62 L427.18 856.44 L427.66 856.26 L428.14 856.08 L428.62 855.89 L429.11 855.7 L429.59 855.51 L430.07 855.32 L430.55 855.13 L431.03 854.94 L431.52 854.74 L432 854.54 L432.48 854.34 L432.96 854.14 L433.44 853.94 L433.93 853.73 L434.41 853.53 L434.89 853.32 L435.37 853.11 L435.85 852.9 L436.33 852.68 L436.82 852.47 L437.3 852.25 L437.78 852.03 L438.26 851.81 L438.74 851.59 L439.23 851.37 L439.71 851.14 L440.19 850.91 L440.67 850.68 L441.15 850.45 L441.64 850.22 L442.12 849.98 L442.6 849.74 L443.08 849.5 L443.56 849.26 L444.05 849.02 L444.53 848.77 L445.01 848.53 L445.49 848.28 L445.97 848.03 L446.45 847.77 L446.94 847.52 L447.42 847.26 L447.9 847 L448.38 846.74 L448.86 846.48 L449.35 846.21 L449.83 845.95 L450.31 845.68 L450.79 845.41 L451.27 845.13 L451.76 844.86 L452.24 844.58 L452.72 844.3 L453.2 844.02 L453.68 843.73 L454.17 843.45 L454.65 843.16 L455.13 842.87 L455.61 842.58 L456.09 842.28 L456.57 841.99 L457.06 841.69 L457.54 841.39 L458.02 841.08 L458.5 840.78 L458.98 840.47 L459.47 840.16 L459.95 839.85 L460.43 839.53 L460.91 839.22 L461.39 838.9 L461.88 838.58 L462.36 838.25 L462.84 837.93 L463.32 837.6 L463.8 837.27 L464.29 836.94 L464.77 836.6 L465.25 836.26 L465.73 835.93 L466.21 835.58 L466.7 835.24 L467.18 834.89 L467.66 834.54 L468.14 834.19 L468.62 833.84 L469.1 833.48 L469.59 833.13 L470.07 832.77 L470.55 832.4 L471.03 832.04 L471.51 831.67 L472 831.3 L472.48 830.93 L472.96 830.55 L473.44 830.18 L473.92 829.8 L474.41 829.41 L474.89 829.03 L475.37 828.64 L475.85 828.25 L476.33 827.86 L476.82 827.47 L477.3 827.07 L477.78 826.67 L478.26 826.27 L478.74 825.87 L479.22 825.46 L479.71 825.05 L480.19 824.64 L480.67 824.22 L481.15 823.81 L481.63 823.39 L482.12 822.97 L482.6 822.54 L483.08 822.12 L483.56 821.69 L484.04 821.26 L484.53 820.82 L485.01 820.38 L485.49 819.94 L485.97 819.5 L486.45 819.06 L486.94 818.61 L487.42 818.16 L487.9 817.71 L488.38 817.25 L488.86 816.8 L489.34 816.34 L489.83 815.87 L490.31 815.41 L490.79 814.94 L491.27 814.47 L491.75 814 L492.24 813.52 L492.72 813.04 L493.2 812.56 L493.68 812.08 L494.16 811.59 L494.65 811.11 L495.13 810.61 L495.61 810.12 L496.09 809.62 L496.57 809.12 L497.06 808.62 L497.54 808.12 L498.02 807.61 L498.5 807.1 L498.98 806.59 L499.47 806.07 L499.95 805.56 L500.43 805.04 L500.91 804.51 L501.39 803.99 L501.87 803.46 L502.36 802.93 L502.84 802.39 L503.32 801.86 L503.8 801.32 L504.28 800.78 L504.77 800.23 L505.25 799.69 L505.73 799.14 L506.21 798.58 L506.69 798.03 L507.18 797.47 L507.66 796.91 L508.14 796.35 L508.62 795.78 L509.1 795.21 L509.59 794.64 L510.07 794.07 L510.55 793.49 L511.03 792.91 L511.51 792.33 L511.99 791.75 L512.48 791.16 L512.96 790.57 L513.44 789.98 L513.92 789.38 L514.4 788.78 L514.89 788.18 L515.37 787.58 L515.85 786.97 L516.33 786.37 L516.81 785.75 L517.3 785.14 L517.78 784.52 L518.26 783.9 L518.74 783.28 L519.22 782.66 L519.71 782.03 L520.19 781.4 L520.67 780.77 L521.15 780.13 L521.63 779.49 L522.11 778.85 L522.6 778.21 L523.08 777.56 L523.56 776.92 L524.04 776.26 L524.52 775.61 L525.01 774.95 L525.49 774.3 L525.97 773.63 L526.45 772.97 L526.93 772.3 L527.42 771.63 L527.9 770.96 L528.38 770.29 L528.86 769.61 L529.34 768.93 L529.83 768.25 L530.31 767.56 L530.79 766.88 L531.27 766.19 L531.75 765.49 L532.24 764.8 L532.72 764.1 L533.2 763.4 L533.68 762.7 L534.16 761.99 L534.64 761.28 L535.13 760.57 L535.61 759.86 L536.09 759.15 L536.57 758.43 L537.05 757.71 L537.54 756.99 L538.02 756.26 L538.5 755.53 L538.98 754.81 L539.46 754.07 L539.95 753.34 L540.43 752.6 L540.91 751.86 L541.39 751.12 L541.87 750.38 L542.36 749.63 L542.84 748.88 L543.32 748.13 L543.8 747.38 L544.28 746.62 L544.76 745.87 L545.25 745.11 L545.73 744.34 L546.21 743.58 L546.69 742.81 L547.17 742.04 L547.66 741.27 L548.14 740.5 L548.62 739.73 L549.1 738.95 L549.58 738.17 L550.07 737.39 L550.55 736.61 L551.03 735.82 L551.51 735.03 L551.99 734.24 L552.48 733.45 L552.96 732.66 L553.44 731.86 L553.92 731.07 L554.4 730.27 L554.89 729.47 L555.37 728.66 L555.85 727.86 L556.33 727.05 L556.81 726.24 L557.29 725.43 L557.78 724.62 L558.26 723.81 L558.74 722.99 L559.22 722.17 L559.7 721.36 L560.19 720.54 L560.67 719.71 L561.15 718.89 L561.63 718.07 L562.11 717.24 L562.6 716.41 L563.08 715.58 L563.56 714.75 L564.04 713.92 L564.52 713.08 L565.01 712.25 L565.49 711.41 L565.97 710.58 L566.45 709.74 L566.93 708.9 L567.41 708.05 L567.9 707.21 L568.38 706.37 L568.86 705.52 L569.34 704.68 L569.82 703.83 L570.31 702.98 L570.79 702.13 L571.27 701.28 L571.75 700.43 L572.23 699.58 L572.72 698.73 L573.2 697.87 L573.68 697.02 L574.16 696.16 L574.64 695.31 L575.13 694.45 L575.61 693.59 L576.09 692.74 L576.57 691.88 L577.05 691.02 L577.53 690.16 L578.02 689.3 L578.5 688.44 L578.98 687.58 L579.46 686.72 L579.94 685.86 L580.43 684.99 L580.91 684.13 L581.39 683.27 L581.87 682.41 L582.35 681.55 L582.84 680.68 L583.32 679.82 L583.8 678.96 L584.28 678.1 L584.76 677.23 L585.25 676.37 L585.73 675.51 L586.21 674.65 L586.69 673.79 L587.17 672.93 L587.66 672.07 L588.14 671.2 L588.62 670.35 L589.1 669.49 L589.58 668.63 L590.06 667.77 L590.55 666.91 L591.03 666.05 L591.51 665.2 L591.99 664.34 L592.47 663.49 L592.96 662.63 L593.44 661.78 L593.92 660.93 L594.4 660.08 L594.88 659.23 L595.37 658.38 L595.85 657.53 L596.33 656.68 L596.81 655.84 L597.29 654.99 L597.78 654.15 L598.26 653.31 L598.74 652.47 L599.22 651.63 L599.7 650.79 L600.18 649.96 L600.67 649.12 L601.15 648.29 L601.63 647.46 L602.11 646.63 L602.59 645.81 L603.08 644.98 L603.56 644.16 L604.04 643.34 L604.52 642.52 L605 641.7 L605.49 640.88 L605.97 640.07 L606.45 639.26 L606.93 638.45 L607.41 637.65 L607.9 636.84 L608.38 636.04 L608.86 635.24 L609.34 634.44 L609.82 633.65 L610.3 632.86 L610.79 632.07 L611.27 631.28 L611.75 630.5 L612.23 629.72 L612.71 628.94 L613.2 628.16 L613.68 627.39 L614.16 626.62 L614.64 625.86 L615.12 625.09 L615.61 624.33 L616.09 623.58 L616.57 622.82 L617.05 622.07 L617.53 621.32 L618.02 620.58 L618.5 619.84 L618.98 619.1 L619.46 618.37 L619.94 617.64 L620.43 616.91 L620.91 616.19 L621.39 615.47 L621.87 614.75 L622.35 614.04 L622.83 613.33 L623.32 612.63 L623.8 611.92 L624.28 611.23 L624.76 610.53 L625.24 609.84 L625.73 609.16 L626.21 608.48 L626.69 607.8 L627.17 607.13 L627.65 606.46 L628.14 605.79 L628.62 605.13 L629.1 604.47 L629.58 603.82 L630.06 603.17 L630.55 602.53 L631.03 601.89 L631.51 601.26 L631.99 600.63 L632.47 600 L632.95 599.38 L633.44 598.76 L633.92 598.15 L634.4 597.54 L634.88 596.94 L635.36 596.34 L635.85 595.74 L636.33 595.15 L636.81 594.57 L637.29 593.99 L637.77 593.41 L638.26 592.84 L638.74 592.28 L639.22 591.71 L639.7 591.16 L640.18 590.61 L640.67 590.06 L641.15 589.52 L641.63 588.98 L642.11 588.45 L642.59 587.92 L643.07 587.4 L643.56 586.88 L644.04 586.37 L644.52 585.86 L645 585.36 L645.48 584.86 L645.97 584.37 L646.45 583.88 L646.93 583.4 L647.41 582.92 L647.89 582.45 L648.38 581.98 L648.86 581.52 L649.34 581.06 L649.82 580.61 L650.3 580.16 L650.79 579.72 L651.27 579.28 L651.75 578.85 L652.23 578.42 L652.71 578 L653.2 577.58 L653.68 577.17 L654.16 576.76 L654.64 576.36 L655.12 575.96 L655.6 575.57 L656.09 575.18 L656.57 574.8 L657.05 574.42 L657.53 574.05 L658.01 573.68 L658.5 573.32 L658.98 572.96 L659.46 572.61 L659.94 572.26 L660.42 571.92 L660.91 571.58 L661.39 571.25 L661.87 570.92 L662.35 570.59 L662.83 570.27 L663.32 569.96 L663.8 569.65 L664.28 569.34 L664.76 569.04 L665.24 568.75 L665.72 568.46 L666.21 568.17 L666.69 567.89 L667.17 567.61 L667.65 567.33 L668.13 567.07 L668.62 566.8 L669.1 566.54 L669.58 566.29 L670.06 566.03 L670.54 565.79 L671.03 565.55 L671.51 565.31 L671.99 565.07 L672.47 564.84 L672.95 564.62 L673.44 564.39 L673.92 564.18 L674.4 563.96 L674.88 563.75 L675.36 563.55 L675.84 563.35 L676.33 563.15 L676.81 562.95 L677.29 562.76 L677.77 562.58 L678.25 562.39 L678.74 562.21 L679.22 562.04 L679.7 561.87 L680.18 561.7 L680.66 561.53 L681.15 561.37 L681.63 561.21 L682.11 561.06 L682.59 560.91 L683.07 560.76 L683.56 560.62 L684.04 560.47 L684.52 560.34 L685 560.2 L685.48 560.07 L685.97 559.94 L686.45 559.81 L686.93 559.69 L687.41 559.57 L687.89 559.45 L688.37 559.34 L688.86 559.23 L689.34 559.12 L689.82 559.01 L690.3 558.91 L690.78 558.81 L691.27 558.71 L691.75 558.61 L692.23 558.52 L692.71 558.43 L693.19 558.34 L693.68 558.25 L694.16 558.17 L694.64 558.09 L695.12 558.01 L695.6 557.93 L696.09 557.85 L696.57 557.78 L697.05 557.71 L697.53 557.64 L698.01 557.57 L698.49 557.51 L698.98 557.45 L699.46 557.38 L699.94 557.33 L700.42 557.27 L700.9 557.21 L701.39 557.16 L701.87 557.1 L702.35 557.05 L702.83 557 L703.31 556.96 L703.8 556.91 L704.28 556.86 L704.76 556.82 L705.24 556.78 L705.72 556.74 L706.21 556.7 L706.69 556.66 L707.17 556.62 L707.65 556.59 L708.13 556.55 L708.61 556.52 L709.1 556.49 L709.58 556.46 L710.06 556.43 L710.54 556.4 L711.02 556.37 L711.51 556.35 L711.99 556.32 L712.47 556.3 L712.95 556.27 L713.43 556.25 L713.92 556.23 L714.4 556.21 L714.88 556.18 L715.36 556.16 L715.84 556.15 L716.33 556.13 L716.81 556.11 L717.29 556.09 L717.77 556.08 L718.25 556.06 L718.74 556.05 L719.22 556.03 L719.7 556.02 L720.18 556.01 L720.66 555.99 L721.14 555.98 L721.63 555.97 L722.11 555.96 L722.59 555.95 L723.07 555.94 L723.55 555.93 L724.04 555.92 L724.52 555.91 L725 555.9" stroke="#3a4142" stroke-width="4.8" fill="none" stroke-linecap="round" stroke-linejoin="round"/>
<path d="M291.76 872.8 L292.24 872.79 L292.72 872.79 L293.21 872.79 L293.69 872.79 L294.17 872.78 L294.65 872.78 L295.13 872.77 L295.62 872.77 L296.1 872.76 L296.58 872.75 L297.06 872.75 L297.54 872.74 L298.03 872.73 L298.51 872.72 L298.99 872.71 L299.47 872.69 L299.95 872.68 L300.44 872.67 L300.92 872.66 L301.4 872.64 L301.88 872.63 L302.36 872.61 L302.84 872.59 L303.33 872.58 L303.81 872.56 L304.29 872.54 L304.77 872.52 L305.25 872.5 L305.74 872.48 L306.22 872.46 L306.7 872.44 L307.18 872.42 L307.66 872.4 L308.15 872.38 L308.63 872.35 L309.11 872.33 L309.59 872.3 L310.07 872.28 L310.56 872.25 L311.04 872.23 L311.52 872.2 L312 872.17 L312.48 872.15 L312.97 872.12 L313.45 872.09 L313.93 872.06 L314.41 872.03 L314.89 872 L315.37 871.97 L315.86 871.94 L316.34 871.9 L316.82 871.87 L317.3 871.84 L317.78 871.81 L318.27 871.77 L318.75 871.74 L319.23 871.7 L319.71 871.67 L320.19 871.63 L320.68 871.6 L321.16 871.56 L321.64 871.52 L322.12 871.49 L322.6 871.45 L323.09 871.41 L323.57 871.37 L324.05 871.33 L324.53 871.29 L325.01 871.26 L325.49 871.22 L325.98 871.17 L326.46 871.13 L326.94 871.09 L327.42 871.05 L327.9 871.01 L328.39 870.97 L328.87 870.92 L329.35 870.88 L329.83 870.84 L330.31 870.8 L330.8 870.75 L331.28 870.71 L331.76 870.66 L332.24 870.62 L332.72 870.57 L333.21 870.53 L333.69 870.48 L334.17 870.44 L334.65 870.39 L335.13 870.34 L335.61 870.3 L336.1 870.25 L336.58 870.2 L337.06 870.15 L337.54 870.11 L338.02 870.06 L338.51 870.01 L338.99 869.96 L339.47 869.91 L339.95 869.86 L340.43 869.81 L340.92 869.76 L341.4 869.71 L341.88 869.66 L342.36 869.61 L342.84 869.56 L343.33 869.51 L343.81 869.46 L344.29 869.41 L344.77 869.36 L345.25 869.31 L345.74 869.26 L346.22 869.21 L346.7 869.16 L347.18 869.1 L347.66 869.05 L348.14 869 L348.63 868.95 L349.11 868.89 L349.59 868.84 L350.07 868.79 L350.55 868.74 L351.04 868.68 L351.52 868.63 L352 868.58 L352.48 868.53 L352.96 868.47 L353.45 868.42 L353.93 868.37 L354.41 868.31 L354.89 868.26 L355.37 868.21 L355.86 868.15 L356.34 868.1 L356.82 868.05 L357.3 867.99 L357.78 867.94 L358.26 867.88 L358.75 867.83 L359.23 867.77 L359.71 867.71 L360.19 867.65 L360.67 867.59 L361.16 867.53 L361.64 867.47 L362.12 867.4 L362.6 867.34 L363.08 867.28 L363.57 867.21 L364.05 867.14 L364.53 867.07 L365.01 867.01 L365.49 866.94 L365.98 866.87 L366.46 866.79 L366.94 866.72 L367.42 866.65 L367.9 866.57 L368.39 866.5 L368.87 866.42 L369.35 866.34 L369.83 866.27 L370.31 866.19 L370.79 866.11 L371.28 866.02 L371.76 865.94 L372.24 865.86 L372.72 865.78 L373.2 865.69 L373.69 865.6 L374.17 865.51 L374.65 865.44 L375.13 865.35 L375.61 865.25 L376.1 865.17 L376.58 865.1 L377.06 865.02 L377.54 864.84 L378.02 864.8 L378.51 864.5 L378.99 864.55 L379.47 864.55 L379.95 864.39 L380.43 864.26 L380.91 864.15 L381.4 864.04 L381.88 863.94 L382.36 863.9 L382.84 863.7 L383.32 863.4 L383.81 863.62 L384.29 863.51 L384.77 863.25 L385.25 863.06 L385.73 863 L386.22 862.82 L386.7 862.91 L387.18 862.83 L387.66 862.56 L388.14 862.43 L388.63 862.13 L389.11 862.02 L389.59 862.56 L390.07 861.92 L390.55 862.1 L391.03 862.29 L391.52 861.63 L392 861.63 L392.48 861.54 L392.96 861.64 L393.44 861.46 L393.93 861.14 L394.41 861.33 L394.89 860.85 L395.37 860.66 L395.85 860.6 L396.34 860.34 L396.82 860.31 L397.3 860.49 L397.78 860.32 L398.26 859.84 L398.75 859.45 L399.23 859.56 L399.71 859.62 L400.19 859.27 L400.67 859.77 L401.16 859.37 L401.64 859.02 L402.12 858.77 L402.6 858.71 L403.08 858.55 L403.56 858.73 L404.05 858.36 L404.53 857.91 L405.01 858.55 L405.49 858.16 L405.97 857.67 L406.46 856.78 L406.94 856.93 L407.42 856.39 L407.9 856.3 L408.38 856.86 L408.87 856.52 L409.35 856.81 L409.83 855.6 L410.31 855.6 L410.79 855.45 L411.28 855.22 L411.76 855.1 L412.24 855 L412.72 854.76 L413.2 854.09 L413.68 854.83 L414.17 854.74 L414.65 854 L415.13 853.18 L415.61 853.41 L416.09 853.4 L416.58 852.62 L417.06 852.75 L417.54 853.56 L418.02 852.84 L418.5 853.18 L418.99 851.91 L419.47 851.78 L419.95 851.02 L420.43 849.81 L420.91 851.07 L421.4 850.45 L421.88 850.4 L422.36 851.54 L422.84 850.06 L423.32 849.76 L423.8 848.87 L424.29 849.26 L424.77 849.25 L425.25 847.79 L425.73 847.9 L426.21 848.12 L426.7 847.73 L427.18 847.13 L427.66 846.1 L428.14 845.38 L428.62 846.86 L429.11 844.9 L429.59 845.32 L430.07 844.79 L430.55 844.05 L431.03 845.05 L431.52 843.46 L432 844.64 L432.48 843.71 L432.96 843.65 L433.44 841.5 L433.93 841.18 L434.41 841.47 L434.89 841.3 L435.37 841.72 L435.85 839.68 L436.33 839.58 L436.82 839.59 L437.3 840 L437.78 839.82 L438.26 839.26 L438.74 837.8 L439.23 839.21 L439.71 838.01 L440.19 836.43 L440.67 836.66 L441.15 835.59 L441.64 836.28 L442.12 835.89 L442.6 834.73 L443.08 834.95 L443.56 834.82 L444.05 835.16 L444.53 835.6 L445.01 832.69 L445.49 833.93 L445.97 833.82 L446.45 832.02 L446.94 833.14 L447.42 833.13 L447.9 832.02 L448.38 831.13 L448.86 830.39 L449.35 829.72 L449.83 828.84 L450.31 829.37 L450.79 828.45 L451.27 828.41 L451.76 828.42 L452.24 826.96 L452.72 826.51 L453.2 824.58 L453.68 825.26 L454.17 825.98 L454.65 824.21 L455.13 824.51 L455.61 822.19 L456.09 824.87 L456.57 823.3 L457.06 822.76 L457.54 821.43 L458.02 821.12 L458.5 822.03 L458.98 821.75 L459.47 819.11 L459.95 817.21 L460.43 816.64 L460.91 817.97 L461.39 816.49 L461.88 817.28 L462.36 817.3 L462.84 813.88 L463.32 813.86 L463.8 814.33 L464.29 813.77 L464.77 811.76 L465.25 811.79 L465.73 811.89 L466.21 810.59 L466.7 810.29 L467.18 810.11 L467.66 809.83 L468.14 807.37 L468.62 808.3 L469.1 808.47 L469.59 804.45 L470.07 804.45 L470.55 804.64 L471.03 804.67 L471.51 803.73 L472 805.01 L472.48 802.7 L472.96 801.72 L473.44 801.64 L473.92 800.25 L474.41 801.03 L474.89 799.26 L475.37 800.73 L475.85 798.23 L476.33 798.31 L476.82 798.54 L477.3 796.77 L477.78 795.62 L478.26 795.74 L478.74 793.22 L479.22 794.61 L479.71 791.93 L480.19 791.55 L480.67 792.6 L481.15 789.39 L481.63 792.31 L482.12 789.27 L482.6 789.25 L483.08 787.72 L483.56 790.12 L484.04 789.02 L484.53 787.95 L485.01 786.23 L485.49 785.53 L485.97 785.01 L486.45 784.77 L486.94 784.75 L487.42 785.03 L487.9 783.16 L488.38 781.25 L488.86 779.97 L489.34 781.42 L489.83 778.65 L490.31 781.35 L490.79 777.8 L491.27 779.75 L491.75 777.29 L492.24 778.33 L492.72 777.73 L493.2 776.52 L493.68 773.12 L494.16 775.44 L494.65 772.99 L495.13 773.02 L495.61 772.18 L496.09 771.53 L496.57 770.44 L497.06 772.45 L497.54 770.01 L498.02 768.93 L498.5 769.66 L498.98 767.65 L499.47 769.04 L499.95 765.82 L500.43 767.3 L500.91 766.03 L501.39 763.79 L501.87 762.71 L502.36 764.55 L502.84 764.01 L503.32 760.9 L503.8 766.15 L504.28 759.06 L504.77 758.48 L505.25 761.46 L505.73 757.33 L506.21 757.96 L506.69 757.16 L507.18 760.85 L507.66 757.35 L508.14 756.23 L508.62 755.92 L509.1 755.23 L509.59 754.42 L510.07 757.89 L510.55 752.97 L511.03 753.11 L511.51 751.48 L511.99 751.49 L512.48 750.03 L512.96 748.9 L513.44 745.8 L513.92 749.4 L514.4 744.6 L514.89 747.12 L515.37 747.55 L515.85 747.81 L516.33 743.29 L516.81 746.61 L517.3 741.87 L517.78 742.15 L518.26 743.03 L518.74 742.53 L519.22 739.9 L519.71 739.8 L520.19 738.12 L520.67 738.73 L521.15 738.94 L521.63 736.45 L522.11 738.79 L522.6 734.56 L523.08 735.26 L523.56 736.65 L524.04 735.8 L524.52 733.91 L525.01 735.89 L525.49 729.5 L525.97 729.57 L526.45 732.59 L526.93 730.15 L527.42 726.2 L527.9 727.85 L528.38 729.75 L528.86 731.15 L529.34 729.54 L529.83 723.66 L530.31 724.58 L530.79 726.91 L531.27 722.48 L531.75 723.79 L532.24 723.67 L532.72 722.72 L533.2 721.92 L533.68 717.22 L534.16 721.45 L534.64 719.74 L535.13 715.78 L535.61 714.77 L536.09 718.76 L536.57 712.33 L537.05 713.45 L537.54 717.63 L538.02 710.73 L538.5 716.23 L538.98 711.46 L539.46 714.23 L539.95 714.72 L540.43 709.05 L540.91 709.15 L541.39 709.4 L541.87 708.16 L542.36 708 L542.84 707.57 L543.32 708.37 L543.8 704.51 L544.28 704.84 L544.76 704.6 L545.25 704.47 L545.73 703.18 L546.21 704.77 L546.69 701.73 L547.17 702.26 L547.66 697.21 L548.14 700.69 L548.62 698.98 L549.1 697.34 L549.58 695.1 L550.07 694.98 L550.55 695.06 L551.03 690.24 L551.51 693.6 L551.99 692.2 L552.48 686.88 L552.96 692.97 L553.44 688.71 L553.92 688.94 L554.4 691.52 L554.89 689.45 L555.37 685.95 L555.85 689.52 L556.33 686.38 L556.81 683.52 L557.29 685 L557.78 683.31 L558.26 684.35 L558.74 683.54 L559.22 682.8 L559.7 681.59 L560.19 679.01 L560.67 679.36 L561.15 675.07 L561.63 677.06 L562.11 676.89 L562.6 672.47 L563.08 676.26 L563.56 676.9 L564.04 674.42 L564.52 676.12 L565.01 672.42 L565.49 670.17 L565.97 670.91 L566.45 672.25 L566.93 671.11 L567.41 669.29 L567.9 667.33 L568.38 669.7 L568.86 669.1 L569.34 665.63 L569.82 666.65 L570.31 665.79 L570.79 664.91 L571.27 666.68 L571.75 664.88 L572.23 661.98 L572.72 663.68 L573.2 663.15 L573.68 661.6 L574.16 660.83 L574.64 656.15 L575.13 661.9 L575.61 659.51 L576.09 655.36 L576.57 658.52 L577.05 657.28 L577.53 660.16 L578.02 654.98 L578.5 654.59 L578.98 654.1 L579.46 655.42 L579.94 653.8 L580.43 654.05 L580.91 651.74 L581.39 652.8 L581.87 650.71 L582.35 654.17 L582.84 651.69 L583.32 655.9 L583.8 650.21 L584.28 647.91 L584.76 649.3 L585.25 643.79 L585.73 649.57 L586.21 647.77 L586.69 648.33 L587.17 646.97 L587.66 646.35 L588.14 647.7 L588.62 646.21 L589.1 639.96 L589.58 643.76 L590.06 640.98 L590.55 644.57 L591.03 641.84 L591.51 640.05 L591.99 640.85 L592.47 640.96 L592.96 639.8 L593.44 638.85 L593.92 636.78 L594.4 635.53 L594.88 639.78 L595.37 640.64 L595.85 636.57 L596.33 635.66 L596.81 633.77 L597.29 632.57 L597.78 635.32 L598.26 629.61 L598.74 632.5 L599.22 635.8 L599.7 630.09 L600.18 630.85 L600.67 630.3 L601.15 633.33 L601.63 630.36 L602.11 628.94 L602.59 629.01 L603.08 626.88 L603.56 625.26 L604.04 624.22 L604.52 624.2 L605 626.32 L605.49 622.24 L605.97 624.46 L606.45 622.8 L606.93 624.34 L607.41 625.99 L607.9 627.11 L608.38 621.92 L608.86 623.01 L609.34 621.21 L609.82 618.96 L610.3 623.02 L610.79 622.93 L611.27 618.56 L611.75 617.82 L612.23 618.5 L612.71 618.45 L613.2 619.94 L613.68 616.56 L614.16 617.28 L614.64 614.53 L615.12 613.03 L615.61 615.36 L616.09 612.99 L616.57 612.92 L617.05 611.42 L617.53 609.33 L618.02 610.48 L618.5 609.88 L618.98 609.21 L619.46 611.03 L619.94 609.73 L620.43 608.57 L620.91 606.39 L621.39 605.79 L621.87 603.45 L622.35 609.35 L622.83 606.88 L623.32 609.61 L623.8 606.88 L624.28 608.52 L624.76 602.72 L625.24 603.05 L625.73 606.07 L626.21 602.94 L626.69 601.74 L627.17 599.4 L627.65 600.69 L628.14 601.6 L628.62 601.59 L629.1 599.81 L629.58 600.01 L630.06 601.08 L630.55 602.09 L631.03 597.37 L631.51 600.34 L631.99 599.08 L632.47 596.66 L632.95 597.88 L633.44 595.23 L633.92 599.12 L634.4 595.16 L634.88 598.74 L635.36 598.68 L635.85 597.43 L636.33 594.84 L636.81 595.97 L637.29 596.93 L637.77 591.66 L638.26 595.39 L638.74 593.41 L639.22 592.35 L639.7 593.37 L640.18 591.42 L640.67 590.57 L641.15 591.58 L641.63 589.06 L642.11 591.81 L642.59 592.35 L643.07 589.61 L643.56 591.49 L644.04 588.6 L644.52 589.18 L645 589.54 L645.48 587.22 L645.97 586.98 L646.45 593.29 L646.93 587.96 L647.41 586.78 L647.89 585.8 L648.38 587.46 L648.86 588.29 L649.34 585.58 L649.82 584.22 L650.3 589.13 L650.79 587.79 L651.27 585.76 L651.75 589.28 L652.23 585.22 L652.71 582.25 L653.2 585.56 L653.68 583.01 L654.16 584.7 L654.64 581.96 L655.12 581.27 L655.6 579.78 L656.09 581.86 L656.57 579.76 L657.05 580.76 L657.53 582.18 L658.01 578.24 L658.5 581.95 L658.98 580.26 L659.46 575.7 L659.94 578.48 L660.42 581.47 L660.91 579.12 L661.39 580.52 L661.87 579.53 L662.35 581.9 L662.83 578.41 L663.32 581.57 L663.8 577.7 L664.28 577.49 L664.76 576.39 L665.24 573.56 L665.72 580.74 L666.21 579.67 L666.69 579.1 L667.17 578.08 L667.65 575.13 L668.13 577.25 L668.62 577.53 L669.1 578.38 L669.58 577.24 L670.06 576.68 L670.54 575.86 L671.03 578.2 L671.51 575.43 L671.99 574.02 L672.47 574.25 L672.95 577.1 L673.44 572.98 L673.92 572.83 L674.4 573.61 L674.88 576.33 L675.36 576.61 L675.84 573.55 L676.33 575.4 L676.81 575.81 L677.29 571.38 L677.77 571.16 L678.25 571.49 L678.74 570.03 L679.22 570.62 L679.7 574.36 L680.18 569.78 L680.66 571.55 L681.15 570.75 L681.63 568.42 L682.11 570.38 L682.59 568.03 L683.07 570.73 L683.56 571.37 L684.04 571.8 L684.52 570.52 L685 573.27 L685.48 569.98 L685.97 569.9 L686.45 570.48 L686.93 573.52 L687.41 573.16 L687.89 567.51 L688.37 570.48 L688.86 565.83 L689.34 569.6 L689.82 567.35 L690.3 570.58 L690.78 568.83 L691.27 567.83 L691.75 566.09 L692.23 563.79 L692.71 564.95 L693.19 569.35 L693.68 566.36 L694.16 566.49 L694.64 567.18 L695.12 564.64 L695.6 562.55 L696.09 566.23 L696.57 563.03 L697.05 562.3 L697.53 566.8 L698.01 561.19 L698.49 561.17 L698.98 563.63 L699.46 560.75 L699.94 563.35 L700.42 561.45 L700.9 562.23 L701.39 564.95 L701.87 562.63 L702.35 563.28 L702.83 563.74 L703.31 564.84 L703.8 563.97 L704.28 564.68 L704.76 560.01 L705.24 565.78 L705.72 561.75 L706.21 562.92 L706.69 564 L707.17 560.09 L707.65 562.86 L708.13 558.89 L708.61 561.4 L709.1 560.29" stroke="#f08a7a" stroke-width="3.8" fill="none" stroke-linejoin="round" opacity="0.5"/>
<path d="M291.76 872.8 L292.24 872.79 L292.72 872.79 L293.21 872.79 L293.69 872.79 L294.17 872.78 L294.65 872.78 L295.13 872.77 L295.62 872.77 L296.1 872.76 L296.58 872.75 L297.06 872.75 L297.54 872.74 L298.03 872.73 L298.51 872.72 L298.99 872.71 L299.47 872.69 L299.95 872.68 L300.44 872.67 L300.92 872.66 L301.4 872.64 L301.88 872.63 L302.36 872.61 L302.84 872.59 L303.33 872.58 L303.81 872.56 L304.29 872.54 L304.77 872.52 L305.25 872.5 L305.74 872.48 L306.22 872.46 L306.7 872.44 L307.18 872.42 L307.66 872.4 L308.15 872.38 L308.63 872.35 L309.11 872.33 L309.59 872.3 L310.07 872.28 L310.56 872.25 L311.04 872.23 L311.52 872.2 L312 872.17 L312.48 872.15 L312.97 872.12 L313.45 872.09 L313.93 872.06 L314.41 872.03 L314.89 872 L315.37 871.97 L315.86 871.94 L316.34 871.9 L316.82 871.87 L317.3 871.84 L317.78 871.81 L318.27 871.77 L318.75 871.74 L319.23 871.7 L319.71 871.67 L320.19 871.63 L320.68 871.6 L321.16 871.56 L321.64 871.52 L322.12 871.49 L322.6 871.45 L323.09 871.41 L323.57 871.37 L324.05 871.33 L324.53 871.29 L325.01 871.26 L325.49 871.22 L325.98 871.17 L326.46 871.13 L326.94 871.09 L327.42 871.05 L327.9 871.01 L328.39 870.97 L328.87 870.92 L329.35 870.88 L329.83 870.84 L330.31 870.8 L330.8 870.75 L331.28 870.71 L331.76 870.66 L332.24 870.62 L332.72 870.57 L333.21 870.53 L333.69 870.48 L334.17 870.44 L334.65 870.39 L335.13 870.34 L335.61 870.3 L336.1 870.25 L336.58 870.2 L337.06 870.15 L337.54 870.11 L338.02 870.06 L338.51 870.01 L338.99 869.96 L339.47 869.91 L339.95 869.86 L340.43 869.81 L340.92 869.76 L341.4 869.71 L341.88 869.66 L342.36 869.61 L342.84 869.56 L343.33 869.51 L343.81 869.46 L344.29 869.41 L344.77 869.36 L345.25 869.31 L345.74 869.26 L346.22 869.21 L346.7 869.16 L347.18 869.1 L347.66 869.05 L348.14 869 L348.63 868.95 L349.11 868.89 L349.59 868.84 L350.07 868.79 L350.55 868.74 L351.04 868.68 L351.52 868.63 L352 868.58 L352.48 868.53 L352.96 868.47 L353.45 868.42 L353.93 868.37 L354.41 868.31 L354.89 868.26 L355.37 868.21 L355.86 868.15 L356.34 868.1 L356.82 868.05 L357.3 867.99 L357.78 867.94 L358.26 867.88 L358.75 867.83 L359.23 867.77 L359.71 867.71 L360.19 867.65 L360.67 867.59 L361.16 867.53 L361.64 867.47 L362.12 867.4 L362.6 867.34 L363.08 867.28 L363.57 867.21 L364.05 867.14 L364.53 867.07 L365.01 867.01 L365.49 866.94 L365.98 866.87 L366.46 866.79 L366.94 866.72 L367.42 866.65 L367.9 866.57 L368.39 866.5 L368.87 866.42 L369.35 866.34 L369.83 866.27 L370.31 866.19 L370.79 866.11 L371.28 866.02 L371.76 865.94 L372.24 865.86 L372.72 865.78 L373.2 865.69 L373.69 865.6 L374.17 865.51 L374.65 865.44 L375.13 865.35 L375.61 865.25 L376.1 865.17 L376.58 865.1 L377.06 865.02 L377.54 864.84 L378.02 864.8 L378.51 864.5 L378.99 864.55 L379.47 864.55 L379.95 864.39 L380.43 864.26 L380.91 864.15 L381.4 864.04 L381.88 863.94 L382.36 863.9 L382.84 863.7 L383.32 863.4 L383.81 863.62 L384.29 863.51 L384.77 863.25 L385.25 863.06 L385.73 863 L386.22 862.82 L386.7 862.91 L387.18 862.83 L387.66 862.56 L388.14 862.43 L388.63 862.13 L389.11 862.02 L389.59 862.56 L390.07 861.92 L390.55 862.1 L391.03 862.29 L391.52 861.63 L392 861.63 L392.48 861.54 L392.96 861.64 L393.44 861.46 L393.93 861.14 L394.41 861.33 L394.89 860.85 L395.37 860.66 L395.85 860.6 L396.34 860.34 L396.82 860.31 L397.3 860.49 L397.78 860.32 L398.26 859.84 L398.75 859.45 L399.23 859.56 L399.71 859.62 L400.19 859.27 L400.67 859.77 L401.16 859.37 L401.64 859.02 L402.12 858.77 L402.6 858.71 L403.08 858.55 L403.56 858.73 L404.05 858.36 L404.53 857.91 L405.01 858.55 L405.49 858.16 L405.97 857.67 L406.46 856.78 L406.94 856.93 L407.42 856.39 L407.9 856.3 L408.38 856.86 L408.87 856.52 L409.35 856.81 L409.83 855.6 L410.31 855.6 L410.79 855.45 L411.28 855.22 L411.76 855.1 L412.24 855 L412.72 854.76 L413.2 854.09 L413.68 854.83 L414.17 854.74 L414.65 854 L415.13 853.18 L415.61 853.41 L416.09 853.4 L416.58 852.62 L417.06 852.75 L417.54 853.56 L418.02 852.84 L418.5 853.18 L418.99 851.91 L419.47 851.78 L419.95 851.02 L420.43 849.81 L420.91 851.07 L421.4 850.45 L421.88 850.4 L422.36 851.54 L422.84 850.06 L423.32 849.76 L423.8 848.87 L424.29 849.26 L424.77 849.25 L425.25 847.79 L425.73 847.9 L426.21 848.12 L426.7 847.73 L427.18 847.13 L427.66 846.1 L428.14 845.38 L428.62 846.86 L429.11 844.9 L429.59 845.32 L430.07 844.79 L430.55 844.05 L431.03 845.05 L431.52 843.46 L432 844.64 L432.48 843.71 L432.96 843.65 L433.44 841.5 L433.93 841.18 L434.41 841.47 L434.89 841.3 L435.37 841.72 L435.85 839.68 L436.33 839.58 L436.82 839.59 L437.3 840 L437.78 839.82 L438.26 839.26 L438.74 837.8 L439.23 839.21 L439.71 838.01 L440.19 836.43 L440.67 836.66 L441.15 835.59 L441.64 836.28 L442.12 835.89 L442.6 834.73 L443.08 834.95 L443.56 834.82 L444.05 835.16 L444.53 835.6 L445.01 832.69 L445.49 833.93 L445.97 833.82 L446.45 832.02 L446.94 833.14 L447.42 833.13 L447.9 832.02 L448.38 831.13 L448.86 830.39 L449.35 829.72 L449.83 828.84 L450.31 829.37 L450.79 828.45 L451.27 828.41 L451.76 828.42 L452.24 826.96 L452.72 826.51 L453.2 824.58 L453.68 825.26 L454.17 825.98 L454.65 824.21 L455.13 824.51 L455.61 822.19 L456.09 824.87 L456.57 823.3 L457.06 822.76 L457.54 821.43 L458.02 821.12 L458.5 822.03 L458.98 821.75 L459.47 819.11 L459.95 817.21 L460.43 816.64 L460.91 817.97 L461.39 816.49 L461.88 817.28 L462.36 817.3 L462.84 813.88 L463.32 813.86 L463.8 814.33 L464.29 813.77 L464.77 811.76 L465.25 811.79 L465.73 811.89 L466.21 810.59 L466.7 810.29 L467.18 810.11 L467.66 809.83 L468.14 807.37 L468.62 808.3 L469.1 808.47 L469.59 804.45 L470.07 804.45 L470.55 804.64 L471.03 804.67 L471.51 803.73 L472 805.01 L472.48 802.7 L472.96 801.72 L473.44 801.64 L473.92 800.25 L474.41 801.03 L474.89 799.26 L475.37 800.73 L475.85 798.23 L476.33 798.31 L476.82 798.54 L477.3 796.77 L477.78 795.62 L478.26 795.74 L478.74 793.22 L479.22 794.61 L479.71 791.93 L480.19 791.55 L480.67 792.6 L481.15 789.39 L481.63 792.31 L482.12 789.27 L482.6 789.25 L483.08 787.72 L483.56 790.12 L484.04 789.02 L484.53 787.95 L485.01 786.23 L485.49 785.53 L485.97 785.01 L486.45 784.77 L486.94 784.75 L487.42 785.03 L487.9 783.16 L488.38 781.25 L488.86 779.97 L489.34 781.42 L489.83 778.65 L490.31 781.35 L490.79 777.8 L491.27 779.75 L491.75 777.29 L492.24 778.33 L492.72 777.73 L493.2 776.52 L493.68 773.12 L494.16 775.44 L494.65 772.99 L495.13 773.02 L495.61 772.18 L496.09 771.53 L496.57 770.44 L497.06 772.45 L497.54 770.01 L498.02 768.93 L498.5 769.66 L498.98 767.65 L499.47 769.04 L499.95 765.82 L500.43 767.3 L500.91 766.03 L501.39 763.79 L501.87 762.71 L502.36 764.55 L502.84 764.01 L503.32 760.9 L503.8 766.15 L504.28 759.06 L504.77 758.48 L505.25 761.46 L505.73 757.33 L506.21 757.96 L506.69 757.16 L507.18 760.85 L507.66 757.35 L508.14 756.23 L508.62 755.92 L509.1 755.23 L509.59 754.42 L510.07 757.89 L510.55 752.97 L511.03 753.11 L511.51 751.48 L511.99 751.49 L512.48 750.03 L512.96 748.9 L513.44 745.8 L513.92 749.4 L514.4 744.6 L514.89 747.12 L515.37 747.55 L515.85 747.81 L516.33 743.29 L516.81 746.61 L517.3 741.87 L517.78 742.15 L518.26 743.03 L518.74 742.53 L519.22 739.9 L519.71 739.8 L520.19 738.12 L520.67 738.73 L521.15 738.94 L521.63 736.45 L522.11 738.79 L522.6 734.56 L523.08 735.26 L523.56 736.65 L524.04 735.8 L524.52 733.91 L525.01 735.89 L525.49 729.5 L525.97 729.57 L526.45 732.59 L526.93 730.15 L527.42 726.2 L527.9 727.85 L528.38 729.75 L528.86 731.15 L529.34 729.54 L529.83 723.66 L530.31 724.58 L530.79 726.91 L531.27 722.48 L531.75 723.79 L532.24 723.67 L532.72 722.72 L533.2 721.92 L533.68 717.22 L534.16 721.45 L534.64 719.74 L535.13 715.78 L535.61 714.77 L536.09 718.76 L536.57 712.33 L537.05 713.45 L537.54 717.63 L538.02 710.73 L538.5 716.23 L538.98 711.46 L539.46 714.23 L539.95 714.72 L540.43 709.05 L540.91 709.15 L541.39 709.4 L541.87 708.16 L542.36 708 L542.84 707.57 L543.32 708.37 L543.8 704.51 L544.28 704.84 L544.76 704.6 L545.25 704.47 L545.73 703.18 L546.21 704.77 L546.69 701.73 L547.17 702.26 L547.66 697.21 L548.14 700.69 L548.62 698.98 L549.1 697.34 L549.58 695.1 L550.07 694.98 L550.55 695.06 L551.03 690.24 L551.51 693.6 L551.99 692.2 L552.48 686.88 L552.96 692.97 L553.44 688.71 L553.92 688.94 L554.4 691.52 L554.89 689.45 L555.37 685.95 L555.85 689.52 L556.33 686.38 L556.81 683.52 L557.29 685 L557.78 683.31 L558.26 684.35 L558.74 683.54 L559.22 682.8 L559.7 681.59 L560.19 679.01 L560.67 679.36 L561.15 675.07 L561.63 677.06 L562.11 676.89 L562.6 672.47 L563.08 676.26 L563.56 676.9 L564.04 674.42 L564.52 676.12 L565.01 672.42 L565.49 670.17 L565.97 670.91 L566.45 672.25 L566.93 671.11 L567.41 669.29 L567.9 667.33 L568.38 669.7 L568.86 669.1 L569.34 665.63 L569.82 666.65 L570.31 665.79 L570.79 664.91 L571.27 666.68 L571.75 664.88 L572.23 661.98 L572.72 663.68 L573.2 663.15 L573.68 661.6 L574.16 660.83 L574.64 656.15 L575.13 661.9 L575.61 659.51 L576.09 655.36 L576.57 658.52 L577.05 657.28 L577.53 660.16 L578.02 654.98 L578.5 654.59 L578.98 654.1 L579.46 655.42 L579.94 653.8 L580.43 654.05 L580.91 651.74 L581.39 652.8 L581.87 650.71 L582.35 654.17 L582.84 651.69 L583.32 655.9 L583.8 650.21 L584.28 647.91 L584.76 649.3 L585.25 643.79 L585.73 649.57 L586.21 647.77 L586.69 648.33 L587.17 646.97 L587.66 646.35 L588.14 647.7 L588.62 646.21 L589.1 639.96 L589.58 643.76 L590.06 640.98 L590.55 644.57 L591.03 641.84 L591.51 640.05 L591.99 640.85 L592.47 640.96 L592.96 639.8 L593.44 638.85 L593.92 636.78 L594.4 635.53 L594.88 639.78 L595.37 640.64 L595.85 636.57 L596.33 635.66 L596.81 633.77 L597.29 632.57 L597.78 635.32 L598.26 629.61 L598.74 632.5 L599.22 635.8 L599.7 630.09 L600.18 630.85 L600.67 630.3 L601.15 633.33 L601.63 630.36 L602.11 628.94 L602.59 629.01 L603.08 626.88 L603.56 625.26 L604.04 624.22 L604.52 624.2 L605 626.32 L605.49 622.24 L605.97 624.46 L606.45 622.8 L606.93 624.34 L607.41 625.99 L607.9 627.11 L608.38 621.92 L608.86 623.01 L609.34 621.21 L609.82 618.96 L610.3 623.02 L610.79 622.93 L611.27 618.56 L611.75 617.82 L612.23 618.5 L612.71 618.45 L613.2 619.94 L613.68 616.56 L614.16 617.28 L614.64 614.53 L615.12 613.03 L615.61 615.36 L616.09 612.99 L616.57 612.92 L617.05 611.42 L617.53 609.33 L618.02 610.48 L618.5 609.88 L618.98 609.21 L619.46 611.03 L619.94 609.73 L620.43 608.57 L620.91 606.39 L621.39 605.79 L621.87 603.45 L622.35 609.35 L622.83 606.88 L623.32 609.61 L623.8 606.88 L624.28 608.52 L624.76 602.72 L625.24 603.05 L625.73 606.07 L626.21 602.94 L626.69 601.74 L627.17 599.4 L627.65 600.69 L628.14 601.6 L628.62 601.59 L629.1 599.81 L629.58 600.01 L630.06 601.08 L630.55 602.09 L631.03 597.37 L631.51 600.34 L631.99 599.08 L632.47 596.66 L632.95 597.88 L633.44 595.23 L633.92 599.12 L634.4 595.16 L634.88 598.74 L635.36 598.68 L635.85 597.43 L636.33 594.84 L636.81 595.97 L637.29 596.93 L637.77 591.66 L638.26 595.39 L638.74 593.41 L639.22 592.35 L639.7 593.37 L640.18 591.42 L640.67 590.57 L641.15 591.58 L641.63 589.06 L642.11 591.81 L642.59 592.35 L643.07 589.61 L643.56 591.49 L644.04 588.6 L644.52 589.18 L645 589.54 L645.48 587.22 L645.97 586.98 L646.45 593.29 L646.93 587.96 L647.41 586.78 L647.89 585.8 L648.38 587.46 L648.86 588.29 L649.34 585.58 L649.82 584.22 L650.3 589.13 L650.79 587.79 L651.27 585.76 L651.75 589.28 L652.23 585.22 L652.71 582.25 L653.2 585.56 L653.68 583.01 L654.16 584.7 L654.64 581.96 L655.12 581.27 L655.6 579.78 L656.09 581.86 L656.57 579.76 L657.05 580.76 L657.53 582.18 L658.01 578.24 L658.5 581.95 L658.98 580.26 L659.46 575.7 L659.94 578.48 L660.42 581.47 L660.91 579.12 L661.39 580.52 L661.87 579.53 L662.35 581.9 L662.83 578.41 L663.32 581.57 L663.8 577.7 L664.28 577.49 L664.76 576.39 L665.24 573.56 L665.72 580.74 L666.21 579.67 L666.69 579.1 L667.17 578.08 L667.65 575.13 L668.13 577.25 L668.62 577.53 L669.1 578.38 L669.58 577.24 L670.06 576.68 L670.54 575.86 L671.03 578.2 L671.51 575.43 L671.99 574.02 L672.47 574.25 L672.95 577.1 L673.44 572.98 L673.92 572.83 L674.4 573.61 L674.88 576.33 L675.36 576.61 L675.84 573.55 L676.33 575.4 L676.81 575.81 L677.29 571.38 L677.77 571.16 L678.25 571.49 L678.74 570.03 L679.22 570.62 L679.7 574.36 L680.18 569.78 L680.66 571.55 L681.15 570.75 L681.63 568.42 L682.11 570.38 L682.59 568.03 L683.07 570.73 L683.56 571.37 L684.04 571.8 L684.52 570.52 L685 573.27 L685.48 569.98 L685.97 569.9 L686.45 570.48 L686.93 573.52 L687.41 573.16 L687.89 567.51 L688.37 570.48 L688.86 565.83 L689.34 569.6 L689.82 567.35 L690.3 570.58 L690.78 568.83 L691.27 567.83 L691.75 566.09 L692.23 563.79 L692.71 564.95 L693.19 569.35 L693.68 566.36 L694.16 566.49 L694.64 567.18 L695.12 564.64 L695.6 562.55 L696.09 566.23 L696.57 563.03 L697.05 562.3 L697.53 566.8 L698.01 561.19 L698.49 561.17 L698.98 563.63 L699.46 560.75 L699.94 563.35 L700.42 561.45 L700.9 562.23 L701.39 564.95 L701.87 562.63 L702.35 563.28 L702.83 563.74 L703.31 564.84 L703.8 563.97 L704.28 564.68 L704.76 560.01 L705.24 565.78 L705.72 561.75 L706.21 562.92 L706.69 564 L707.17 560.09 L707.65 562.86 L708.13 558.89 L708.61 561.4 L709.1 560.29" stroke="#d81e12" stroke-width="2.4" fill="none" stroke-linejoin="round"/>
<path d="M291.76 872.51 L292.24 872.49 L292.72 872.48 L293.21 872.46 L293.69 872.44 L294.17 872.43 L294.65 872.41 L295.13 872.39 L295.62 872.38 L296.1 872.36 L296.58 872.34 L297.06 872.32 L297.54 872.31 L298.03 872.29 L298.51 872.27 L298.99 872.25 L299.47 872.23 L299.95 872.21 L300.44 872.2 L300.92 872.18 L301.4 872.16 L301.88 872.14 L302.36 872.12 L302.84 872.1 L303.33 872.08 L303.81 872.06 L304.29 872.03 L304.77 872.01 L305.25 871.99 L305.74 871.97 L306.22 871.95 L306.7 871.93 L307.18 871.9 L307.66 871.88 L308.15 871.86 L308.63 871.83 L309.11 871.81 L309.59 871.79 L310.07 871.76 L310.56 871.74 L311.04 871.71 L311.52 871.69 L312 871.66 L312.48 871.64 L312.97 871.61 L313.45 871.59 L313.93 871.56 L314.41 871.53 L314.89 871.51 L315.37 871.48 L315.86 871.45 L316.34 871.43 L316.82 871.4 L317.3 871.37 L317.78 871.34 L318.27 871.31 L318.75 871.28 L319.23 871.25 L319.71 871.22 L320.19 871.19 L320.68 871.16 L321.16 871.13 L321.64 871.1 L322.12 871.07 L322.6 871.04 L323.09 871 L323.57 870.97 L324.05 870.94 L324.53 870.9 L325.01 870.87 L325.49 870.84 L325.98 870.8 L326.46 870.77 L326.94 870.73 L327.42 870.69 L327.9 870.66 L328.39 870.62 L328.87 870.59 L329.35 870.55 L329.83 870.51 L330.31 870.47 L330.8 870.43 L331.28 870.4 L331.76 870.36 L332.24 870.32 L332.72 870.28 L333.21 870.24 L333.69 870.19 L334.17 870.15 L334.65 870.11 L335.13 870.07 L335.61 870.03 L336.1 869.98 L336.58 869.94 L337.06 869.9 L337.54 869.85 L338.02 869.81 L338.51 869.76 L338.99 869.71 L339.47 869.67 L339.95 869.62 L340.43 869.57 L340.92 869.53 L341.4 869.48 L341.88 869.43 L342.36 869.38 L342.84 869.33 L343.33 869.28 L343.81 869.23 L344.29 869.18 L344.77 869.13 L345.25 869.07 L345.74 869.02 L346.22 868.97 L346.7 868.91 L347.18 868.86 L347.66 868.8 L348.14 868.75 L348.63 868.69 L349.11 868.63 L349.59 868.58 L350.07 868.52 L350.55 868.46 L351.04 868.4 L351.52 868.34 L352 868.28 L352.48 868.22 L352.96 868.16 L353.45 868.1 L353.93 868.04 L354.41 867.97 L354.89 867.91 L355.37 867.84 L355.86 867.78 L356.34 867.71 L356.82 867.65 L357.3 867.58 L357.78 867.51 L358.26 867.45 L358.75 867.38 L359.23 867.31 L359.71 867.24 L360.19 867.17 L360.67 867.09 L361.16 867.02 L361.64 866.95 L362.12 866.88 L362.6 866.8 L363.08 866.73 L363.57 866.65 L364.05 866.58 L364.53 866.5 L365.01 866.42 L365.49 866.34 L365.98 866.26 L366.46 866.18 L366.94 866.1 L367.42 866.02 L367.9 865.94 L368.39 865.86 L368.87 865.77 L369.35 865.69 L369.83 865.61 L370.31 865.52 L370.79 865.43 L371.28 865.35 L371.76 865.26 L372.24 865.17 L372.72 865.08 L373.2 864.99 L373.69 864.9 L374.17 864.81 L374.65 864.71 L375.13 864.62 L375.61 864.53 L376.1 864.43 L376.58 864.33 L377.06 864.24 L377.54 864.14 L378.02 864.04 L378.51 863.94 L378.99 863.84 L379.47 863.74 L379.95 863.64 L380.43 863.54 L380.91 863.43 L381.4 863.33 L381.88 863.22 L382.36 863.12 L382.84 863.01 L383.32 862.9 L383.81 862.79 L384.29 862.68 L384.77 862.57 L385.25 862.46 L385.73 862.35 L386.22 862.23 L386.7 862.12 L387.18 862 L387.66 861.89 L388.14 861.77 L388.63 861.65 L389.11 861.53 L389.59 861.41 L390.07 861.29 L390.55 861.17 L391.03 861.04 L391.52 860.92 L392 860.8 L392.48 860.67 L392.96 860.54 L393.44 860.41 L393.93 860.29 L394.41 860.16 L394.89 860.02 L395.37 859.89 L395.85 859.76 L396.34 859.62 L396.82 859.49 L397.3 859.35 L397.78 859.22 L398.26 859.08 L398.75 858.94 L399.23 858.8 L399.71 858.66 L400.19 858.51 L400.67 858.37 L401.16 858.22 L401.64 858.08 L402.12 857.93 L402.6 857.78 L403.08 857.63 L403.56 857.48 L404.05 857.33 L404.53 857.18 L405.01 857.03 L405.49 856.87 L405.97 856.71 L406.46 856.56 L406.94 856.4 L407.42 856.24 L407.9 856.08 L408.38 855.92 L408.87 855.75 L409.35 855.59 L409.83 855.42 L410.31 855.26 L410.79 855.09 L411.28 854.92 L411.76 854.75 L412.24 854.58 L412.72 854.41 L413.2 854.23 L413.68 854.06 L414.17 853.88 L414.65 853.7 L415.13 853.53 L415.61 853.35 L416.09 853.16 L416.58 852.98 L417.06 852.8 L417.54 852.61 L418.02 852.43 L418.5 852.24 L418.99 852.05 L419.47 851.86 L419.95 851.67 L420.43 851.48 L420.91 851.28 L421.4 851.09 L421.88 850.89 L422.36 850.69 L422.84 850.49 L423.32 850.29 L423.8 850.09 L424.29 849.88 L424.77 849.68 L425.25 849.47 L425.73 849.27 L426.21 849.06 L426.7 848.85 L427.18 848.63 L427.66 848.42 L428.14 848.21 L428.62 847.99 L429.11 847.77 L429.59 847.55 L430.07 847.33 L430.55 847.11 L431.03 846.89 L431.52 846.66 L432 846.44 L432.48 846.21 L432.96 845.98 L433.44 845.75 L433.93 845.52 L434.41 845.28 L434.89 845.05 L435.37 844.81 L435.85 844.58 L436.33 844.34 L436.82 844.09 L437.3 843.85 L437.78 843.61 L438.26 843.36 L438.74 843.12 L439.23 842.87 L439.71 842.62 L440.19 842.36 L440.67 842.11 L441.15 841.86 L441.64 841.6 L442.12 841.34 L442.6 841.08 L443.08 840.82 L443.56 840.56 L444.05 840.29 L444.53 840.03 L445.01 839.76 L445.49 839.49 L445.97 839.22 L446.45 838.94 L446.94 838.67 L447.42 838.39 L447.9 838.11 L448.38 837.83 L448.86 837.55 L449.35 837.27 L449.83 836.99 L450.31 836.7 L450.79 836.41 L451.27 836.12 L451.76 835.83 L452.24 835.54 L452.72 835.24 L453.2 834.94 L453.68 834.65 L454.17 834.34 L454.65 834.04 L455.13 833.74 L455.61 833.43 L456.09 833.12 L456.57 832.82 L457.06 832.5 L457.54 832.19 L458.02 831.88 L458.5 831.56 L458.98 831.24 L459.47 830.92 L459.95 830.6 L460.43 830.27 L460.91 829.95 L461.39 829.62 L461.88 829.29 L462.36 828.96 L462.84 828.62 L463.32 828.29 L463.8 827.95 L464.29 827.61 L464.77 827.27 L465.25 826.92 L465.73 826.58 L466.21 826.23 L466.7 825.88 L467.18 825.53 L467.66 825.18 L468.14 824.82 L468.62 824.47 L469.1 824.11 L469.59 823.74 L470.07 823.38 L470.55 823.02 L471.03 822.65 L471.51 822.28 L472 821.91 L472.48 821.53 L472.96 821.16 L473.44 820.78 L473.92 820.4 L474.41 820.02 L474.89 819.63 L475.37 819.25 L475.85 818.86 L476.33 818.47 L476.82 818.08 L477.3 817.68 L477.78 817.28 L478.26 816.88 L478.74 816.48 L479.22 816.08 L479.71 815.67 L480.19 815.27 L480.67 814.86 L481.15 814.44 L481.63 814.03 L482.12 813.61 L482.6 813.19 L483.08 812.77 L483.56 812.35 L484.04 811.92 L484.53 811.5 L485.01 811.07 L485.49 810.63 L485.97 810.2 L486.45 809.76 L486.94 809.32 L487.42 808.88 L487.9 808.44 L488.38 807.99 L488.86 807.54 L489.34 807.09 L489.83 806.64 L490.31 806.19 L490.79 805.73 L491.27 805.27 L491.75 804.81 L492.24 804.34 L492.72 803.87 L493.2 803.4 L493.68 802.93 L494.16 802.46 L494.65 801.98 L495.13 801.5 L495.61 801.02 L496.09 800.54 L496.57 800.05 L497.06 799.56 L497.54 799.07 L498.02 798.58 L498.5 798.08 L498.98 797.58 L499.47 797.08 L499.95 796.58 L500.43 796.08 L500.91 795.57 L501.39 795.06 L501.87 794.54 L502.36 794.03 L502.84 793.51 L503.32 792.99 L503.8 792.47 L504.28 791.94 L504.77 791.42 L505.25 790.89 L505.73 790.35 L506.21 789.82 L506.69 789.28 L507.18 788.74 L507.66 788.2 L508.14 787.65 L508.62 787.1 L509.1 786.55 L509.59 786 L510.07 785.45 L510.55 784.89 L511.03 784.33 L511.51 783.77 L511.99 783.2 L512.48 782.63 L512.96 782.06 L513.44 781.49 L513.92 780.92 L514.4 780.34 L514.89 779.76 L515.37 779.17 L515.85 778.59 L516.33 778 L516.81 777.41 L517.3 776.82 L517.78 776.22 L518.26 775.62 L518.74 775.02 L519.22 774.42 L519.71 773.81 L520.19 773.21 L520.67 772.6 L521.15 771.98 L521.63 771.37 L522.11 770.75 L522.6 770.13 L523.08 769.51 L523.56 768.88 L524.04 768.25 L524.52 767.62 L525.01 766.99 L525.49 766.35 L525.97 765.71 L526.45 765.07 L526.93 764.43 L527.42 763.78 L527.9 763.14 L528.38 762.49 L528.86 761.83 L529.34 761.18 L529.83 760.52 L530.31 759.86 L530.79 759.2 L531.27 758.53 L531.75 757.86 L532.24 757.19 L532.72 756.52 L533.2 755.85 L533.68 755.17 L534.16 754.49 L534.64 753.81 L535.13 753.12 L535.61 752.44 L536.09 751.75 L536.57 751.05 L537.05 750.36 L537.54 749.66 L538.02 748.97 L538.5 748.27 L538.98 747.56 L539.46 746.86 L539.95 746.15 L540.43 745.44 L540.91 744.73 L541.39 744.01 L541.87 743.29 L542.36 742.58 L542.84 741.85 L543.32 741.13 L543.8 740.4 L544.28 739.68 L544.76 738.95 L545.25 738.21 L545.73 737.48 L546.21 736.74 L546.69 736.01 L547.17 735.26 L547.66 734.52 L548.14 733.78 L548.62 733.03 L549.1 732.28 L549.58 731.53 L550.07 730.78 L550.55 730.02 L551.03 729.27 L551.51 728.51 L551.99 727.75 L552.48 726.98 L552.96 726.22 L553.44 725.45 L553.92 724.68 L554.4 723.91 L554.89 723.14 L555.37 722.37 L555.85 721.59 L556.33 720.82 L556.81 720.04 L557.29 719.26 L557.78 718.47 L558.26 717.69 L558.74 716.9 L559.22 716.12 L559.7 715.33 L560.19 714.54 L560.67 713.75 L561.15 712.95 L561.63 712.16 L562.11 711.36 L562.6 710.56 L563.08 709.76 L563.56 708.96 L564.04 708.16 L564.52 707.36 L565.01 706.55 L565.49 705.75 L565.97 704.94 L566.45 704.13 L566.93 703.32 L567.41 702.51 L567.9 701.7 L568.38 700.89 L568.86 700.07 L569.34 699.26 L569.82 698.44 L570.31 697.62 L570.79 696.8 L571.27 695.98 L571.75 695.16 L572.23 694.34 L572.72 693.52 L573.2 692.7 L573.68 691.88 L574.16 691.05 L574.64 690.23 L575.13 689.4 L575.61 688.58 L576.09 687.75 L576.57 686.92 L577.05 686.09 L577.53 685.27 L578.02 684.44 L578.5 683.61 L578.98 682.78 L579.46 681.95 L579.94 681.12 L580.43 680.29 L580.91 679.46 L581.39 678.63 L581.87 677.8 L582.35 676.97 L582.84 676.14 L583.32 675.3 L583.8 674.47 L584.28 673.64 L584.76 672.81 L585.25 671.98 L585.73 671.15 L586.21 670.32 L586.69 669.49 L587.17 668.66 L587.66 667.83 L588.14 667 L588.62 666.17 L589.1 665.35 L589.58 664.52 L590.06 663.69 L590.55 662.86 L591.03 662.04 L591.51 661.21 L591.99 660.39 L592.47 659.57 L592.96 658.74 L593.44 657.92 L593.92 657.1 L594.4 656.28 L594.88 655.46 L595.37 654.64 L595.85 653.83 L596.33 653.01 L596.81 652.19 L597.29 651.38 L597.78 650.57 L598.26 649.76 L598.74 648.95 L599.22 648.14 L599.7 647.33 L600.18 646.53 L600.67 645.73 L601.15 644.92 L601.63 644.12 L602.11 643.32 L602.59 642.53 L603.08 641.73 L603.56 640.94 L604.04 640.15 L604.52 639.36 L605 638.57 L605.49 637.79 L605.97 637 L606.45 636.22 L606.93 635.44 L607.41 634.66 L607.9 633.89 L608.38 633.12 L608.86 632.35 L609.34 631.58 L609.82 630.81 L610.3 630.05 L610.79 629.29 L611.27 628.53 L611.75 627.78 L612.23 627.03 L612.71 626.28 L613.2 625.53 L613.68 624.78 L614.16 624.04 L614.64 623.3 L615.12 622.57 L615.61 621.84 L616.09 621.11 L616.57 620.38 L617.05 619.66 L617.53 618.94 L618.02 618.22 L618.5 617.51 L618.98 616.8 L619.46 616.09 L619.94 615.38 L620.43 614.68 L620.91 613.99 L621.39 613.29 L621.87 612.6 L622.35 611.92 L622.83 611.23 L623.32 610.55 L623.8 609.88 L624.28 609.21 L624.76 608.54 L625.24 607.87 L625.73 607.21 L626.21 606.56 L626.69 605.91 L627.17 605.26 L627.65 604.61 L628.14 603.97 L628.62 603.33 L629.1 602.7 L629.58 602.07 L630.06 601.45 L630.55 600.83 L631.03 600.21 L631.51 599.6 L631.99 598.99 L632.47 598.39 L632.95 597.79 L633.44 597.19 L633.92 596.6 L634.4 596.02 L634.88 595.44 L635.36 594.86 L635.85 594.29 L636.33 593.72 L636.81 593.15 L637.29 592.6 L637.77 592.04 L638.26 591.49 L638.74 590.95 L639.22 590.4 L639.7 589.87 L640.18 589.34 L640.67 588.81 L641.15 588.29 L641.63 587.77 L642.11 587.26 L642.59 586.75 L643.07 586.25 L643.56 585.75 L644.04 585.25 L644.52 584.77 L645 584.28 L645.48 583.8 L645.97 583.33 L646.45 582.86 L646.93 582.39 L647.41 581.93 L647.89 581.48 L648.38 581.03 L648.86 580.58 L649.34 580.14 L649.82 579.7 L650.3 579.27 L650.79 578.85 L651.27 578.42 L651.75 578.01 L652.23 577.6 L652.71 577.19 L653.2 576.79 L653.68 576.39 L654.16 576 L654.64 575.61 L655.12 575.23 L655.6 574.85 L656.09 574.48 L656.57 574.11 L657.05 573.74 L657.53 573.38 L658.01 573.03 L658.5 572.68 L658.98 572.34 L659.46 572 L659.94 571.66 L660.42 571.33 L660.91 571 L661.39 570.68 L661.87 570.36 L662.35 570.05 L662.83 569.74 L663.32 569.44 L663.8 569.14 L664.28 568.85 L664.76 568.56 L665.24 568.27 L665.72 567.99 L666.21 567.72 L666.69 567.44 L667.17 567.18 L667.65 566.91 L668.13 566.65 L668.62 566.4 L669.1 566.15 L669.58 565.9 L670.06 565.66 L670.54 565.42 L671.03 565.19 L671.51 564.96 L671.99 564.73 L672.47 564.51 L672.95 564.29 L673.44 564.08 L673.92 563.87 L674.4 563.66 L674.88 563.46 L675.36 563.26 L675.84 563.07 L676.33 562.88 L676.81 562.69 L677.29 562.51 L677.77 562.33 L678.25 562.15 L678.74 561.98 L679.22 561.81 L679.7 561.64 L680.18 561.48 L680.66 561.32 L681.15 561.17 L681.63 561.02 L682.11 560.87 L682.59 560.72 L683.07 560.58 L683.56 560.44 L684.04 560.3 L684.52 560.17 L685 560.04 L685.48 559.91 L685.97 559.79 L686.45 559.67 L686.93 559.55 L687.41 559.43 L687.89 559.32 L688.37 559.21 L688.86 559.1 L689.34 558.99 L689.82 558.89 L690.3 558.79 L690.78 558.7 L691.27 558.6 L691.75 558.51 L692.23 558.42 L692.71 558.33 L693.19 558.24 L693.68 558.16 L694.16 558.08 L694.64 558 L695.12 557.93 L695.6 557.85 L696.09 557.78 L696.57 557.71 L697.05 557.64 L697.53 557.57 L698.01 557.51 L698.49 557.45 L698.98 557.38 L699.46 557.33 L699.94 557.27 L700.42 557.21 L700.9 557.16 L701.39 557.11 L701.87 557.06 L702.35 557.01 L702.83 556.96 L703.31 556.91 L703.8 556.87 L704.28 556.82 L704.76 556.78 L705.24 556.74 L705.72 556.7 L706.21 556.66 L706.69 556.63 L707.17 556.59 L707.65 556.56 L708.13 556.53 L708.61 556.49 L709.1 556.46 L709.58 556.43 L710.06 556.4 L710.54 556.38 L711.02 556.35 L711.51 556.32 L711.99 556.3 L712.47 556.28 L712.95 556.25 L713.43 556.23 L713.92 556.21 L714.4 556.19 L714.88 556.17 L715.36 556.15 L715.84 556.13 L716.33 556.11 L716.81 556.1 L717.29 556.08 L717.77 556.07 L718.25 556.05 L718.74 556.04 L719.22 556.02 L719.7 556.01 L720.18 556 L720.66 555.99 L721.14 555.97 L721.63 555.96 L722.11 555.95 L722.59 555.94 L723.07 555.93 L723.55 555.92 L724.04 555.91 L724.52 555.91 L725 555.9" stroke="#151515" stroke-width="6.2" fill="none" stroke-linecap="round" stroke-linejoin="round"/>
<line x1="293.25" y1="522.5" x2="293.25" y2="892" stroke="#141414" stroke-width="4" stroke-linecap="butt" />
<line x1="291.25" y1="890.2" x2="727" y2="890.2" stroke="#141414" stroke-width="4" stroke-linecap="butt" />
<line x1="284.5" y1="873.75" x2="301.25" y2="873.75" stroke="#141414" stroke-width="3.5" stroke-linecap="butt" />
<text font-size="21.8" text-anchor="end" fill="#111" x="278" y="881.45" >0.00</text>
<line x1="284.5" y1="794.25" x2="301.25" y2="794.25" stroke="#141414" stroke-width="3.5" stroke-linecap="butt" />
<text font-size="21.8" text-anchor="end" fill="#111" x="278" y="801.95" >0.25</text>
<line x1="284.5" y1="714.75" x2="301.25" y2="714.75" stroke="#141414" stroke-width="3.5" stroke-linecap="butt" />
<text font-size="21.8" text-anchor="end" fill="#111" x="278" y="722.45" >0.50</text>
<line x1="284.5" y1="635.25" x2="301.25" y2="635.25" stroke="#141414" stroke-width="3.5" stroke-linecap="butt" />
<text font-size="21.8" text-anchor="end" fill="#111" x="278" y="642.95" >0.75</text>
<line x1="284.5" y1="555.75" x2="301.25" y2="555.75" stroke="#141414" stroke-width="3.5" stroke-linecap="butt" />
<text font-size="21.8" text-anchor="end" fill="#111" x="278" y="563.45" >1.00</text>
<line x1="405" y1="880.5" x2="405" y2="898.5" stroke="#141414" stroke-width="3.5" stroke-linecap="butt" />
<text font-size="21.8" text-anchor="middle" fill="#111" x="405" y="921" >10</text>
<line x1="565" y1="880.5" x2="565" y2="898.5" stroke="#141414" stroke-width="3.5" stroke-linecap="butt" />
<text font-size="21.8" text-anchor="middle" fill="#111" x="565" y="921" >100</text>
<line x1="725" y1="880.5" x2="725" y2="898.5" stroke="#141414" stroke-width="3.5" stroke-linecap="butt" />
<text font-size="21.8" text-anchor="middle" fill="#111" x="728.5" y="925" >1000</text>
<line x1="321.34" y1="890" x2="321.34" y2="895.5" stroke="#141414" stroke-width="2.4" stroke-linecap="butt" />
<line x1="341.33" y1="890" x2="341.33" y2="895.5" stroke="#141414" stroke-width="2.4" stroke-linecap="butt" />
<line x1="356.84" y1="890" x2="356.84" y2="895.5" stroke="#141414" stroke-width="2.4" stroke-linecap="butt" />
<line x1="369.5" y1="890" x2="369.5" y2="895.5" stroke="#141414" stroke-width="2.4" stroke-linecap="butt" />
<line x1="380.22" y1="890" x2="380.22" y2="895.5" stroke="#141414" stroke-width="2.4" stroke-linecap="butt" />
<line x1="389.49" y1="890" x2="389.49" y2="895.5" stroke="#141414" stroke-width="2.4" stroke-linecap="butt" />
<line x1="397.68" y1="890" x2="397.68" y2="895.5" stroke="#141414" stroke-width="2.4" stroke-linecap="butt" />
<line x1="453.16" y1="890" x2="453.16" y2="895.5" stroke="#141414" stroke-width="2.4" stroke-linecap="butt" />
<line x1="481.34" y1="890" x2="481.34" y2="895.5" stroke="#141414" stroke-width="2.4" stroke-linecap="butt" />
<line x1="501.33" y1="890" x2="501.33" y2="895.5" stroke="#141414" stroke-width="2.4" stroke-linecap="butt" />
<line x1="516.84" y1="890" x2="516.84" y2="895.5" stroke="#141414" stroke-width="2.4" stroke-linecap="butt" />
<line x1="529.5" y1="890" x2="529.5" y2="895.5" stroke="#141414" stroke-width="2.4" stroke-linecap="butt" />
<line x1="540.22" y1="890" x2="540.22" y2="895.5" stroke="#141414" stroke-width="2.4" stroke-linecap="butt" />
<line x1="549.49" y1="890" x2="549.49" y2="895.5" stroke="#141414" stroke-width="2.4" stroke-linecap="butt" />
<line x1="557.68" y1="890" x2="557.68" y2="895.5" stroke="#141414" stroke-width="2.4" stroke-linecap="butt" />
<line x1="613.16" y1="890" x2="613.16" y2="895.5" stroke="#141414" stroke-width="2.4" stroke-linecap="butt" />
<line x1="641.34" y1="890" x2="641.34" y2="895.5" stroke="#141414" stroke-width="2.4" stroke-linecap="butt" />
<line x1="661.33" y1="890" x2="661.33" y2="895.5" stroke="#141414" stroke-width="2.4" stroke-linecap="butt" />
<line x1="676.84" y1="890" x2="676.84" y2="895.5" stroke="#141414" stroke-width="2.4" stroke-linecap="butt" />
<line x1="689.5" y1="890" x2="689.5" y2="895.5" stroke="#141414" stroke-width="2.4" stroke-linecap="butt" />
<line x1="700.22" y1="890" x2="700.22" y2="895.5" stroke="#141414" stroke-width="2.4" stroke-linecap="butt" />
<line x1="709.49" y1="890" x2="709.49" y2="895.5" stroke="#141414" stroke-width="2.4" stroke-linecap="butt" />
<line x1="717.68" y1="890" x2="717.68" y2="895.5" stroke="#141414" stroke-width="2.4" stroke-linecap="butt" />
<text font-size="22.8" text-anchor="middle" fill="#111" x="490.5" y="955" >time [s]</text>
<text font-size="22.8" text-anchor="middle" fill="#111" transform="translate(197.5 711) rotate(-90)" >Relative fluorescence</text>
<text font-size="22.8" text-anchor="middle" fill="#111" transform="translate(225.5 707) rotate(-90)" >change [au]</text>
<text font-size="22" text-anchor="start" fill="#111" font-weight="bold" x="313" y="548.75" >simulated rate</text>
<text font-size="22" text-anchor="start" fill="#111" font-weight="bold" x="313" y="574.5" >enhancement</text>
<line x1="325" y1="598.25" x2="353.5" y2="598.25" stroke="#151515" stroke-width="4.5" stroke-linecap="round" />
<text font-size="20.7" text-anchor="start" fill="#151515" font-weight="bold" x="360.5" y="603.75" >50x</text>
<line x1="325" y1="633" x2="353.5" y2="633" stroke="#3a4142" stroke-width="4.5" stroke-linecap="round" />
<text font-size="20.7" text-anchor="start" fill="#3a4142" font-weight="bold" x="360.5" y="638.5" >20x</text>
<line x1="325" y1="667.75" x2="353.5" y2="667.75" stroke="#6a7473" stroke-width="4.5" stroke-linecap="round" />
<text font-size="20.7" text-anchor="start" fill="#6a7473" font-weight="bold" x="360.5" y="673.25" >8x</text>
<line x1="325" y1="702.5" x2="353.5" y2="702.5" stroke="#87918f" stroke-width="4.5" stroke-linecap="round" />
<text font-size="20.7" text-anchor="start" fill="#87918f" font-weight="bold" x="360.5" y="708" >4x</text>
<line x1="325" y1="737.25" x2="353.5" y2="737.25" stroke="#a1aaa8" stroke-width="4.5" stroke-linecap="round" />
<text font-size="20.7" text-anchor="start" fill="#a1aaa8" font-weight="bold" x="360.5" y="742.75" >2x</text>
<line x1="325" y1="772" x2="353.5" y2="772" stroke="#ccd2cf" stroke-width="4.5" stroke-linecap="round" />
<text font-size="20.7" text-anchor="start" fill="#ccd2cf" font-weight="bold" x="360.5" y="777.5" >1x</text>
<text font-size="21.6" text-anchor="start" fill="#4bb9a9" font-weight="bold" x="448" y="604.5" >polymerization</text>
<text x="492" y="632.5" font-size="21.6" font-weight="bold" fill="#bf2a1d">P<tspan font-size="13" dy="6">i</tspan><tspan dy="-6"> release</tspan></text>
<text font-size="31" text-anchor="start" fill="#111" font-weight="bold" x="795.5" y="508" >d</text>
<rect x="937" y="586.5" width="434.5" height="12.5" fill="#f28b82" stroke="none" stroke-width="0" />
<line x1="937" y1="592.7" x2="1371.5" y2="592.7" stroke="#e5252b" stroke-width="4.2" stroke-linecap="butt" />
<rect x="937" y="629" width="434.5" height="39.5" fill="#7fe8bf" stroke="none" stroke-width="0" />
<line x1="937" y1="648.5" x2="1371.5" y2="648.5" stroke="#4fe0a6" stroke-width="3.2" stroke-linecap="butt" />
<line x1="936.5" y1="517.5" x2="936.5" y2="885" stroke="#141414" stroke-width="4" stroke-linecap="butt" />
<line x1="928" y1="883" x2="1371.5" y2="883" stroke="#141414" stroke-width="4" stroke-linecap="butt" />
<line x1="928" y1="883" x2="945" y2="883" stroke="#141414" stroke-width="3.5" stroke-linecap="butt" />
<text font-size="21.8" text-anchor="end" fill="#111" x="920" y="890.6" >0.0000</text>
<line x1="928" y1="807.1" x2="945" y2="807.1" stroke="#141414" stroke-width="3.5" stroke-linecap="butt" />
<text font-size="21.8" text-anchor="end" fill="#111" x="920" y="814.7" >0.0025</text>
<line x1="928" y1="731.2" x2="945" y2="731.2" stroke="#141414" stroke-width="3.5" stroke-linecap="butt" />
<text font-size="21.8" text-anchor="end" fill="#111" x="920" y="738.8" >0.0050</text>
<line x1="928" y1="655.3" x2="945" y2="655.3" stroke="#141414" stroke-width="3.5" stroke-linecap="butt" />
<text font-size="21.8" text-anchor="end" fill="#111" x="920" y="662.9" >0.0075</text>
<line x1="928" y1="579.4" x2="945" y2="579.4" stroke="#141414" stroke-width="3.5" stroke-linecap="butt" />
<text font-size="21.8" text-anchor="end" fill="#111" x="920" y="587" >0.0100</text>
<line x1="936.5" y1="874.5" x2="936.5" y2="891.5" stroke="#141414" stroke-width="3.5" stroke-linecap="butt" />
<text font-size="21.8" text-anchor="middle" fill="#111" x="936.5" y="917" >0</text>
<line x1="1015.4" y1="874.5" x2="1015.4" y2="891.5" stroke="#141414" stroke-width="3.5" stroke-linecap="butt" />
<text font-size="21.8" text-anchor="middle" fill="#111" x="1015.4" y="917" >10</text>
<line x1="1094.3" y1="874.5" x2="1094.3" y2="891.5" stroke="#141414" stroke-width="3.5" stroke-linecap="butt" />
<text font-size="21.8" text-anchor="middle" fill="#111" x="1094.3" y="917" >20</text>
<line x1="1173.2" y1="874.5" x2="1173.2" y2="891.5" stroke="#141414" stroke-width="3.5" stroke-linecap="butt" />
<text font-size="21.8" text-anchor="middle" fill="#111" x="1173.2" y="917" >30</text>
<line x1="1252.1" y1="874.5" x2="1252.1" y2="891.5" stroke="#141414" stroke-width="3.5" stroke-linecap="butt" />
<text font-size="21.8" text-anchor="middle" fill="#111" x="1252.1" y="917" >40</text>
<line x1="1331" y1="874.5" x2="1331" y2="891.5" stroke="#141414" stroke-width="3.5" stroke-linecap="butt" />
<text font-size="21.8" text-anchor="middle" fill="#111" x="1331" y="917" >50</text>
<circle cx="944.39" cy="802.55" r="8" fill="#c9cfcc" />
<circle cx="952.28" cy="756.1" r="8" fill="#a1aaa8" />
<circle cx="968.06" cy="715.41" r="8" fill="#87918f" />
<circle cx="999.62" cy="686.57" r="8" fill="#5f6968" />
<circle cx="1094.3" cy="665.02" r="8" fill="#333738" />
<circle cx="1331" cy="655.6" r="8" fill="#151515" />
<text font-size="22.8" text-anchor="middle" fill="#111" x="1152.5" y="957" >simulated rate enhancement</text>
<text font-size="22.8" text-anchor="middle" fill="#111" x="1152.5" y="985" >[x-fold]</text>
<text x="1379" y="599" font-size="21.6" font-weight="bold" fill="#bf2a1d">P<tspan font-size="13" dy="6">i</tspan><tspan dy="-6"> release</tspan></text>
<text font-size="21.6" text-anchor="start" fill="#4bb9a9" font-weight="bold" x="1379" y="655.5" >polymerization</text>
<text transform="rotate(-90 836.8 723)" x="836.8" y="723" font-size="22.8" text-anchor="middle" fill="#111">k<tspan font-size="13" dy="6">obs</tspan><tspan dy="-6"> P</tspan><tspan font-size="13" dy="6">i</tspan><tspan dy="-6"> release [s</tspan><tspan font-size="13" dy="-8">-1</tspan><tspan dy="8">]</tspan></text>
<text font-size="31" text-anchor="start" fill="#111" font-weight="bold" x="154.5" y="1003.5" >e</text>
<text font-size="21.5" text-anchor="middle" fill="#111" x="542.5" y="1036.5" >Fit parameter prediction error</text>
<rect x="529.07" y="1313.4" width="189.72" height="66.1" fill="#d2d4d5" stroke="none" stroke-width="0" />
<line x1="529.07" y1="1048" x2="529.07" y2="1379.5" stroke="#c4c6c7" stroke-width="1.1" stroke-linecap="butt" />
<line x1="718.79" y1="1048" x2="718.79" y2="1379.5" stroke="#c4c6c7" stroke-width="1.1" stroke-linecap="butt" />
<line x1="260" y1="1313.4" x2="813" y2="1313.4" stroke="#c4c6c7" stroke-width="1.1" stroke-linecap="butt" />
<path d="M291.92 1148.15 L307.73 1171.29 L323.54 1140.88 L339.35 1115.1 L355.16 1170.62 L370.97 1216.89 L386.78 1231.44 L402.59 1247.96 L418.4 1265.81 L434.21 1278.37 L450.02 1289.6 L465.83 1296.21 L481.64 1305.47 L497.45 1308.11 L513.26 1309.43 L529.07 1314.06 L544.88 1318.03 L560.69 1322.65 L576.5 1325.96 L592.31 1332.57 L608.12 1329.92 L623.93 1335.21 L639.74 1333.89 L655.55 1332.57 L671.36 1340.5 L687.17 1331.91 L702.98 1321.99 L718.79 1320.01 L734.6 1310.1 L750.41 1290.93 L766.22 1275.72 L782.03 1247.3 L797.84 1123.03" stroke="#111" stroke-width="1.4" fill="none" />
<circle cx="291.92" cy="1148.15" r="6" fill="#111" />
<circle cx="307.73" cy="1171.29" r="6" fill="#111" />
<circle cx="323.54" cy="1140.88" r="6" fill="#111" />
<circle cx="339.35" cy="1115.1" r="6" fill="#111" />
<circle cx="355.16" cy="1170.62" r="6" fill="#111" />
<circle cx="370.97" cy="1216.89" r="6" fill="#111" />
<circle cx="386.78" cy="1231.44" r="6" fill="#111" />
<circle cx="402.59" cy="1247.96" r="6" fill="#111" />
<circle cx="418.4" cy="1265.81" r="6" fill="#111" />
<circle cx="434.21" cy="1278.37" r="6" fill="#111" />
<circle cx="450.02" cy="1289.6" r="6" fill="#111" />
<circle cx="465.83" cy="1296.21" r="6" fill="#111" />
<circle cx="481.64" cy="1305.47" r="6" fill="#111" />
<circle cx="497.45" cy="1308.11" r="6" fill="#111" />
<circle cx="513.26" cy="1309.43" r="6" fill="#111" />
<circle cx="529.07" cy="1314.06" r="6" fill="#111" />
<circle cx="544.88" cy="1318.03" r="6" fill="#111" />
<circle cx="560.69" cy="1322.65" r="6" fill="#111" />
<circle cx="576.5" cy="1325.96" r="6" fill="#111" />
<circle cx="592.31" cy="1332.57" r="6" fill="#111" />
<circle cx="608.12" cy="1329.92" r="6" fill="#111" />
<circle cx="623.93" cy="1335.21" r="6" fill="#111" />
<circle cx="639.74" cy="1333.89" r="6" fill="#111" />
<circle cx="655.55" cy="1332.57" r="6" fill="#111" />
<circle cx="671.36" cy="1340.5" r="6" fill="#111" />
<circle cx="687.17" cy="1331.91" r="6" fill="#111" />
<circle cx="702.98" cy="1321.99" r="6" fill="#111" />
<circle cx="718.79" cy="1320.01" r="6" fill="#111" />
<circle cx="734.6" cy="1310.1" r="6" fill="#111" />
<circle cx="750.41" cy="1290.93" r="6" fill="#111" />
<circle cx="766.22" cy="1275.72" r="6" fill="#111" />
<circle cx="782.03" cy="1247.3" r="6" fill="#111" />
<circle cx="797.84" cy="1123.03" r="6" fill="#111" />
<rect x="260.75" y="1049" width="552.25" height="330.5" fill="none" stroke="#141414" stroke-width="3" />
<line x1="246.25" y1="1379.5" x2="260.75" y2="1379.5" stroke="#141414" stroke-width="2.6" stroke-linecap="butt" />
<text font-size="19.6" text-anchor="end" fill="#111" x="243" y="1386.1" >0</text>
<line x1="246.25" y1="1313.4" x2="260.75" y2="1313.4" stroke="#141414" stroke-width="2.6" stroke-linecap="butt" />
<text font-size="19.6" text-anchor="end" fill="#111" x="243" y="1320" >10</text>
<line x1="246.25" y1="1247.3" x2="260.75" y2="1247.3" stroke="#141414" stroke-width="2.6" stroke-linecap="butt" />
<text font-size="19.6" text-anchor="end" fill="#111" x="243" y="1253.9" >20</text>
<line x1="246.25" y1="1181.2" x2="260.75" y2="1181.2" stroke="#141414" stroke-width="2.6" stroke-linecap="butt" />
<text font-size="19.6" text-anchor="end" fill="#111" x="243" y="1187.8" >30</text>
<line x1="246.25" y1="1115.1" x2="260.75" y2="1115.1" stroke="#141414" stroke-width="2.6" stroke-linecap="butt" />
<text font-size="19.6" text-anchor="end" fill="#111" x="243" y="1121.7" >40</text>
<line x1="246.25" y1="1049" x2="260.75" y2="1049" stroke="#141414" stroke-width="2.6" stroke-linecap="butt" />
<text font-size="19.6" text-anchor="end" fill="#111" x="243" y="1055.6" >50</text>
<line x1="260.3" y1="1379.5" x2="260.3" y2="1395" stroke="#141414" stroke-width="2.6" stroke-linecap="butt" />
<text font-size="19.6" text-anchor="middle" fill="#111" x="260.3" y="1411.75" >0</text>
<line x1="339.35" y1="1379.5" x2="339.35" y2="1395" stroke="#141414" stroke-width="2.6" stroke-linecap="butt" />
<text font-size="19.6" text-anchor="middle" fill="#111" x="339.35" y="1411.75" >5</text>
<line x1="418.4" y1="1379.5" x2="418.4" y2="1395" stroke="#141414" stroke-width="2.6" stroke-linecap="butt" />
<text font-size="19.6" text-anchor="middle" fill="#111" x="418.4" y="1411.75" >10</text>
<line x1="497.45" y1="1379.5" x2="497.45" y2="1395" stroke="#141414" stroke-width="2.6" stroke-linecap="butt" />
<text font-size="19.6" text-anchor="middle" fill="#111" x="497.45" y="1411.75" >15</text>
<line x1="576.5" y1="1379.5" x2="576.5" y2="1395" stroke="#141414" stroke-width="2.6" stroke-linecap="butt" />
<text font-size="19.6" text-anchor="middle" fill="#111" x="576.5" y="1411.75" >20</text>
<line x1="655.55" y1="1379.5" x2="655.55" y2="1395" stroke="#141414" stroke-width="2.6" stroke-linecap="butt" />
<text font-size="19.6" text-anchor="middle" fill="#111" x="655.55" y="1411.75" >25</text>
<line x1="734.6" y1="1379.5" x2="734.6" y2="1395" stroke="#141414" stroke-width="2.6" stroke-linecap="butt" />
<text font-size="19.6" text-anchor="middle" fill="#111" x="734.6" y="1411.75" >30</text>
<line x1="813.65" y1="1379.5" x2="813.65" y2="1395" stroke="#141414" stroke-width="2.6" stroke-linecap="butt" />
<text font-size="19.6" text-anchor="middle" fill="#111" x="813.65" y="1411.75" >35</text>
<text font-size="22" text-anchor="middle" fill="#111" x="523" y="1438" >Window symmetric unit size</text>
<text font-size="21.7" text-anchor="middle" fill="#111" transform="translate(180 1218) rotate(-90)" >Average percentage</text>
<text font-size="21.7" text-anchor="middle" fill="#111" transform="translate(203.5 1220) rotate(-90)" >standard deviation error [%]</text>
<text font-size="31" text-anchor="start" fill="#111" font-weight="bold" x="862" y="1003.5" >g</text>
<path d="M984 1409.3 H1110 V1395.58 H1128.75 V1381.86 H1129.5 V1368.14 H1130.75 V1354.42 H1132 V1340.7 H1133 V1326.98 H1140 V1313.26 H1140.5 V1299.54 H1141.25 V1285.82 H1157 V1272.1 H1158.75 V1258.38 H1166.25 V1244.66 H1166.25 V1230.94 H1179.25 V1217.22 H1187 V1203.5 H1198.75 V1189.78 H1210 V1176.06 H1223 V1162.34 H1229.5 V1148.62 H1236.25 V1134.9 H1237.5 V1121.18 H1257.5 V1107.46 H1281.25 V1093.74 H1374 V1080.02 H1466 V1066.3 H1518" stroke="#2c46d6" stroke-width="2.8" fill="none" stroke-linejoin="miter"/>
<path d="M1005.5 1409.3 L1007.14 1409.28 L1008.78 1409.21 L1010.43 1409.09 L1012.07 1408.93 L1013.71 1408.73 L1015.35 1408.47 L1017 1408.17 L1018.64 1407.83 L1020.28 1407.44 L1021.92 1407.01 L1023.57 1406.53 L1025.21 1406 L1026.85 1405.43 L1028.49 1404.82 L1030.14 1404.16 L1031.78 1403.46 L1033.42 1402.72 L1035.06 1401.93 L1036.71 1401.09 L1038.35 1400.22 L1039.99 1399.3 L1041.63 1398.34 L1043.28 1397.34 L1044.92 1396.3 L1046.56 1395.22 L1048.2 1394.1 L1049.85 1392.93 L1051.49 1391.73 L1053.13 1390.49 L1054.77 1389.21 L1056.42 1387.89 L1058.06 1386.53 L1059.7 1385.14 L1061.34 1383.71 L1062.99 1382.24 L1064.63 1380.74 L1066.27 1379.21 L1067.91 1377.64 L1069.56 1376.03 L1071.2 1374.4 L1072.84 1372.73 L1074.48 1371.03 L1076.13 1369.29 L1077.77 1367.53 L1079.41 1365.74 L1081.05 1363.92 L1082.7 1362.07 L1084.34 1360.19 L1085.98 1358.28 L1087.62 1356.35 L1089.27 1354.39 L1090.91 1352.41 L1092.55 1350.4 L1094.19 1348.37 L1095.84 1346.31 L1097.48 1344.24 L1099.12 1342.14 L1100.76 1340.02 L1102.41 1337.88 L1104.05 1335.72 L1105.69 1333.54 L1107.33 1331.35 L1108.98 1329.13 L1110.62 1326.91 L1112.26 1324.66 L1113.9 1322.4 L1115.55 1320.13 L1117.19 1317.84 L1118.83 1315.54 L1120.47 1313.22 L1122.12 1310.9 L1123.76 1308.57 L1125.4 1306.22 L1127.04 1303.87 L1128.69 1301.5 L1130.33 1299.13 L1131.97 1296.76 L1133.61 1294.37 L1135.26 1291.98 L1136.9 1289.59 L1138.54 1287.19 L1140.18 1284.79 L1141.83 1282.39 L1143.47 1279.98 L1145.11 1277.57 L1146.75 1275.16 L1148.4 1272.75 L1150.04 1270.34 L1151.68 1267.93 L1153.32 1265.53 L1154.97 1263.12 L1156.61 1260.72 L1158.25 1258.33 L1159.89 1255.93 L1161.54 1253.54 L1163.18 1251.16 L1164.82 1248.78 L1166.46 1246.41 L1168.11 1244.05 L1169.75 1241.69 L1171.39 1239.34 L1173.03 1237 L1174.67 1234.67 L1176.32 1232.35 L1177.96 1230.04 L1179.6 1227.74 L1181.24 1225.45 L1182.89 1223.17 L1184.53 1220.9 L1186.17 1218.65 L1187.81 1216.41 L1189.46 1214.18 L1191.1 1211.96 L1192.74 1209.76 L1194.38 1207.58 L1196.03 1205.4 L1197.67 1203.25 L1199.31 1201.1 L1200.95 1198.98 L1202.6 1196.87 L1204.24 1194.78 L1205.88 1192.7 L1207.52 1190.64 L1209.17 1188.6 L1210.81 1186.57 L1212.45 1184.56 L1214.09 1182.57 L1215.74 1180.6 L1217.38 1178.65 L1219.02 1176.71 L1220.66 1174.8 L1222.31 1172.9 L1223.95 1171.02 L1225.59 1169.16 L1227.23 1167.32 L1228.88 1165.5 L1230.52 1163.7 L1232.16 1161.92 L1233.8 1160.16 L1235.45 1158.42 L1237.09 1156.7 L1238.73 1155 L1240.37 1153.32 L1242.02 1151.67 L1243.66 1150.03 L1245.3 1148.41 L1246.94 1146.81 L1248.59 1145.23 L1250.23 1143.68 L1251.87 1142.14 L1253.51 1140.62 L1255.16 1139.13 L1256.8 1137.65 L1258.44 1136.2 L1260.08 1134.77 L1261.73 1133.35 L1263.37 1131.96 L1265.01 1130.59 L1266.65 1129.23 L1268.3 1127.9 L1269.94 1126.59 L1271.58 1125.3 L1273.22 1124.03 L1274.87 1122.77 L1276.51 1121.54 L1278.15 1120.33 L1279.79 1119.14 L1281.44 1117.96 L1283.08 1116.81 L1284.72 1115.67 L1286.36 1114.55 L1288.01 1113.46 L1289.65 1112.38 L1291.29 1111.32 L1292.93 1110.28 L1294.58 1109.25 L1296.22 1108.25 L1297.86 1107.26 L1299.5 1106.29 L1301.15 1105.34 L1302.79 1104.41 L1304.43 1103.49 L1306.07 1102.59 L1307.72 1101.71 L1309.36 1100.84 L1311 1099.99 L1312.64 1099.16 L1314.29 1098.35 L1315.93 1097.55 L1317.57 1096.76 L1319.21 1095.99 L1320.86 1095.24 L1322.5 1094.5 L1324.14 1093.78 L1325.78 1093.07 L1327.43 1092.38 L1329.07 1091.7 L1330.71 1091.04 L1332.35 1090.39 L1333.99 1089.75 L1335.64 1089.13 L1337.28 1088.52 L1338.92 1087.92 L1340.56 1087.34 L1342.21 1086.77 L1343.85 1086.22 L1345.49 1085.67 L1347.13 1085.14 L1348.78 1084.62 L1350.42 1084.11 L1352.06 1083.62 L1353.7 1083.13 L1355.35 1082.66 L1356.99 1082.2 L1358.63 1081.75 L1360.27 1081.31 L1361.92 1080.88 L1363.56 1080.46 L1365.2 1080.05 L1366.84 1079.65 L1368.49 1079.26 L1370.13 1078.88 L1371.77 1078.51 L1373.41 1078.15 L1375.06 1077.8 L1376.7 1077.46 L1378.34 1077.12 L1379.98 1076.8 L1381.63 1076.48 L1383.27 1076.17 L1384.91 1075.87 L1386.55 1075.58 L1388.2 1075.29 L1389.84 1075.02 L1391.48 1074.75 L1393.12 1074.48 L1394.77 1074.23 L1396.41 1073.98 L1398.05 1073.74 L1399.69 1073.5 L1401.34 1073.27 L1402.98 1073.05 L1404.62 1072.84 L1406.26 1072.63 L1407.91 1072.42 L1409.55 1072.22 L1411.19 1072.03 L1412.83 1071.84 L1414.48 1071.66 L1416.12 1071.48 L1417.76 1071.31 L1419.4 1071.15 L1421.05 1070.99 L1422.69 1070.83 L1424.33 1070.68 L1425.97 1070.53 L1427.62 1070.39 L1429.26 1070.25 L1430.9 1070.11 L1432.54 1069.98 L1434.19 1069.86 L1435.83 1069.73 L1437.47 1069.62 L1439.11 1069.5 L1440.76 1069.39 L1442.4 1069.28 L1444.04 1069.18 L1445.68 1069.07 L1447.33 1068.98 L1448.97 1068.88 L1450.61 1068.79 L1452.25 1068.7 L1453.9 1068.61 L1455.54 1068.53 L1457.18 1068.45 L1458.82 1068.37 L1460.47 1068.3 L1462.11 1068.22 L1463.75 1068.15 L1465.39 1068.08 L1467.04 1068.02 L1468.68 1067.96 L1470.32 1067.89 L1471.96 1067.83 L1473.61 1067.78 L1475.25 1067.72 L1476.89 1067.67 L1478.53 1067.62 L1480.18 1067.57 L1481.82 1067.52 L1483.46 1067.47 L1485.1 1067.43 L1486.75 1067.38 L1488.39 1067.34 L1490.03 1067.3 L1491.67 1067.26 L1493.32 1067.22 L1494.96 1067.19 L1496.6 1067.15" stroke="#111" stroke-width="3.7" fill="none" stroke-linecap="round"/>
<rect x="982.5" y="1050.5" width="537.5" height="374.9" fill="none" stroke="#141414" stroke-width="4.5" />
<line x1="968" y1="1409.3" x2="982" y2="1409.3" stroke="#141414" stroke-width="3" stroke-linecap="butt" />
<text font-size="18.6" text-anchor="end" fill="#111" x="965" y="1415.9" >0.00</text>
<line x1="968" y1="1323.55" x2="982" y2="1323.55" stroke="#141414" stroke-width="3" stroke-linecap="butt" />
<text font-size="18.6" text-anchor="end" fill="#111" x="965" y="1330.15" >0.25</text>
<line x1="968" y1="1237.8" x2="982" y2="1237.8" stroke="#141414" stroke-width="3" stroke-linecap="butt" />
<text font-size="18.6" text-anchor="end" fill="#111" x="965" y="1244.4" >0.50</text>
<line x1="968" y1="1152.05" x2="982" y2="1152.05" stroke="#141414" stroke-width="3" stroke-linecap="butt" />
<text font-size="18.6" text-anchor="end" fill="#111" x="965" y="1158.65" >0.75</text>
<line x1="968" y1="1066.3" x2="982" y2="1066.3" stroke="#141414" stroke-width="3" stroke-linecap="butt" />
<text font-size="18.6" text-anchor="end" fill="#111" x="965" y="1072.9" >1.00</text>
<line x1="1005.5" y1="1426" x2="1005.5" y2="1441" stroke="#141414" stroke-width="3.2" stroke-linecap="butt" />
<text font-size="18.7" text-anchor="middle" fill="#111" x="1005.5" y="1458" >0</text>
<line x1="1169.2" y1="1426" x2="1169.2" y2="1441" stroke="#141414" stroke-width="3.2" stroke-linecap="butt" />
<text font-size="18.7" text-anchor="middle" fill="#111" x="1169.2" y="1458" >500</text>
<line x1="1332.9" y1="1426" x2="1332.9" y2="1441" stroke="#141414" stroke-width="3.2" stroke-linecap="butt" />
<text font-size="18.7" text-anchor="middle" fill="#111" x="1332.9" y="1458" >1000</text>
<line x1="1496.6" y1="1426" x2="1496.6" y2="1441" stroke="#141414" stroke-width="3.2" stroke-linecap="butt" />
<text font-size="18.7" text-anchor="middle" fill="#111" x="1496.6" y="1458" >1500</text>
<text font-size="22" text-anchor="middle" fill="#111" x="1251" y="1486.7" >time since depolymerization start [s]</text>
<text font-size="22.5" text-anchor="middle" fill="#111" transform="translate(916.5 1231) rotate(-90)" >Cumulative Distribution Probability</text>
<text x="1346" y="1333" font-size="23" fill="#111" font-family="Liberation Serif, Times New Roman, serif" font-style="italic" font-weight="bold">P(t) <tspan font-family="Liberation Serif, Times New Roman, serif" font-weight="bold" font-style="normal">= 1 - </tspan>e<tspan font-size="14" dy="-9" dx="2" font-family="Liberation Serif, Times New Roman, serif" font-weight="bold" font-style="normal">-</tspan></text>
<text x="1457.5" y="1314" font-size="13" fill="#111" text-anchor="middle" font-family="Liberation Serif, Times New Roman, serif" font-weight="bold">1</text>
<line x1="1451.5" y1="1317.5" x2="1463.5" y2="1317.5" stroke="#111" stroke-width="1.2" stroke-linecap="butt" />
<text x="1457.5" y="1330" font-size="13" fill="#111" text-anchor="middle" font-family="Liberation Serif, Times New Roman, serif" font-weight="bold">2</text>
<text x="1465" y="1324" font-size="15" fill="#111" font-family="Liberation Serif, Times New Roman, serif" font-style="italic" font-weight="bold">αωt<tspan font-size="13" dy="-3" font-style="normal">2</tspan></text>
<text x="1344" y="1373.7" font-size="23" fill="#111" font-family="Liberation Serif, Times New Roman, serif" font-style="italic" font-weight="bold">α <tspan font-family="Liberation Serif, Times New Roman, serif" font-weight="bold" font-style="normal">= </tspan>v<tspan font-size="14" dy="5">dep</tspan></text>
<text x="1416" y="1378" font-size="42" fill="#111" font-family="Liberation Serif, Times New Roman, serif" transform="translate(1416 0) scale(0.62 1) translate(-1416 0)">(</text>
<text x="1426" y="1373.7" font-size="23" fill="#111" font-family="Liberation Serif, Times New Roman, serif" font-weight="bold">1 +</text>
<text x="1480" y="1358" font-size="15" fill="#111" text-anchor="middle" font-family="Liberation Serif, Times New Roman, serif" font-style="italic" font-weight="bold">v<tspan font-size="12.5" dy="3">dep</tspan></text>
<line x1="1462" y1="1365.5" x2="1499" y2="1365.5" stroke="#111" stroke-width="1.3" stroke-linecap="butt" />
<text x="1480" y="1379" font-size="15" fill="#111" text-anchor="middle" font-family="Liberation Serif, Times New Roman, serif" font-style="italic" font-weight="bold">v<tspan font-size="12.5" dy="3">pol</tspan></text>
<text x="1500" y="1378" font-size="42" fill="#111" font-family="Liberation Serif, Times New Roman, serif" transform="translate(1500 0) scale(0.62 1) translate(-1500 0)">)</text>
<text x="1344" y="1413.7" font-size="23" fill="#d4181c" stroke="#d4181c" stroke-width="0.45" font-family="Liberation Serif, Times New Roman, serif" font-style="italic">ω <tspan font-style="normal">= 5.8 × 10</tspan><tspan font-size="14" dy="-9">-7</tspan><tspan dy="9"> s</tspan><tspan font-size="14" dy="-9">-1</tspan></text>
<text font-size="31" text-anchor="start" fill="#111" font-weight="bold" x="150" y="1479" >f</text>
<rect x="300.6" y="1506.8" width="485.5" height="193" fill="#fff" stroke="none" stroke-width="0" />
<path d="M321.28 1532.88 L325.01 1535.08 L328.74 1537.24 L332.47 1539.34 L336.2 1541.4 L339.93 1543.41 L343.66 1545.37 L347.4 1547.29 L351.13 1549.17 L354.86 1551 L358.59 1552.79 L362.32 1554.54 L366.05 1556.25 L369.78 1557.92 L373.52 1559.56 L377.25 1561.16 L380.98 1562.72 L384.71 1564.24 L388.44 1565.73 L392.17 1567.19 L395.91 1568.61 L399.64 1570.01 L403.37 1571.37 L407.1 1572.7 L410.83 1573.99 L414.56 1575.26 L418.29 1576.5 L422.03 1577.72 L425.76 1578.9 L429.49 1580.06 L433.22 1581.19 L436.95 1582.3 L440.68 1583.38 L444.42 1584.43 L448.15 1585.47 L451.88 1586.48 L455.61 1587.46 L459.34 1588.43 L463.07 1589.37 L466.8 1590.29 L470.54 1591.19 L474.27 1592.07 L478 1592.92 L481.73 1593.76 L485.46 1594.58 L489.19 1595.39 L492.92 1596.17 L496.66 1596.94 L500.39 1597.68 L504.12 1598.42 L507.85 1599.13 L511.58 1599.83 L515.31 1600.51 L519.05 1601.18 L522.78 1601.83 L526.51 1602.47 L530.24 1603.09 L533.97 1603.7 L537.7 1604.29 L541.43 1604.88 L545.17 1605.44 L548.9 1606 L552.63 1606.54 L556.36 1607.07 L560.09 1607.59 L563.82 1608.1 L567.55 1608.59 L571.29 1609.08 L575.02 1609.55 L578.75 1610.01 L582.48 1610.46 L586.21 1610.9 L589.94 1611.33 L593.68 1611.76 L597.41 1612.17 L601.14 1612.57 L604.87 1612.96 L608.6 1613.35 L612.33 1613.72 L616.06 1614.09 L619.8 1614.45 L623.53 1614.8 L627.26 1615.14 L630.99 1615.48 L634.72 1615.8 L638.45 1616.12 L642.19 1616.44 L645.92 1616.74 L649.65 1617.04 L653.38 1617.33 L657.11 1617.62 L660.84 1617.9 L664.57 1618.17 L668.31 1618.44 L672.04 1618.7 L675.77 1618.95 L679.5 1619.2 L683.23 1619.44 L686.96 1619.68 L690.69 1619.91 L694.43 1620.14 L698.16 1620.36 L701.89 1620.57 L705.62 1620.79 L709.35 1620.99 L713.08 1621.2 L716.82 1621.39 L720.55 1621.59 L724.28 1621.77 L728.01 1621.96 L731.74 1622.14 L735.47 1622.31 L739.2 1622.49 L742.94 1622.65 L746.67 1622.82 L750.4 1622.98 L754.13 1623.14 L757.86 1623.29 L761.59 1623.44 L765.33 1623.59" stroke="#b1b8b5" stroke-width="3.8" fill="none" stroke-dasharray="8.5 5"/>
<circle cx="328.25" cy="1562" r="4.6" fill="#111" />
<circle cx="337.5" cy="1549.5" r="4.6" fill="#111" />
<circle cx="345" cy="1547.5" r="4.6" fill="#111" />
<circle cx="353.75" cy="1552" r="4.6" fill="#111" />
<circle cx="361.25" cy="1555.5" r="4.6" fill="#111" />
<circle cx="368.25" cy="1558" r="4.6" fill="#111" />
<circle cx="375.5" cy="1559.25" r="4.6" fill="#111" />
<circle cx="385.75" cy="1555.75" r="4.6" fill="#111" />
<circle cx="391.25" cy="1557.5" r="4.6" fill="#111" />
<circle cx="400" cy="1559.5" r="4.6" fill="#111" />
<circle cx="406.25" cy="1559.25" r="4.6" fill="#111" />
<circle cx="415" cy="1563.75" r="4.6" fill="#111" />
<circle cx="422.5" cy="1569.5" r="4.6" fill="#111" />
<circle cx="428.75" cy="1571.75" r="4.6" fill="#111" />
<circle cx="434.5" cy="1570.75" r="4.6" fill="#111" />
<circle cx="445.5" cy="1573" r="4.6" fill="#111" />
<circle cx="452.5" cy="1577.5" r="4.6" fill="#111" />
<circle cx="462" cy="1580" r="4.6" fill="#111" />
<circle cx="470" cy="1583.25" r="4.6" fill="#111" />
<circle cx="478" cy="1585.75" r="4.6" fill="#111" />
<circle cx="485" cy="1593" r="4.6" fill="#111" />
<circle cx="492" cy="1599.25" r="4.6" fill="#111" />
<circle cx="503.97" cy="1604.09" r="4.6" fill="#111" />
<circle cx="511.9" cy="1606.07" r="4.6" fill="#111" />
<circle cx="516.87" cy="1611.03" r="4.6" fill="#111" />
<circle cx="525.79" cy="1613.02" r="4.6" fill="#111" />
<circle cx="535.32" cy="1615" r="4.6" fill="#111" />
<circle cx="540.67" cy="1619.96" r="4.6" fill="#111" />
<circle cx="548.61" cy="1618.97" r="4.6" fill="#111" />
<circle cx="558.93" cy="1617.38" r="4.6" fill="#111" />
<circle cx="567.46" cy="1619.37" r="4.6" fill="#111" />
<circle cx="574.4" cy="1619.37" r="4.6" fill="#111" />
<circle cx="581.75" cy="1620.16" r="4.6" fill="#111" />
<circle cx="590.28" cy="1620.36" r="4.6" fill="#111" />
<circle cx="604.17" cy="1622.54" r="4.6" fill="#111" />
<circle cx="612.7" cy="1621.35" r="4.6" fill="#111" />
<circle cx="617.46" cy="1619.37" r="4.6" fill="#111" />
<circle cx="625.99" cy="1619.96" r="4.6" fill="#111" />
<circle cx="633.93" cy="1621.94" r="4.6" fill="#111" />
<circle cx="641.27" cy="1622.94" r="4.6" fill="#111" />
<circle cx="650.79" cy="1622.54" r="4.6" fill="#111" />
<circle cx="661.71" cy="1621.35" r="4.6" fill="#111" />
<circle cx="665.67" cy="1619.96" r="4.6" fill="#111" />
<circle cx="674.6" cy="1618.57" r="4.6" fill="#111" />
<circle cx="684.13" cy="1619.37" r="4.6" fill="#111" />
<circle cx="691.47" cy="1617.58" r="4.6" fill="#111" />
<circle cx="699.4" cy="1615" r="4.6" fill="#111" />
<circle cx="707.94" cy="1611.63" r="4.6" fill="#111" />
<circle cx="718.85" cy="1607.46" r="4.6" fill="#111" />
<circle cx="723.21" cy="1611.43" r="4.6" fill="#111" />
<circle cx="731.15" cy="1611.43" r="4.6" fill="#111" />
<circle cx="740.67" cy="1609.84" r="4.6" fill="#111" />
<circle cx="750.6" cy="1609.25" r="4.6" fill="#111" />
<rect x="300.6" y="1506.8" width="485.5" height="193" fill="none" stroke="#141414" stroke-width="3.1" />
<line x1="286" y1="1691.25" x2="300.6" y2="1691.25" stroke="#141414" stroke-width="3.4" stroke-linecap="butt" />
<text font-size="19" text-anchor="end" fill="#111" x="283.7" y="1697.75" >0.10</text>
<line x1="286" y1="1632.25" x2="300.6" y2="1632.25" stroke="#141414" stroke-width="3.4" stroke-linecap="butt" />
<text font-size="19" text-anchor="end" fill="#111" x="283.7" y="1638.75" >0.15</text>
<line x1="286" y1="1573.25" x2="300.6" y2="1573.25" stroke="#141414" stroke-width="3.4" stroke-linecap="butt" />
<text font-size="19" text-anchor="end" fill="#111" x="283.7" y="1579.75" >0.20</text>
<line x1="286" y1="1514.25" x2="300.6" y2="1514.25" stroke="#141414" stroke-width="3.4" stroke-linecap="butt" />
<text font-size="19" text-anchor="end" fill="#111" x="283.7" y="1520.75" >0.25</text>
<line x1="333.25" y1="1699.8" x2="333.25" y2="1713.8" stroke="#141414" stroke-width="3" stroke-linecap="butt" />
<text font-size="17.7" text-anchor="middle" fill="#111" x="333.25" y="1732.1" >100</text>
<line x1="456.7" y1="1699.8" x2="456.7" y2="1713.8" stroke="#141414" stroke-width="3" stroke-linecap="butt" />
<text font-size="17.7" text-anchor="middle" fill="#111" x="456.7" y="1732.1" >200</text>
<line x1="580.15" y1="1699.8" x2="580.15" y2="1713.8" stroke="#141414" stroke-width="3" stroke-linecap="butt" />
<text font-size="17.7" text-anchor="middle" fill="#111" x="580.15" y="1732.1" >300</text>
<line x1="703.6" y1="1699.8" x2="703.6" y2="1713.8" stroke="#141414" stroke-width="3" stroke-linecap="butt" />
<text font-size="17.7" text-anchor="middle" fill="#111" x="703.6" y="1732.1" >400</text>
<text font-size="19.3" text-anchor="end" fill="#111" x="782.7" y="1524.4" >Window Symmetric Unit Size = 14</text>
<text font-size="19.4" text-anchor="end" fill="#111" x="761" y="1545.8" >a = 0.1633</text>
<text font-size="19.4" text-anchor="end" fill="#111" x="761" y="1567.5" >b = 0.0076</text>
<text font-size="19.4" text-anchor="end" fill="#111" x="761" y="1589.2" >c = 0.1520</text>
<text x="307.5" y="1687.5" font-size="25" fill="#111" font-family="Liberation Serif, Times New Roman, serif" font-style="italic">y=ae<tspan font-size="15.5" dy="-10">-bx</tspan><tspan dy="10">+c</tspan></text>
<rect x="300.6" y="1741" width="485.5" height="193.5" fill="#e6e9ea" stroke="none" stroke-width="0" />
<path d="M321.28 1756.73 L325.01 1759.53 L328.74 1762.25 L332.47 1764.91 L336.2 1767.49 L339.93 1770.01 L343.66 1772.46 L347.4 1774.84 L351.13 1777.17 L354.86 1779.43 L358.59 1781.63 L362.32 1783.78 L366.05 1785.86 L369.78 1787.9 L373.52 1789.88 L377.25 1791.81 L380.98 1793.68 L384.71 1795.51 L388.44 1797.29 L392.17 1799.03 L395.91 1800.71 L399.64 1802.36 L403.37 1803.96 L407.1 1805.52 L410.83 1807.04 L414.56 1808.51 L418.29 1809.95 L422.03 1811.35 L425.76 1812.72 L429.49 1814.05 L433.22 1815.34 L436.95 1816.6 L440.68 1817.83 L444.42 1819.02 L448.15 1820.19 L451.88 1821.32 L455.61 1822.42 L459.34 1823.5 L463.07 1824.54 L466.8 1825.56 L470.54 1826.55 L474.27 1827.52 L478 1828.46 L481.73 1829.37 L485.46 1830.27 L489.19 1831.13 L492.92 1831.98 L496.66 1832.8 L500.39 1833.6 L504.12 1834.39 L507.85 1835.15 L511.58 1835.89 L515.31 1836.61 L519.05 1837.31 L522.78 1837.99 L526.51 1838.66 L530.24 1839.3 L533.97 1839.94 L537.7 1840.55 L541.43 1841.15 L545.17 1841.73 L548.9 1842.3 L552.63 1842.85 L556.36 1843.39 L560.09 1843.91 L563.82 1844.42 L567.55 1844.92 L571.29 1845.4 L575.02 1845.87 L578.75 1846.33 L582.48 1846.78 L586.21 1847.21 L589.94 1847.64 L593.68 1848.05 L597.41 1848.45 L601.14 1848.84 L604.87 1849.22 L608.6 1849.59 L612.33 1849.95 L616.06 1850.3 L619.8 1850.65 L623.53 1850.98 L627.26 1851.3 L630.99 1851.62 L634.72 1851.93 L638.45 1852.23 L642.19 1852.52 L645.92 1852.8 L649.65 1853.08 L653.38 1853.35 L657.11 1853.61 L660.84 1853.87 L664.57 1854.12 L668.31 1854.36 L672.04 1854.59 L675.77 1854.82 L679.5 1855.05 L683.23 1855.26 L686.96 1855.48 L690.69 1855.68 L694.43 1855.88 L698.16 1856.08 L701.89 1856.27 L705.62 1856.46 L709.35 1856.64 L713.08 1856.81 L716.82 1856.98 L720.55 1857.15 L724.28 1857.31 L728.01 1857.47 L731.74 1857.63 L735.47 1857.78 L739.2 1857.92 L742.94 1858.06 L746.67 1858.2 L750.4 1858.34 L754.13 1858.47 L757.86 1858.6 L761.59 1858.72 L765.33 1858.84" stroke="#b1b8b5" stroke-width="3.8" fill="none" stroke-dasharray="8.5 5"/>
<circle cx="375.22" cy="1802.1" r="4.6" fill="#111" />
<circle cx="386.33" cy="1793.58" r="4.6" fill="#111" />
<circle cx="392.51" cy="1797.49" r="4.6" fill="#111" />
<circle cx="404.51" cy="1804.29" r="4.6" fill="#111" />
<circle cx="414.05" cy="1807.51" r="4.6" fill="#111" />
<circle cx="422.15" cy="1811.63" r="4.6" fill="#111" />
<circle cx="429.12" cy="1813.81" r="4.6" fill="#111" />
<circle cx="434.94" cy="1815.94" r="4.6" fill="#111" />
<circle cx="442.39" cy="1818.02" r="4.6" fill="#111" />
<circle cx="449.96" cy="1820.96" r="4.6" fill="#111" />
<circle cx="455.74" cy="1822.55" r="4.6" fill="#111" />
<circle cx="461.53" cy="1823.97" r="4.6" fill="#111" />
<circle cx="472.02" cy="1826.88" r="4.6" fill="#111" />
<circle cx="480.8" cy="1829.66" r="4.6" fill="#111" />
<circle cx="487.51" cy="1830.22" r="4.6" fill="#111" />
<circle cx="495.22" cy="1833.25" r="4.6" fill="#111" />
<circle cx="505.58" cy="1835.39" r="4.6" fill="#111" />
<circle cx="515.57" cy="1837.42" r="4.6" fill="#111" />
<circle cx="525.29" cy="1837.89" r="4.6" fill="#111" />
<circle cx="532.79" cy="1840.01" r="4.6" fill="#111" />
<circle cx="540.78" cy="1841.76" r="4.6" fill="#111" />
<circle cx="549.67" cy="1843.43" r="4.6" fill="#111" />
<circle cx="555.53" cy="1843.58" r="4.6" fill="#111" />
<circle cx="563.83" cy="1846.04" r="4.6" fill="#111" />
<circle cx="570.72" cy="1847.52" r="4.6" fill="#111" />
<circle cx="580.62" cy="1848.23" r="4.6" fill="#111" />
<circle cx="595.4" cy="1851.28" r="4.6" fill="#111" />
<circle cx="605.26" cy="1851.44" r="4.6" fill="#111" />
<circle cx="611.93" cy="1851.51" r="4.6" fill="#111" />
<circle cx="621.91" cy="1852.05" r="4.6" fill="#111" />
<circle cx="631.77" cy="1852.18" r="4.6" fill="#111" />
<circle cx="637.42" cy="1851.64" r="4.6" fill="#111" />
<circle cx="646.47" cy="1852.82" r="4.6" fill="#111" />
<circle cx="652.03" cy="1853.08" r="4.6" fill="#111" />
<circle cx="660.07" cy="1853.18" r="4.6" fill="#111" />
<circle cx="667.78" cy="1851.98" r="4.6" fill="#111" />
<circle cx="674.34" cy="1851.84" r="4.6" fill="#111" />
<circle cx="681.5" cy="1851.22" r="4.6" fill="#111" />
<circle cx="691.04" cy="1851.28" r="4.6" fill="#111" />
<circle cx="698.15" cy="1851.05" r="4.6" fill="#111" />
<rect x="300.6" y="1741" width="485.5" height="193.5" fill="none" stroke="#141414" stroke-width="3.1" />
<line x1="286" y1="1926" x2="300.6" y2="1926" stroke="#141414" stroke-width="3.4" stroke-linecap="butt" />
<text font-size="19" text-anchor="end" fill="#111" x="283.7" y="1932.5" >0.10</text>
<line x1="286" y1="1867" x2="300.6" y2="1867" stroke="#141414" stroke-width="3.4" stroke-linecap="butt" />
<text font-size="19" text-anchor="end" fill="#111" x="283.7" y="1873.5" >0.15</text>
<line x1="286" y1="1808" x2="300.6" y2="1808" stroke="#141414" stroke-width="3.4" stroke-linecap="butt" />
<text font-size="19" text-anchor="end" fill="#111" x="283.7" y="1814.5" >0.20</text>
<line x1="286" y1="1749" x2="300.6" y2="1749" stroke="#141414" stroke-width="3.4" stroke-linecap="butt" />
<text font-size="19" text-anchor="end" fill="#111" x="283.7" y="1755.5" >0.25</text>
<line x1="333.25" y1="1934.5" x2="333.25" y2="1948.5" stroke="#141414" stroke-width="3" stroke-linecap="butt" />
<text font-size="17.7" text-anchor="middle" fill="#111" x="333.25" y="1966.8" >100</text>
<line x1="456.7" y1="1934.5" x2="456.7" y2="1948.5" stroke="#141414" stroke-width="3" stroke-linecap="butt" />
<text font-size="17.7" text-anchor="middle" fill="#111" x="456.7" y="1966.8" >200</text>
<line x1="580.15" y1="1934.5" x2="580.15" y2="1948.5" stroke="#141414" stroke-width="3" stroke-linecap="butt" />
<text font-size="17.7" text-anchor="middle" fill="#111" x="580.15" y="1966.8" >300</text>
<line x1="703.6" y1="1934.5" x2="703.6" y2="1948.5" stroke="#141414" stroke-width="3" stroke-linecap="butt" />
<text font-size="17.7" text-anchor="middle" fill="#111" x="703.6" y="1966.8" >400</text>
<text font-size="19.3" text-anchor="end" fill="#111" x="782.7" y="1758.6" >Window Symmetric Unit Size = 20</text>
<text font-size="19.4" text-anchor="end" fill="#111" x="761" y="1780" >a = 0.2000</text>
<text font-size="19.4" text-anchor="end" fill="#111" x="761" y="1801.7" >b = 0.0088</text>
<text font-size="19.4" text-anchor="end" fill="#111" x="761" y="1823.4" >c = 0.1531</text>
<text x="307.5" y="1922.2" font-size="25" fill="#111" font-family="Liberation Serif, Times New Roman, serif" font-style="italic">y=ae<tspan font-size="15.5" dy="-10">-bx</tspan><tspan dy="10">+c</tspan></text>
<rect x="300.6" y="1975.5" width="485.5" height="193.5" fill="#fff" stroke="none" stroke-width="0" />
<path d="M321.28 2014.53 L325.01 2016.19 L328.74 2017.81 L332.47 2019.39 L336.2 2020.95 L339.93 2022.47 L343.66 2023.96 L347.4 2025.43 L351.13 2026.86 L354.86 2028.26 L358.59 2029.64 L362.32 2030.98 L366.05 2032.3 L369.78 2033.59 L373.52 2034.86 L377.25 2036.1 L380.98 2037.31 L384.71 2038.5 L388.44 2039.67 L392.17 2040.81 L395.91 2041.93 L399.64 2043.03 L403.37 2044.1 L407.1 2045.16 L410.83 2046.19 L414.56 2047.2 L418.29 2048.19 L422.03 2049.15 L425.76 2050.1 L429.49 2051.03 L433.22 2051.94 L436.95 2052.84 L440.68 2053.71 L444.42 2054.57 L448.15 2055.41 L451.88 2056.23 L455.61 2057.04 L459.34 2057.82 L463.07 2058.6 L466.8 2059.36 L470.54 2060.1 L474.27 2060.82 L478 2061.54 L481.73 2062.23 L485.46 2062.92 L489.19 2063.59 L492.92 2064.24 L496.66 2064.88 L500.39 2065.51 L504.12 2066.13 L507.85 2066.73 L511.58 2067.33 L515.31 2067.91 L519.05 2068.47 L522.78 2069.03 L526.51 2069.58 L530.24 2070.11 L533.97 2070.63 L537.7 2071.14 L541.43 2071.65 L545.17 2072.14 L548.9 2072.62 L552.63 2073.09 L556.36 2073.56 L560.09 2074.01 L563.82 2074.45 L567.55 2074.89 L571.29 2075.31 L575.02 2075.73 L578.75 2076.14 L582.48 2076.54 L586.21 2076.93 L589.94 2077.32 L593.68 2077.69 L597.41 2078.06 L601.14 2078.42 L604.87 2078.78 L608.6 2079.12 L612.33 2079.46 L616.06 2079.8 L619.8 2080.12 L623.53 2080.44 L627.26 2080.75 L630.99 2081.06 L634.72 2081.36 L638.45 2081.66 L642.19 2081.94 L645.92 2082.23 L649.65 2082.5 L653.38 2082.77 L657.11 2083.04 L660.84 2083.3 L664.57 2083.55 L668.31 2083.8 L672.04 2084.05 L675.77 2084.29 L679.5 2084.52 L683.23 2084.75 L686.96 2084.98 L690.69 2085.2 L694.43 2085.41 L698.16 2085.63 L701.89 2085.83 L705.62 2086.04 L709.35 2086.24 L713.08 2086.43 L716.82 2086.62 L720.55 2086.81 L724.28 2086.99 L728.01 2087.17 L731.74 2087.35 L735.47 2087.52 L739.2 2087.69 L742.94 2087.85 L746.67 2088.02 L750.4 2088.18 L754.13 2088.33 L757.86 2088.48 L761.59 2088.63 L765.33 2088.78" stroke="#b1b8b5" stroke-width="3.8" fill="none" stroke-dasharray="8.5 5"/>
<circle cx="451.76" cy="2058.13" r="4.6" fill="#111" />
<circle cx="461.64" cy="2059.56" r="4.6" fill="#111" />
<circle cx="476.37" cy="2062.13" r="4.6" fill="#111" />
<circle cx="486.02" cy="2063.22" r="4.6" fill="#111" />
<circle cx="492.26" cy="2064.87" r="4.6" fill="#111" />
<circle cx="500.42" cy="2066.73" r="4.6" fill="#111" />
<circle cx="507.25" cy="2066.04" r="4.6" fill="#111" />
<circle cx="515.23" cy="2067.47" r="4.6" fill="#111" />
<circle cx="523.52" cy="2069.64" r="4.6" fill="#111" />
<circle cx="529.6" cy="2069.37" r="4.6" fill="#111" />
<circle cx="539.42" cy="2071.36" r="4.6" fill="#111" />
<circle cx="546.36" cy="2073.15" r="4.6" fill="#111" />
<circle cx="554.12" cy="2073.48" r="4.6" fill="#111" />
<circle cx="559.96" cy="2074.23" r="4.6" fill="#111" />
<circle cx="565.53" cy="2073.9" r="4.6" fill="#111" />
<circle cx="572.04" cy="2075.77" r="4.6" fill="#111" />
<circle cx="579.29" cy="2076.32" r="4.6" fill="#111" />
<circle cx="589.42" cy="2077.39" r="4.6" fill="#111" />
<circle cx="599.37" cy="2078.43" r="4.6" fill="#111" />
<circle cx="607.3" cy="2079.43" r="4.6" fill="#111" />
<circle cx="615.1" cy="2079.61" r="4.6" fill="#111" />
<rect x="300.6" y="1975.5" width="485.5" height="193.5" fill="none" stroke="#141414" stroke-width="3.1" />
<line x1="286" y1="2160.25" x2="300.6" y2="2160.25" stroke="#141414" stroke-width="3.4" stroke-linecap="butt" />
<text font-size="19" text-anchor="end" fill="#111" x="283.7" y="2166.75" >0.10</text>
<line x1="286" y1="2101.25" x2="300.6" y2="2101.25" stroke="#141414" stroke-width="3.4" stroke-linecap="butt" />
<text font-size="19" text-anchor="end" fill="#111" x="283.7" y="2107.75" >0.15</text>
<line x1="286" y1="2042.25" x2="300.6" y2="2042.25" stroke="#141414" stroke-width="3.4" stroke-linecap="butt" />
<text font-size="19" text-anchor="end" fill="#111" x="283.7" y="2048.75" >0.20</text>
<line x1="286" y1="1983.25" x2="300.6" y2="1983.25" stroke="#141414" stroke-width="3.4" stroke-linecap="butt" />
<text font-size="19" text-anchor="end" fill="#111" x="283.7" y="1989.75" >0.25</text>
<line x1="333.25" y1="2169" x2="333.25" y2="2183" stroke="#141414" stroke-width="3" stroke-linecap="butt" />
<text font-size="17.7" text-anchor="middle" fill="#111" x="333.25" y="2201.3" >100</text>
<line x1="456.7" y1="2169" x2="456.7" y2="2183" stroke="#141414" stroke-width="3" stroke-linecap="butt" />
<text font-size="17.7" text-anchor="middle" fill="#111" x="456.7" y="2201.3" >200</text>
<line x1="580.15" y1="2169" x2="580.15" y2="2183" stroke="#141414" stroke-width="3" stroke-linecap="butt" />
<text font-size="17.7" text-anchor="middle" fill="#111" x="580.15" y="2201.3" >300</text>
<line x1="703.6" y1="2169" x2="703.6" y2="2183" stroke="#141414" stroke-width="3" stroke-linecap="butt" />
<text font-size="17.7" text-anchor="middle" fill="#111" x="703.6" y="2201.3" >400</text>
<text font-size="19.3" text-anchor="end" fill="#111" x="782.7" y="1993.1" >Window Symmetric Unit Size = 30</text>
<text font-size="19.4" text-anchor="end" fill="#111" x="761" y="2014.5" >a = 0.1273</text>
<text font-size="19.4" text-anchor="end" fill="#111" x="761" y="2036.2" >b = 0.0068</text>
<text font-size="19.4" text-anchor="end" fill="#111" x="761" y="2057.9" >c = 0.1546</text>
<text x="307.5" y="2156.7" font-size="25" fill="#111" font-family="Liberation Serif, Times New Roman, serif" font-style="italic">y=ae<tspan font-size="15.5" dy="-10">-bx</tspan><tspan dy="10">+c</tspan></text>
<text font-size="21.8" text-anchor="middle" fill="#111" x="529.5" y="2228.4" >τ, filament age [s]</text>
<text font-size="21.9" text-anchor="middle" fill="#111" transform="translate(205 1811) rotate(-90)" >[s/monomer]</text>
<text font-size="21.5" text-anchor="middle" fill="#111" transform="translate(188 1912.5) rotate(-90)" >1</text>
<line x1="197.5" y1="1886" x2="197.5" y2="1943" stroke="#141414" stroke-width="3" stroke-linecap="round" />
<text transform="translate(223.5 1945.8) rotate(-90)" font-size="23.5" fill="#111">v<tspan font-size="20.3" dy="2.5" dx="4">depol</tspan></text>
<text font-size="31" text-anchor="start" fill="#111" font-weight="bold" x="862" y="1568.5" >h</text>
<text transform="translate(1213.5 1593) scale(1.03 1)" font-size="21.3" text-anchor="middle" fill="#111">Estimation of k<tspan font-size="12.5" dy="5">-Pi</tspan><tspan dy="-5"> for actin variant N111S</tspan></text>
<rect x="915.5" y="1610" width="30" height="28.75" fill="#fff" stroke="#222" stroke-width="1.3" />
<line x1="919" y1="1624.3" x2="942" y2="1624.3" stroke="#6ce0b8" stroke-width="4" stroke-linecap="butt" />
<text font-size="18.3" text-anchor="start" fill="#111" font-weight="bold" transform="translate(964.5 1628.75) scale(1.06 1)" >N111S (lower bound)</text>
<rect x="1168" y="1610" width="30" height="28.75" fill="#fff" stroke="#222" stroke-width="1.3" />
<line x1="1171.5" y1="1624.3" x2="1194.5" y2="1624.3" stroke="#5cc4e4" stroke-width="4" stroke-linecap="butt" />
<text font-size="18.3" text-anchor="start" fill="#111" font-weight="bold" transform="translate(1221 1628.75) scale(1.06 1)" >N111S (upper bound)</text>
<rect x="1425.5" y="1610" width="30" height="28.75" fill="#fff" stroke="#222" stroke-width="1.3" />
<line x1="1429" y1="1624.3" x2="1452" y2="1624.3" stroke="#111" stroke-width="4" stroke-linecap="butt" />
<text font-size="18.3" text-anchor="start" fill="#111" font-weight="bold" transform="translate(1469 1628.75) scale(1.06 1)" >Wild type</text>
<path d="M1066.45 1977.98 L1075.49 1979.16 L1087.92 1983.91 L1098.09 1991.02 L1107.13 1994.58 L1131.99 1995.77 L1152.33 1995.77 L1174.93 1995.77 L1195.27 1995.17 L1217.87 1995.17 L1238.21 1995.77 L1258.55 1995.77 L1281.15 1995.77 L1303.75 1995.77 L1326.35 1993.39 L1335.39 1989.84 L1346.69 1984.5 L1355.73 1988.65 L1364.77 1991.62 L1387.37 1995.77 L1407.71 1996.36 L1432.57 1994.58 L1432.57 1998.14 L1407.71 2001.7 L1387.37 1999.92 L1364.77 1998.14 L1355.73 1997.55 L1346.69 1996.95 L1335.39 1997.55 L1326.35 1998.14 L1303.75 1999.32 L1281.15 1999.92 L1258.55 1999.92 L1238.21 1998.73 L1217.87 1998.14 L1195.27 1998.73 L1174.93 1999.32 L1152.33 1999.32 L1131.99 1999.92 L1107.13 1998.73 L1098.09 1998.14 L1087.92 1996.95 L1075.49 1998.14 L1066.45 1999.32Z" stroke="none" stroke-width="0" fill="#cfeaf4" />
<path d="M1021.25 1899.7 L1023.34 1909.36 L1025.44 1918.07 L1027.53 1925.9 L1029.62 1932.96 L1031.72 1939.32 L1033.81 1945.05 L1035.9 1950.21 L1037.99 1954.85 L1040.09 1959.03 L1042.18 1962.8 L1044.27 1966.19 L1046.37 1969.25 L1048.46 1972 L1050.55 1974.48 L1052.65 1976.71 L1054.74 1978.73 L1056.83 1980.54 L1058.92 1982.17 L1061.02 1983.64 L1063.11 1984.96 L1065.2 1986.15 L1067.3 1987.22 L1069.39 1988.19 L1071.48 1989.06 L1073.58 1989.85 L1075.67 1990.55 L1077.76 1991.19 L1079.86 1991.76 L1081.95 1992.28 L1084.04 1992.74 L1086.13 1993.16 L1088.23 1993.54 L1090.32 1993.88 L1092.41 1994.18 L1094.51 1994.46 L1096.6 1994.7 L1098.69 1994.93 L1100.79 1995.13 L1102.88 1995.31 L1104.97 1995.47 L1107.07 1995.62 L1109.16 1995.75 L1111.25 1995.87 L1113.34 1995.98 L1115.44 1996.08 L1117.53 1996.16 L1119.62 1996.24 L1121.72 1996.31 L1123.81 1996.38 L1125.9 1996.43 L1128 1996.48 L1130.09 1996.53 L1132.18 1996.57 L1134.27 1996.61 L1136.37 1996.64 L1138.46 1996.67 L1140.55 1996.7 L1142.65 1996.73 L1144.74 1996.75 L1146.83 1996.77 L1148.93 1996.79 L1151.02 1996.8 L1153.11 1996.82 L1155.21 1996.83 L1157.3 1996.84 L1159.39 1996.85 L1161.48 1996.86 L1163.58 1996.87 L1165.67 1996.88 L1167.76 1996.89 L1169.86 1996.89 L1171.95 1996.9 L1174.04 1996.91 L1176.14 1996.91 L1178.23 1996.91 L1180.32 1996.92 L1182.42 1996.92 L1184.51 1996.92 L1186.6 1996.93 L1188.69 1996.93 L1190.79 1996.93 L1192.88 1996.93 L1194.97 1996.94 L1197.07 1996.94 L1199.16 1996.94 L1201.25 1996.94 L1203.35 1996.94 L1205.44 1996.94 L1207.53 1996.94 L1209.62 1996.94 L1211.72 1996.94 L1213.81 1996.95 L1215.9 1996.95 L1218 1996.95 L1220.09 1996.95 L1222.18 1996.95 L1224.28 1996.95 L1226.37 1996.95 L1228.46 1996.95 L1230.56 1996.95 L1232.65 1996.95 L1234.74 1996.95 L1236.83 1996.95 L1238.93 1996.95 L1241.02 1996.95 L1243.11 1996.95 L1245.21 1996.95 L1247.3 1996.95 L1249.39 1996.95 L1251.49 1996.95 L1253.58 1996.95 L1255.67 1996.95 L1257.77 1996.95 L1259.86 1996.95 L1261.95 1996.95 L1264.04 1996.95 L1266.14 1996.95 L1268.23 1996.95 L1270.32 1996.95 L1272.42 1996.95 L1274.51 1996.95 L1276.6 1996.95 L1278.7 1996.95 L1280.79 1996.95 L1282.88 1996.95 L1284.97 1996.95 L1287.07 1996.95 L1289.16 1996.95 L1291.25 1996.95 L1293.35 1996.95 L1295.44 1996.95 L1297.53 1996.95 L1299.63 1996.95 L1301.72 1996.95 L1303.81 1996.95 L1305.91 1996.95 L1308 1996.95 L1310.09 1996.95 L1312.18 1996.95 L1314.28 1996.95 L1316.37 1996.95 L1318.46 1996.95 L1320.56 1996.95 L1322.65 1996.95 L1324.74 1996.95 L1326.84 1996.95 L1328.93 1996.95 L1331.02 1996.95 L1333.12 1996.95 L1335.21 1996.95 L1337.3 1996.95 L1339.39 1996.95 L1341.49 1996.95 L1343.58 1996.95 L1345.67 1996.95 L1347.77 1996.95 L1349.86 1996.95 L1351.95 1996.95 L1354.05 1996.95 L1356.14 1996.95 L1358.23 1996.95 L1360.32 1996.95 L1362.42 1996.95 L1364.51 1996.95 L1366.6 1996.95 L1368.7 1996.95 L1370.79 1996.95 L1372.88 1996.95 L1374.98 1996.95 L1377.07 1996.95 L1379.16 1996.95 L1381.26 1996.95 L1383.35 1996.95 L1385.44 1996.95 L1387.53 1996.95 L1389.63 1996.95 L1391.72 1996.95 L1393.81 1996.95 L1395.91 1996.95 L1398 1996.95 L1400.09 1996.95 L1402.19 1996.95 L1404.28 1996.95 L1406.37 1996.95 L1408.47 1996.95 L1410.56 1996.95 L1412.65 1996.95 L1414.74 1996.95 L1416.84 1996.95 L1418.93 1996.95 L1421.02 1996.95 L1423.12 1996.95 L1425.21 1996.95 L1427.3 1996.95 L1429.4 1996.95 L1431.49 1996.95 L1433.58 1996.95 L1435.67 1996.95 L1437.77 1996.95" stroke="#6ce0b8" stroke-width="3.6" fill="none" />
<path d="M1021.25 1721.8 L1023.34 1750.06 L1025.44 1775.41 L1027.53 1798.16 L1029.62 1818.58 L1031.72 1836.89 L1033.81 1853.33 L1035.9 1868.08 L1037.99 1881.31 L1040.09 1893.19 L1042.18 1903.84 L1044.27 1913.41 L1046.37 1921.99 L1048.46 1929.68 L1050.55 1936.59 L1052.65 1942.79 L1054.74 1948.35 L1056.83 1953.34 L1058.92 1957.82 L1061.02 1961.84 L1063.11 1965.45 L1065.2 1968.68 L1067.3 1971.58 L1069.39 1974.19 L1071.48 1976.53 L1073.58 1978.62 L1075.67 1980.51 L1077.76 1982.2 L1079.86 1983.71 L1081.95 1985.07 L1084.04 1986.29 L1086.13 1987.39 L1088.23 1988.37 L1090.32 1989.25 L1092.41 1990.04 L1094.51 1990.75 L1096.6 1991.39 L1098.69 1991.96 L1100.79 1992.47 L1102.88 1992.93 L1104.97 1993.34 L1107.07 1993.71 L1109.16 1994.05 L1111.25 1994.35 L1113.34 1994.61 L1115.44 1994.85 L1117.53 1995.07 L1119.62 1995.26 L1121.72 1995.44 L1123.81 1995.59 L1125.9 1995.73 L1128 1995.86 L1130.09 1995.97 L1132.18 1996.07 L1134.27 1996.16 L1136.37 1996.24 L1138.46 1996.31 L1140.55 1996.38 L1142.65 1996.44 L1144.74 1996.49 L1146.83 1996.54 L1148.93 1996.58 L1151.02 1996.62 L1153.11 1996.65 L1155.21 1996.68 L1157.3 1996.71 L1159.39 1996.74 L1161.48 1996.76 L1163.58 1996.78 L1165.67 1996.8 L1167.76 1996.81 L1169.86 1996.83 L1171.95 1996.84 L1174.04 1996.85 L1176.14 1996.86 L1178.23 1996.87 L1180.32 1996.88 L1182.42 1996.89 L1184.51 1996.89 L1186.6 1996.9 L1188.69 1996.9 L1190.79 1996.91 L1192.88 1996.91 L1194.97 1996.92 L1197.07 1996.92 L1199.16 1996.92 L1201.25 1996.93 L1203.35 1996.93 L1205.44 1996.93 L1207.53 1996.93 L1209.62 1996.94 L1211.72 1996.94 L1213.81 1996.94 L1215.9 1996.94 L1218 1996.94 L1220.09 1996.94 L1222.18 1996.94 L1224.28 1996.94 L1226.37 1996.95 L1228.46 1996.95 L1230.56 1996.95 L1232.65 1996.95 L1234.74 1996.95 L1236.83 1996.95 L1238.93 1996.95 L1241.02 1996.95 L1243.11 1996.95 L1245.21 1996.95 L1247.3 1996.95 L1249.39 1996.95 L1251.49 1996.95 L1253.58 1996.95 L1255.67 1996.95 L1257.77 1996.95 L1259.86 1996.95 L1261.95 1996.95 L1264.04 1996.95 L1266.14 1996.95 L1268.23 1996.95 L1270.32 1996.95 L1272.42 1996.95 L1274.51 1996.95 L1276.6 1996.95 L1278.7 1996.95 L1280.79 1996.95 L1282.88 1996.95 L1284.97 1996.95 L1287.07 1996.95 L1289.16 1996.95 L1291.25 1996.95 L1293.35 1996.95 L1295.44 1996.95 L1297.53 1996.95 L1299.63 1996.95 L1301.72 1996.95 L1303.81 1996.95 L1305.91 1996.95 L1308 1996.95 L1310.09 1996.95 L1312.18 1996.95 L1314.28 1996.95 L1316.37 1996.95 L1318.46 1996.95 L1320.56 1996.95 L1322.65 1996.95 L1324.74 1996.95 L1326.84 1996.95 L1328.93 1996.95 L1331.02 1996.95 L1333.12 1996.95 L1335.21 1996.95 L1337.3 1996.95 L1339.39 1996.95 L1341.49 1996.95 L1343.58 1996.95 L1345.67 1996.95 L1347.77 1996.95 L1349.86 1996.95 L1351.95 1996.95 L1354.05 1996.95 L1356.14 1996.95 L1358.23 1996.95 L1360.32 1996.95 L1362.42 1996.95 L1364.51 1996.95 L1366.6 1996.95 L1368.7 1996.95 L1370.79 1996.95 L1372.88 1996.95 L1374.98 1996.95 L1377.07 1996.95 L1379.16 1996.95 L1381.26 1996.95 L1383.35 1996.95 L1385.44 1996.95 L1387.53 1996.95 L1389.63 1996.95 L1391.72 1996.95 L1393.81 1996.95 L1395.91 1996.95 L1398 1996.95 L1400.09 1996.95 L1402.19 1996.95 L1404.28 1996.95 L1406.37 1996.95 L1408.47 1996.95 L1410.56 1996.95 L1412.65 1996.95 L1414.74 1996.95 L1416.84 1996.95 L1418.93 1996.95 L1421.02 1996.95 L1423.12 1996.95 L1425.21 1996.95 L1427.3 1996.95 L1429.4 1996.95 L1431.49 1996.95 L1433.58 1996.95 L1435.67 1996.95 L1437.77 1996.95" stroke="#5cc4e4" stroke-width="3.6" fill="none" />
<circle cx="1050.63" cy="2008.81" r="4.3" fill="#4fb9df" />
<circle cx="1066.45" cy="1981.53" r="4.3" fill="#4fb9df" />
<circle cx="1087.92" cy="1988.06" r="4.3" fill="#4fb9df" />
<circle cx="1107.13" cy="1997.55" r="4.3" fill="#4fb9df" />
<circle cx="1131.99" cy="1999.32" r="4.3" fill="#4fb9df" />
<circle cx="1152.33" cy="1998.14" r="4.3" fill="#4fb9df" />
<circle cx="1174.93" cy="1998.14" r="4.3" fill="#4fb9df" />
<circle cx="1195.27" cy="1997.55" r="4.3" fill="#4fb9df" />
<circle cx="1217.87" cy="1996.95" r="4.3" fill="#4fb9df" />
<circle cx="1238.21" cy="1998.14" r="4.3" fill="#4fb9df" />
<circle cx="1258.55" cy="1999.32" r="4.3" fill="#4fb9df" />
<circle cx="1281.15" cy="1999.32" r="4.3" fill="#4fb9df" />
<circle cx="1303.75" cy="1998.73" r="4.3" fill="#4fb9df" />
<circle cx="1326.35" cy="1995.17" r="4.3" fill="#4fb9df" />
<circle cx="1346.69" cy="1990.43" r="4.3" fill="#4fb9df" />
<circle cx="1364.77" cy="1993.99" r="4.3" fill="#4fb9df" />
<circle cx="1387.37" cy="1998.73" r="4.3" fill="#4fb9df" />
<circle cx="1407.71" cy="2001.1" r="4.3" fill="#4fb9df" />
<circle cx="1432.57" cy="1995.77" r="4.3" fill="#4fb9df" />
<path d="M1021.25 1697.01 L1023.34 1698.44 L1025.44 1699.85 L1027.53 1701.25 L1029.62 1702.65 L1031.72 1704.03 L1033.81 1705.4 L1035.9 1706.77 L1037.99 1708.12 L1040.09 1709.47 L1042.18 1710.8 L1044.27 1712.13 L1046.37 1713.44 L1048.46 1714.75 L1050.55 1716.05 L1052.65 1717.33 L1054.74 1718.61 L1056.83 1719.88 L1058.92 1721.14 L1061.02 1722.4 L1063.11 1723.64 L1065.2 1724.87 L1067.3 1726.1 L1069.39 1727.31 L1071.48 1728.52 L1073.58 1729.72 L1075.67 1730.91 L1077.76 1732.1 L1079.86 1733.27 L1081.95 1734.44 L1084.04 1735.59 L1086.13 1736.74 L1088.23 1737.88 L1090.32 1739.02 L1092.41 1740.14 L1094.51 1741.26 L1096.6 1742.37 L1098.69 1743.47 L1100.79 1744.56 L1102.88 1745.65 L1104.97 1746.73 L1107.07 1747.8 L1109.16 1748.86 L1111.25 1749.91 L1113.34 1750.96 L1115.44 1752 L1117.53 1753.03 L1119.62 1754.06 L1121.72 1755.08 L1123.81 1756.09 L1125.9 1757.09 L1128 1758.09 L1130.09 1759.08 L1132.18 1760.06 L1134.27 1761.03 L1136.37 1762 L1138.46 1762.96 L1140.55 1763.92 L1142.65 1764.87 L1144.74 1765.81 L1146.83 1766.74 L1148.93 1767.67 L1151.02 1768.59 L1153.11 1769.51 L1155.21 1770.42 L1157.3 1771.32 L1159.39 1772.21 L1161.48 1773.1 L1163.58 1773.98 L1165.67 1774.86 L1167.76 1775.73 L1169.86 1776.6 L1171.95 1777.45 L1174.04 1778.31 L1176.14 1779.15 L1178.23 1779.99 L1180.32 1780.82 L1182.42 1781.65 L1184.51 1782.47 L1186.6 1783.29 L1188.69 1784.1 L1190.79 1784.91 L1192.88 1785.7 L1194.97 1786.5 L1197.07 1787.28 L1199.16 1788.07 L1201.25 1788.84 L1203.35 1789.61 L1205.44 1790.38 L1207.53 1791.14 L1209.62 1791.89 L1211.72 1792.64 L1213.81 1793.39 L1215.9 1794.13 L1218 1794.86 L1220.09 1795.59 L1222.18 1796.31 L1224.28 1797.03 L1226.37 1797.74 L1228.46 1798.45 L1230.56 1799.15 L1232.65 1799.85 L1234.74 1800.54 L1236.83 1801.23 L1238.93 1801.91 L1241.02 1802.59 L1243.11 1803.26 L1245.21 1803.93 L1247.3 1804.6 L1249.39 1805.25 L1251.49 1805.91 L1253.58 1806.56 L1255.67 1807.2 L1257.77 1807.84 L1259.86 1808.48 L1261.95 1809.11 L1264.04 1809.74 L1266.14 1810.36 L1268.23 1810.98 L1270.32 1811.59 L1272.42 1812.2 L1274.51 1812.81 L1276.6 1813.41 L1278.7 1814 L1280.79 1814.59 L1282.88 1815.18 L1284.97 1815.77 L1287.07 1816.35 L1289.16 1816.92 L1291.25 1817.49 L1293.35 1818.06 L1295.44 1818.62 L1297.53 1819.18 L1299.63 1819.74 L1301.72 1820.29 L1303.81 1820.84 L1305.91 1821.38 L1308 1821.92 L1310.09 1822.46 L1312.18 1822.99 L1314.28 1823.52 L1316.37 1824.04 L1318.46 1824.56 L1320.56 1825.08 L1322.65 1825.59 L1324.74 1826.1 L1326.84 1826.61 L1328.93 1827.11 L1331.02 1827.61 L1333.12 1828.1 L1335.21 1828.6 L1337.3 1829.08 L1339.39 1829.57 L1341.49 1830.05 L1343.58 1830.53 L1345.67 1831 L1347.77 1831.48 L1349.86 1831.94 L1351.95 1832.41 L1354.05 1832.87 L1356.14 1833.33 L1358.23 1833.78 L1360.32 1834.23 L1362.42 1834.68 L1364.51 1835.13 L1366.6 1835.57 L1368.7 1836.01 L1370.79 1836.44 L1372.88 1836.88 L1374.98 1837.31 L1377.07 1837.73 L1379.16 1838.16 L1381.26 1838.58 L1383.35 1838.99 L1385.44 1839.41 L1387.53 1839.82 L1389.63 1840.23 L1391.72 1840.63 L1393.81 1841.04 L1395.91 1841.44 L1398 1841.83 L1400.09 1842.23 L1402.19 1842.62 L1404.28 1843.01 L1406.37 1843.39 L1408.47 1843.78 L1410.56 1844.16 L1412.65 1844.54 L1414.74 1844.91 L1416.84 1845.28 L1418.93 1845.65 L1421.02 1846.02 L1423.12 1846.39 L1425.21 1846.75 L1427.3 1847.11 L1429.4 1847.46 L1431.49 1847.82 L1433.58 1848.17 L1435.67 1848.52 L1437.77 1848.87" stroke="#111" stroke-width="4.2" fill="none" />
<rect x="1021.25" y="1662.5" width="415.25" height="415" fill="none" stroke="#141414" stroke-width="3.1" />
<line x1="1010.5" y1="2077.6" x2="1021" y2="2077.6" stroke="#141414" stroke-width="3.2" stroke-linecap="butt" />
<text font-size="19.5" text-anchor="end" fill="#111" x="1009" y="2083.9" >0.00</text>
<line x1="1010.5" y1="2018.3" x2="1021" y2="2018.3" stroke="#141414" stroke-width="3.2" stroke-linecap="butt" />
<text font-size="19.5" text-anchor="end" fill="#111" x="1009" y="2024.6" >0.05</text>
<line x1="1010.5" y1="1959" x2="1021" y2="1959" stroke="#141414" stroke-width="3.2" stroke-linecap="butt" />
<text font-size="19.5" text-anchor="end" fill="#111" x="1009" y="1965.3" >0.10</text>
<line x1="1010.5" y1="1899.7" x2="1021" y2="1899.7" stroke="#141414" stroke-width="3.2" stroke-linecap="butt" />
<text font-size="19.5" text-anchor="end" fill="#111" x="1009" y="1906" >0.15</text>
<line x1="1010.5" y1="1840.4" x2="1021" y2="1840.4" stroke="#141414" stroke-width="3.2" stroke-linecap="butt" />
<text font-size="19.5" text-anchor="end" fill="#111" x="1009" y="1846.7" >0.20</text>
<line x1="1010.5" y1="1781.1" x2="1021" y2="1781.1" stroke="#141414" stroke-width="3.2" stroke-linecap="butt" />
<text font-size="19.5" text-anchor="end" fill="#111" x="1009" y="1787.4" >0.25</text>
<line x1="1010.5" y1="1721.8" x2="1021" y2="1721.8" stroke="#141414" stroke-width="3.2" stroke-linecap="butt" />
<text font-size="19.5" text-anchor="end" fill="#111" x="1009" y="1728.1" >0.30</text>
<line x1="1010.5" y1="1662.5" x2="1021" y2="1662.5" stroke="#141414" stroke-width="3.2" stroke-linecap="butt" />
<text font-size="19.5" text-anchor="end" fill="#111" x="1009" y="1668.8" >0.35</text>
<line x1="1021.25" y1="2077.5" x2="1021.25" y2="2088.5" stroke="#141414" stroke-width="3.2" stroke-linecap="butt" />
<text font-size="19" text-anchor="middle" fill="#111" x="1021.25" y="2105" >0</text>
<line x1="1134.25" y1="2077.5" x2="1134.25" y2="2088.5" stroke="#141414" stroke-width="3.2" stroke-linecap="butt" />
<text font-size="19" text-anchor="middle" fill="#111" x="1134.25" y="2105" >50</text>
<line x1="1247.25" y1="2077.5" x2="1247.25" y2="2088.5" stroke="#141414" stroke-width="3.2" stroke-linecap="butt" />
<text font-size="19" text-anchor="middle" fill="#111" x="1247.25" y="2105" >100</text>
<line x1="1360.25" y1="2077.5" x2="1360.25" y2="2088.5" stroke="#141414" stroke-width="3.2" stroke-linecap="butt" />
<text font-size="19" text-anchor="middle" fill="#111" x="1360.25" y="2105" >150</text>
<text font-size="21.7" text-anchor="start" fill="#111" font-weight="bold" x="1266" y="1797.5" >k = 0.0077</text>
<text font-size="21.7" text-anchor="start" fill="#5cc4e4" font-weight="bold" x="1111" y="1974.5" >k = 0.117</text>
<text font-size="21.7" text-anchor="start" fill="#6ce0b8" font-weight="bold" x="1111" y="2044" >k = 0.113</text>
<text font-size="21.8" text-anchor="middle" fill="#111" x="1206" y="2137" >τ, filament age [s]</text>
<text font-size="21.9" text-anchor="middle" fill="#111" transform="translate(938.1 1811) rotate(-90)" >[s/monomer]</text>
<text font-size="21.5" text-anchor="middle" fill="#111" transform="translate(921.1 1912.5) rotate(-90)" >1</text>
<line x1="930.6" y1="1886" x2="930.6" y2="1943" stroke="#141414" stroke-width="3" stroke-linecap="round" />
<text transform="translate(956.6 1945.8) rotate(-90)" font-size="23.5" fill="#111">v<tspan font-size="20.3" dy="2.5" dx="4">depol</tspan></text>
<text font-size="31" text-anchor="start" fill="#111" font-weight="bold" x="1" y="2256" >i</text>
<g clip-path="url(#cp1)"><rect x="56" y="2268.3" width="1211.5" height="201.5" fill="#353b3c"/>
<ellipse cx="130.6" cy="2361.4" rx="27" ry="26" fill="#cfd6d6" opacity="0.17" filter="url(#bl5)" transform="rotate(0 130.6 2361.4)"/><ellipse cx="130.6" cy="2361.4" rx="27" ry="26" fill="none" stroke="#e4eaea" stroke-width="9" opacity="0.22" filter="url(#bl3)" transform="rotate(0 130.6 2361.4)"/>
<path d="M144.1 2383.92 A27 26 0 0 1 105.23 2352.51" stroke="#fff" stroke-width="5" fill="none" opacity="0.28" filter="url(#bl3)"/>
<ellipse cx="198.6" cy="2373" rx="21" ry="21" fill="#cfd6d6" opacity="0.22" filter="url(#bl5)" transform="rotate(0 198.6 2373)"/><ellipse cx="198.6" cy="2373" rx="21" ry="21" fill="none" stroke="#e4eaea" stroke-width="8" opacity="0.4" filter="url(#bl3)" transform="rotate(0 198.6 2373)"/>
<circle cx="219.3" cy="2362.2" r="3.2" fill="#fff" opacity="0.95" filter="url(#bl1)"/>
<circle cx="224.7" cy="2373" r="3.2" fill="#fff" opacity="0.95" filter="url(#bl1)"/>
<circle cx="218.4" cy="2385.6" r="3.2" fill="#fff" opacity="0.95" filter="url(#bl1)"/>
<circle cx="196.8" cy="2395.5" r="3.2" fill="#fff" opacity="0.95" filter="url(#bl1)"/>
<circle cx="189.6" cy="2392.8" r="3.2" fill="#fff" opacity="0.95" filter="url(#bl1)"/>
<ellipse cx="330.5" cy="2362.8" rx="27" ry="26" fill="#cfd6d6" opacity="0.17" filter="url(#bl5)" transform="rotate(0 330.5 2362.8)"/><ellipse cx="330.5" cy="2362.8" rx="27" ry="26" fill="none" stroke="#e4eaea" stroke-width="9" opacity="0.22" filter="url(#bl3)" transform="rotate(0 330.5 2362.8)"/>
<path d="M344 2385.32 A27 26 0 0 1 305.13 2353.91" stroke="#fff" stroke-width="5" fill="none" opacity="0.28" filter="url(#bl3)"/>
<ellipse cx="401.4" cy="2374" rx="21" ry="21" fill="#cfd6d6" opacity="0.22" filter="url(#bl5)" transform="rotate(0 401.4 2374)"/><ellipse cx="401.4" cy="2374" rx="21" ry="21" fill="none" stroke="#e4eaea" stroke-width="8" opacity="0.4" filter="url(#bl3)" transform="rotate(0 401.4 2374)"/>
<circle cx="419.4" cy="2363.2" r="3.2" fill="#fff" opacity="0.95" filter="url(#bl1)"/>
<circle cx="425.7" cy="2375.8" r="3.2" fill="#fff" opacity="0.95" filter="url(#bl1)"/>
<circle cx="397.8" cy="2398.3" r="3.2" fill="#fff" opacity="0.95" filter="url(#bl1)"/>
<circle cx="385.2" cy="2383" r="3.2" fill="#fff" opacity="0.95" filter="url(#bl1)"/>
<ellipse cx="530" cy="2370" rx="27" ry="26" fill="#cfd6d6" opacity="0.17" filter="url(#bl5)" transform="rotate(0 530 2370)"/><ellipse cx="530" cy="2370" rx="27" ry="26" fill="none" stroke="#e4eaea" stroke-width="9" opacity="0.22" filter="url(#bl3)" transform="rotate(0 530 2370)"/>
<path d="M516.5 2392.52 A27 26 0 0 1 520.77 2345.57" stroke="#fff" stroke-width="5" fill="none" opacity="0.28" filter="url(#bl3)"/>
<ellipse cx="602.5" cy="2375" rx="21" ry="21" fill="#cfd6d6" opacity="0.22" filter="url(#bl5)" transform="rotate(0 602.5 2375)"/><ellipse cx="602.5" cy="2375" rx="21" ry="21" fill="none" stroke="#e4eaea" stroke-width="8" opacity="0.4" filter="url(#bl3)" transform="rotate(0 602.5 2375)"/>
<circle cx="598.9" cy="2352.5" r="3.2" fill="#fff" opacity="0.95" filter="url(#bl1)"/>
<circle cx="618.7" cy="2362.4" r="3.2" fill="#fff" opacity="0.95" filter="url(#bl1)"/>
<circle cx="624.1" cy="2376.8" r="3.2" fill="#fff" opacity="0.95" filter="url(#bl1)"/>
<circle cx="620.5" cy="2387.6" r="3.2" fill="#fff" opacity="0.95" filter="url(#bl1)"/>
<circle cx="600.7" cy="2397.5" r="3.2" fill="#fff" opacity="0.95" filter="url(#bl1)"/>
<ellipse cx="727.5" cy="2370" rx="27" ry="26" fill="#cfd6d6" opacity="0.17" filter="url(#bl5)" transform="rotate(0 727.5 2370)"/><ellipse cx="727.5" cy="2370" rx="27" ry="26" fill="none" stroke="#e4eaea" stroke-width="9" opacity="0.22" filter="url(#bl3)" transform="rotate(0 727.5 2370)"/>
<path d="M714 2392.52 A27 26 0 0 1 718.27 2345.57" stroke="#fff" stroke-width="5" fill="none" opacity="0.28" filter="url(#bl3)"/>
<ellipse cx="807.5" cy="2375" rx="21" ry="21" fill="#cfd6d6" opacity="0.22" filter="url(#bl5)" transform="rotate(0 807.5 2375)"/><ellipse cx="807.5" cy="2375" rx="21" ry="21" fill="none" stroke="#e4eaea" stroke-width="8" opacity="0.4" filter="url(#bl3)" transform="rotate(0 807.5 2375)"/>
<circle cx="804.8" cy="2351.6" r="3.2" fill="#fff" opacity="0.95" filter="url(#bl1)"/>
<circle cx="827.3" cy="2378.6" r="3.2" fill="#fff" opacity="0.95" filter="url(#bl1)"/>
<circle cx="805.7" cy="2399.3" r="3.2" fill="#fff" opacity="0.95" filter="url(#bl1)"/>
<ellipse cx="935" cy="2372" rx="27" ry="26" fill="#cfd6d6" opacity="0.17" filter="url(#bl5)" transform="rotate(0 935 2372)"/><ellipse cx="935" cy="2372" rx="27" ry="26" fill="none" stroke="#e4eaea" stroke-width="9" opacity="0.22" filter="url(#bl3)" transform="rotate(0 935 2372)"/>
<path d="M921.5 2394.52 A27 26 0 0 1 925.77 2347.57" stroke="#fff" stroke-width="5" fill="none" opacity="0.28" filter="url(#bl3)"/>
<ellipse cx="1007.5" cy="2376" rx="21" ry="21" fill="#cfd6d6" opacity="0.22" filter="url(#bl5)" transform="rotate(0 1007.5 2376)"/><ellipse cx="1007.5" cy="2376" rx="21" ry="21" fill="none" stroke="#e4eaea" stroke-width="8" opacity="0.4" filter="url(#bl3)" transform="rotate(0 1007.5 2376)"/>
<circle cx="1003.9" cy="2353.5" r="3.2" fill="#fff" opacity="0.95" filter="url(#bl1)"/>
<circle cx="1029.1" cy="2379.6" r="3.2" fill="#fff" opacity="0.95" filter="url(#bl1)"/>
<circle cx="1009.3" cy="2400.3" r="3.2" fill="#fff" opacity="0.95" filter="url(#bl1)"/>
<circle cx="993.1" cy="2390.4" r="3.2" fill="#fff" opacity="0.95" filter="url(#bl1)"/>
<ellipse cx="1140" cy="2366" rx="27" ry="26" fill="#cfd6d6" opacity="0.17" filter="url(#bl5)" transform="rotate(0 1140 2366)"/><ellipse cx="1140" cy="2366" rx="27" ry="26" fill="none" stroke="#e4eaea" stroke-width="9" opacity="0.22" filter="url(#bl3)" transform="rotate(0 1140 2366)"/>
<path d="M1126.5 2388.52 A27 26 0 0 1 1130.77 2341.57" stroke="#fff" stroke-width="5" fill="none" opacity="0.28" filter="url(#bl3)"/>
<ellipse cx="1210" cy="2375" rx="21" ry="21" fill="#cfd6d6" opacity="0.22" filter="url(#bl5)" transform="rotate(0 1210 2375)"/><ellipse cx="1210" cy="2375" rx="21" ry="21" fill="none" stroke="#e4eaea" stroke-width="8" opacity="0.4" filter="url(#bl3)" transform="rotate(0 1210 2375)"/>
<circle cx="1220.8" cy="2355.2" r="3.2" fill="#fff" opacity="0.95" filter="url(#bl1)"/>
<circle cx="1229.8" cy="2385.8" r="3.2" fill="#fff" opacity="0.95" filter="url(#bl1)"/>
<circle cx="1202.8" cy="2367.8" r="3.2" fill="#fff" opacity="0.95" filter="url(#bl1)"/>
<rect x="56" y="2268.3" width="1211.5" height="201.5" filter="url(#nz2)" opacity="1"/>
<rect x="56" y="2268.3" width="1211.5" height="201.5" filter="url(#nz)" opacity="1"/>
</g>
<g clip-path="url(#cp2)"><rect x="56" y="2510" width="1211.5" height="202.5" fill="#353b3c"/>
<ellipse cx="143" cy="2635" rx="34" ry="38" fill="#cfd6d6" opacity="0.11" filter="url(#bl5)" transform="rotate(0 143 2635)"/><ellipse cx="143" cy="2635" rx="34" ry="38" fill="none" stroke="#e4eaea" stroke-width="12" opacity="0.04" filter="url(#bl3)" transform="rotate(0 143 2635)"/>
<ellipse cx="183" cy="2577" rx="22" ry="22" fill="#cfd6d6" opacity="0.18" filter="url(#bl5)" transform="rotate(0 183 2577)"/><ellipse cx="183" cy="2577" rx="22" ry="22" fill="none" stroke="#e4eaea" stroke-width="8" opacity="0.36" filter="url(#bl3)" transform="rotate(0 183 2577)"/>
<path d="M191 2555 A23 23 0 0 1 201 2593" stroke="#fff" stroke-width="7" fill="none" opacity="0.8" filter="url(#bl3)"/>
<circle cx="190.6" cy="2556.1" r="3.2" fill="#fff" opacity="0.95" filter="url(#bl1)"/>
<circle cx="203.9" cy="2569.4" r="3.2" fill="#fff" opacity="0.95" filter="url(#bl1)"/>
<circle cx="205.8" cy="2580.8" r="3.2" fill="#fff" opacity="0.95" filter="url(#bl1)"/>
<circle cx="202" cy="2592.2" r="3.2" fill="#fff" opacity="0.95" filter="url(#bl1)"/>
<circle cx="105" cy="2637" r="2.5" fill="#fff" opacity="0.8" filter="url(#bl1)"/>
<ellipse cx="345" cy="2634" rx="34" ry="38" fill="#cfd6d6" opacity="0.11" filter="url(#bl5)" transform="rotate(0 345 2634)"/><ellipse cx="345" cy="2634" rx="34" ry="38" fill="none" stroke="#e4eaea" stroke-width="12" opacity="0.04" filter="url(#bl3)" transform="rotate(0 345 2634)"/>
<ellipse cx="385" cy="2576" rx="22" ry="22" fill="#cfd6d6" opacity="0.18" filter="url(#bl5)" transform="rotate(0 385 2576)"/><ellipse cx="385" cy="2576" rx="22" ry="22" fill="none" stroke="#e4eaea" stroke-width="8" opacity="0.36" filter="url(#bl3)" transform="rotate(0 385 2576)"/>
<path d="M393 2554 A23 23 0 0 1 403 2592" stroke="#fff" stroke-width="7" fill="none" opacity="0.45" filter="url(#bl3)"/>
<circle cx="364.1" cy="2576" r="3.2" fill="#fff" opacity="0.95" filter="url(#bl1)"/>
<circle cx="392.6" cy="2557" r="3.2" fill="#fff" opacity="0.95" filter="url(#bl1)"/>
<circle cx="405.9" cy="2570.3" r="3.2" fill="#fff" opacity="0.95" filter="url(#bl1)"/>
<circle cx="407.8" cy="2581.7" r="3.2" fill="#fff" opacity="0.95" filter="url(#bl1)"/>
<circle cx="404" cy="2591.2" r="3.2" fill="#fff" opacity="0.95" filter="url(#bl1)"/>
<circle cx="307" cy="2636" r="2.5" fill="#fff" opacity="0.8" filter="url(#bl1)"/>
<ellipse cx="550" cy="2634" rx="34" ry="38" fill="#cfd6d6" opacity="0.11" filter="url(#bl5)" transform="rotate(0 550 2634)"/><ellipse cx="550" cy="2634" rx="34" ry="38" fill="none" stroke="#e4eaea" stroke-width="12" opacity="0.04" filter="url(#bl3)" transform="rotate(0 550 2634)"/>
<ellipse cx="590" cy="2576" rx="22" ry="22" fill="#cfd6d6" opacity="0.18" filter="url(#bl5)" transform="rotate(0 590 2576)"/><ellipse cx="590" cy="2576" rx="22" ry="22" fill="none" stroke="#e4eaea" stroke-width="8" opacity="0.36" filter="url(#bl3)" transform="rotate(0 590 2576)"/>
<path d="M598 2554 A23 23 0 0 1 608 2592" stroke="#fff" stroke-width="7" fill="none" opacity="0.45" filter="url(#bl3)"/>
<circle cx="569.1" cy="2576" r="3.2" fill="#fff" opacity="0.95" filter="url(#bl1)"/>
<circle cx="597.6" cy="2557" r="3.2" fill="#fff" opacity="0.95" filter="url(#bl1)"/>
<circle cx="612.8" cy="2574.1" r="3.2" fill="#fff" opacity="0.95" filter="url(#bl1)"/>
<circle cx="610.9" cy="2585.5" r="3.2" fill="#fff" opacity="0.95" filter="url(#bl1)"/>
<circle cx="512" cy="2636" r="2.5" fill="#fff" opacity="0.8" filter="url(#bl1)"/>
<ellipse cx="752.5" cy="2634" rx="34" ry="38" fill="#cfd6d6" opacity="0.11" filter="url(#bl5)" transform="rotate(0 752.5 2634)"/><ellipse cx="752.5" cy="2634" rx="34" ry="38" fill="none" stroke="#e4eaea" stroke-width="12" opacity="0.04" filter="url(#bl3)" transform="rotate(0 752.5 2634)"/>
<ellipse cx="792.5" cy="2576" rx="22" ry="22" fill="#cfd6d6" opacity="0.18" filter="url(#bl5)" transform="rotate(0 792.5 2576)"/><ellipse cx="792.5" cy="2576" rx="22" ry="22" fill="none" stroke="#e4eaea" stroke-width="8" opacity="0.36" filter="url(#bl3)" transform="rotate(0 792.5 2576)"/>
<path d="M800.5 2554 A23 23 0 0 1 810.5 2592" stroke="#fff" stroke-width="7" fill="none" opacity="0.45" filter="url(#bl3)"/>
<circle cx="769.7" cy="2577.9" r="3.2" fill="#fff" opacity="0.95" filter="url(#bl1)"/>
<circle cx="773.5" cy="2560.8" r="3.2" fill="#fff" opacity="0.95" filter="url(#bl1)"/>
<circle cx="802" cy="2558.9" r="3.2" fill="#fff" opacity="0.95" filter="url(#bl1)"/>
<circle cx="815.3" cy="2574.1" r="3.2" fill="#fff" opacity="0.95" filter="url(#bl1)"/>
<circle cx="813.4" cy="2581.7" r="3.2" fill="#fff" opacity="0.95" filter="url(#bl1)"/>
<ellipse cx="955" cy="2634" rx="34" ry="38" fill="#cfd6d6" opacity="0.11" filter="url(#bl5)" transform="rotate(0 955 2634)"/><ellipse cx="955" cy="2634" rx="34" ry="38" fill="none" stroke="#e4eaea" stroke-width="12" opacity="0.04" filter="url(#bl3)" transform="rotate(0 955 2634)"/>
<ellipse cx="995" cy="2576" rx="22" ry="22" fill="#cfd6d6" opacity="0.18" filter="url(#bl5)" transform="rotate(0 995 2576)"/><ellipse cx="995" cy="2576" rx="22" ry="22" fill="none" stroke="#e4eaea" stroke-width="8" opacity="0.36" filter="url(#bl3)" transform="rotate(0 995 2576)"/>
<path d="M1003 2554 A23 23 0 0 1 1013 2592" stroke="#fff" stroke-width="7" fill="none" opacity="0.45" filter="url(#bl3)"/>
<circle cx="976" cy="2562.7" r="3.2" fill="#fff" opacity="0.95" filter="url(#bl1)"/>
<circle cx="974.1" cy="2579.8" r="3.2" fill="#fff" opacity="0.95" filter="url(#bl1)"/>
<circle cx="1015.9" cy="2570.3" r="3.2" fill="#fff" opacity="0.95" filter="url(#bl1)"/>
<circle cx="1017.8" cy="2579.8" r="3.2" fill="#fff" opacity="0.95" filter="url(#bl1)"/>
<circle cx="987.4" cy="2600.7" r="3.2" fill="#fff" opacity="0.95" filter="url(#bl1)"/>
<ellipse cx="1155" cy="2634" rx="34" ry="38" fill="#cfd6d6" opacity="0.11" filter="url(#bl5)" transform="rotate(0 1155 2634)"/><ellipse cx="1155" cy="2634" rx="34" ry="38" fill="none" stroke="#e4eaea" stroke-width="12" opacity="0.04" filter="url(#bl3)" transform="rotate(0 1155 2634)"/>
<ellipse cx="1195" cy="2576" rx="22" ry="22" fill="#cfd6d6" opacity="0.18" filter="url(#bl5)" transform="rotate(0 1195 2576)"/><ellipse cx="1195" cy="2576" rx="22" ry="22" fill="none" stroke="#e4eaea" stroke-width="8" opacity="0.36" filter="url(#bl3)" transform="rotate(0 1195 2576)"/>
<path d="M1203 2554 A23 23 0 0 1 1213 2592" stroke="#fff" stroke-width="7" fill="none" opacity="0.45" filter="url(#bl3)"/>
<circle cx="1176" cy="2560.8" r="3.2" fill="#fff" opacity="0.95" filter="url(#bl1)"/>
<circle cx="1177.9" cy="2585.5" r="3.2" fill="#fff" opacity="0.95" filter="url(#bl1)"/>
<circle cx="1204.5" cy="2557" r="3.2" fill="#fff" opacity="0.95" filter="url(#bl1)"/>
<circle cx="1217.8" cy="2572.2" r="3.2" fill="#fff" opacity="0.95" filter="url(#bl1)"/>
<circle cx="1215.9" cy="2583.6" r="3.2" fill="#fff" opacity="0.95" filter="url(#bl1)"/>
<circle cx="1191.2" cy="2598.8" r="3.2" fill="#fff" opacity="0.95" filter="url(#bl1)"/>
<ellipse cx="1142" cy="2586" rx="7" ry="3.5" fill="#fff" opacity="0.45" filter="url(#bl1)"/>
<rect x="56" y="2510" width="1211.5" height="202.5" filter="url(#nz2)" opacity="1"/>
<rect x="56" y="2510" width="1211.5" height="202.5" filter="url(#nz)" opacity="1"/>
</g>
<path d="M0 0 L-9.8 -23.5 L0 -17.5 L9.8 -23.5 Z" fill="#fff" transform="translate(195 2347.5) rotate(21.7) scale(1 -1) rotate(180)"/>
<path d="M0 0 L-9.8 -23.5 L0 -17.5 L9.8 -23.5 Z" fill="#fff" transform="translate(401.4 2347.5) rotate(21.7) scale(1 -1) rotate(180)"/>
<path d="M0 0 L-9.8 -23.5 L0 -17.5 L9.8 -23.5 Z" fill="#fff" transform="translate(605 2347.5) rotate(21.7) scale(1 -1) rotate(180)"/>
<path d="M0 0 L-9.8 -23.5 L0 -17.5 L9.8 -23.5 Z" fill="#fff" transform="translate(803.5 2347) rotate(21.7) scale(1 -1) rotate(180)"/>
<path d="M0 0 L-9.8 -23.5 L0 -17.5 L9.8 -23.5 Z" fill="#fff" transform="translate(1005 2347) rotate(21.7) scale(1 -1) rotate(180)"/>
<path d="M0 0 L-9.8 -23.5 L0 -17.5 L9.8 -23.5 Z" fill="#fff" transform="translate(1206 2347) rotate(21.7) scale(1 -1) rotate(180)"/>
<path d="M0 0 L-9.8 -23.5 L0 -17.5 L9.8 -23.5 Z" fill="#fff" transform="translate(159 2557.5) rotate(-36.5) scale(1 -1) rotate(180)"/>
<path d="M0 0 L-9.8 -23.5 L0 -17.5 L9.8 -23.5 Z" fill="#fff" transform="translate(365 2557.5) rotate(-36.5) scale(1 -1) rotate(180)"/>
<path d="M0 0 L-9.8 -23.5 L0 -17.5 L9.8 -23.5 Z" fill="#fff" transform="translate(567.5 2558.5) rotate(-36.5) scale(1 -1) rotate(180)"/>
<path d="M0 0 L-9.8 -23.5 L0 -17.5 L9.8 -23.5 Z" fill="#fff" transform="translate(767.5 2557.5) rotate(-36.5) scale(1 -1) rotate(180)"/>
<path d="M0 0 L-9.8 -23.5 L0 -17.5 L9.8 -23.5 Z" fill="#fff" transform="translate(971.5 2557.5) rotate(-36.5) scale(1 -1) rotate(180)"/>
<path d="M0 0 L-9.8 -23.5 L0 -17.5 L9.8 -23.5 Z" fill="#fff" transform="translate(1172.5 2558.5) rotate(-36.5) scale(1 -1) rotate(180)"/>
<text font-size="25.5" text-anchor="middle" fill="#fff" x="215" y="2459.4" >0 sec</text>
<text font-size="25.5" text-anchor="middle" fill="#fff" x="416.5" y="2459.4" >5 sec</text>
<text font-size="25.5" text-anchor="middle" fill="#fff" x="621" y="2459.4" >10 sec</text>
<text font-size="25.5" text-anchor="middle" fill="#fff" x="823.5" y="2459.4" >15 sec</text>
<text font-size="25.5" text-anchor="middle" fill="#fff" x="1024" y="2459.4" >20 sec</text>
<text font-size="25.5" text-anchor="middle" fill="#fff" x="1227.5" y="2459.4" >25 sec</text>
<line x1="1187.5" y1="2695.5" x2="1254" y2="2695.5" stroke="#fff" stroke-width="4" stroke-linecap="butt" />
<text font-size="22.6" text-anchor="middle" fill="#111" font-weight="bold" transform="translate(45 2363.5) rotate(-90)" >Wild type</text>
<text font-size="21.7" text-anchor="middle" fill="#4fd6ec" font-weight="bold" transform="translate(45 2611) rotate(-90)" >N111S</text>
<text font-size="31" text-anchor="start" fill="#111" font-weight="bold" x="1292" y="2256" >j</text>
<line x1="1401" y1="2259.3" x2="1401" y2="2668" stroke="#141414" stroke-width="4" stroke-linecap="butt" />
<line x1="1383.4" y1="2666" x2="1671" y2="2666" stroke="#141414" stroke-width="4" stroke-linecap="butt" />
<line x1="1383.4" y1="2666" x2="1401" y2="2666" stroke="#141414" stroke-width="3.2" stroke-linecap="butt" />
<text font-size="19.8" text-anchor="end" fill="#111" x="1380" y="2673" >0</text>
<line x1="1383.4" y1="2598.5" x2="1401" y2="2598.5" stroke="#141414" stroke-width="3.2" stroke-linecap="butt" />
<text font-size="19.8" text-anchor="end" fill="#111" x="1380" y="2605.5" >10</text>
<line x1="1383.4" y1="2531" x2="1401" y2="2531" stroke="#141414" stroke-width="3.2" stroke-linecap="butt" />
<text font-size="19.8" text-anchor="end" fill="#111" x="1380" y="2538" >20</text>
<line x1="1383.4" y1="2463.5" x2="1401" y2="2463.5" stroke="#141414" stroke-width="3.2" stroke-linecap="butt" />
<text font-size="19.8" text-anchor="end" fill="#111" x="1380" y="2470.5" >30</text>
<line x1="1383.4" y1="2396" x2="1401" y2="2396" stroke="#141414" stroke-width="3.2" stroke-linecap="butt" />
<text font-size="19.8" text-anchor="end" fill="#111" x="1380" y="2403" >40</text>
<line x1="1383.4" y1="2328.5" x2="1401" y2="2328.5" stroke="#141414" stroke-width="3.2" stroke-linecap="butt" />
<text font-size="19.8" text-anchor="end" fill="#111" x="1380" y="2335.5" >50</text>
<line x1="1383.4" y1="2261" x2="1401" y2="2261" stroke="#141414" stroke-width="3.2" stroke-linecap="butt" />
<text font-size="19.8" text-anchor="end" fill="#111" x="1380" y="2268" >60</text>
<line x1="1477.3" y1="2666" x2="1477.3" y2="2683" stroke="#141414" stroke-width="3.4" stroke-linecap="butt" />
<line x1="1592.7" y1="2666" x2="1592.7" y2="2683" stroke="#141414" stroke-width="3.4" stroke-linecap="butt" />
<circle cx="1477.3" cy="2627.87" r="4.4" fill="#8d9997" />
<circle cx="1477.3" cy="2607.29" r="4.4" fill="#8d9997" />
<circle cx="1477.3" cy="2621.08" r="4.4" fill="#8d9997" />
<circle cx="1471.4" cy="2621.95" r="4.4" fill="#8d9997" />
<circle cx="1483.2" cy="2632.23" r="4.4" fill="#8d9997" />
<circle cx="1483.2" cy="2623.77" r="4.4" fill="#8d9997" />
<circle cx="1477.3" cy="2524.17" r="4.4" fill="#8d9997" />
<circle cx="1477.3" cy="2544.14" r="4.4" fill="#8d9997" />
<circle cx="1480.25" cy="2615.44" r="4.4" fill="#8d9997" />
<circle cx="1474.35" cy="2601.74" r="4.4" fill="#8d9997" />
<circle cx="1483.2" cy="2544.57" r="4.4" fill="#8d9997" />
<circle cx="1477.3" cy="2563.65" r="4.4" fill="#8d9997" />
<circle cx="1471.4" cy="2632.66" r="4.4" fill="#8d9997" />
<circle cx="1465.5" cy="2623.93" r="4.4" fill="#8d9997" />
<circle cx="1480.25" cy="2599.66" r="4.4" fill="#8d9997" />
<circle cx="1477.3" cy="2572.86" r="4.4" fill="#8d9997" />
<circle cx="1477.3" cy="2587.08" r="4.4" fill="#8d9997" />
<circle cx="1465.5" cy="2630.9" r="4.4" fill="#8d9997" />
<circle cx="1483.2" cy="2571.96" r="4.4" fill="#8d9997" />
<circle cx="1489.1" cy="2633.14" r="4.4" fill="#8d9997" />
<circle cx="1483.2" cy="2583.03" r="4.4" fill="#8d9997" />
<circle cx="1477.3" cy="2517.37" r="4.4" fill="#8d9997" />
<circle cx="1477.3" cy="2636.43" r="4.4" fill="#8d9997" />
<circle cx="1492.05" cy="2627.91" r="4.4" fill="#8d9997" />
<circle cx="1477.3" cy="2482.4" r="4.4" fill="#8d9997" />
<circle cx="1471.4" cy="2609.72" r="4.4" fill="#8d9997" />
<circle cx="1489.1" cy="2620.01" r="4.4" fill="#8d9997" />
<circle cx="1471.4" cy="2521.93" r="4.4" fill="#8d9997" />
<circle cx="1486.15" cy="2611.75" r="4.4" fill="#8d9997" />
<circle cx="1471.4" cy="2582.65" r="4.4" fill="#8d9997" />
<circle cx="1477.3" cy="2502.65" r="4.4" fill="#8d9997" />
<circle cx="1477.3" cy="2294.75" r="4.4" fill="#8d9997" />
<circle cx="1483.2" cy="2591.3" r="4.4" fill="#8d9997" />
<circle cx="1471.4" cy="2576.42" r="4.4" fill="#8d9997" />
<circle cx="1477.3" cy="2593.71" r="4.4" fill="#8d9997" />
<circle cx="1471.4" cy="2594.61" r="4.4" fill="#8d9997" />
<circle cx="1459.6" cy="2623.25" r="4.4" fill="#8d9997" />
<circle cx="1462.55" cy="2618.19" r="4.4" fill="#8d9997" />
<circle cx="1489.1" cy="2573.48" r="4.4" fill="#8d9997" />
<circle cx="1465.5" cy="2595.22" r="4.4" fill="#8d9997" />
<circle cx="1497.95" cy="2624.04" r="4.4" fill="#8d9997" />
<circle cx="1468.45" cy="2588.17" r="4.4" fill="#8d9997" />
<circle cx="1477.3" cy="2578.85" r="4.4" fill="#8d9997" />
<circle cx="1471.4" cy="2506.7" r="4.4" fill="#8d9997" />
<circle cx="1471.4" cy="2546.14" r="4.4" fill="#8d9997" />
<circle cx="1465.5" cy="2610.74" r="4.4" fill="#8d9997" />
<circle cx="1477.3" cy="2423" r="4.4" fill="#8d9997" />
<circle cx="1486.15" cy="2597.27" r="4.4" fill="#8d9997" />
<circle cx="1474.35" cy="2614.82" r="4.4" fill="#8d9997" />
<circle cx="1467.59" cy="2633.29" r="4.4" fill="#8d9997" />
<circle cx="1453.7" cy="2627.51" r="4.4" fill="#8d9997" />
<circle cx="1471.4" cy="2566.95" r="4.4" fill="#8d9997" />
<circle cx="1453.7" cy="2620.27" r="4.4" fill="#8d9997" />
<circle cx="1503.85" cy="2623.75" r="4.4" fill="#8d9997" />
<circle cx="1447.8" cy="2626.68" r="4.4" fill="#8d9997" />
<circle cx="1447.8" cy="2619.58" r="4.4" fill="#8d9997" />
<circle cx="1509.75" cy="2619.17" r="4.4" fill="#8d9997" />
<circle cx="1465.5" cy="2543.14" r="4.4" fill="#8d9997" />
<circle cx="1483.2" cy="2516.77" r="4.4" fill="#8d9997" />
<circle cx="1492.05" cy="2592.49" r="4.4" fill="#8d9997" />
<circle cx="1509.75" cy="2627.71" r="4.4" fill="#8d9997" />
<circle cx="1471.4" cy="2485.1" r="4.4" fill="#8d9997" />
<circle cx="1492.05" cy="2598.85" r="4.4" fill="#8d9997" />
<circle cx="1465.5" cy="2567.83" r="4.4" fill="#8d9997" />
<circle cx="1471.4" cy="2515.57" r="4.4" fill="#8d9997" />
<circle cx="1468.35" cy="2613.22" r="4.4" fill="#8d9997" />
<circle cx="1494.58" cy="2627.81" r="4.4" fill="#8d9997" />
<circle cx="1495" cy="2615.38" r="4.4" fill="#8d9997" />
<circle cx="1494.96" cy="2619.95" r="4.4" fill="#8d9997" />
<circle cx="1459.6" cy="2594.47" r="4.4" fill="#8d9997" />
<circle cx="1489.1" cy="2546.96" r="4.4" fill="#8d9997" />
<circle cx="1481.99" cy="2622.84" r="4.4" fill="#8d9997" />
<circle cx="1500.9" cy="2618.57" r="4.4" fill="#8d9997" />
<circle cx="1489.1" cy="2586.75" r="4.4" fill="#8d9997" />
<circle cx="1459.6" cy="2629.08" r="4.4" fill="#8d9997" />
<circle cx="1506.78" cy="2627.31" r="4.4" fill="#8d9997" />
<circle cx="1456.7" cy="2617.07" r="4.4" fill="#8d9997" />
<circle cx="1462.55" cy="2588.07" r="4.4" fill="#8d9997" />
<circle cx="1487.13" cy="2611.43" r="4.4" fill="#8d9997" />
<circle cx="1469.36" cy="2547.77" r="4.4" fill="#8d9997" />
<circle cx="1465.5" cy="2578.39" r="4.4" fill="#8d9997" />
<circle cx="1509.81" cy="2615.01" r="4.4" fill="#8d9997" />
<circle cx="1485.96" cy="2625.38" r="4.4" fill="#8d9997" />
<circle cx="1592.7" cy="2571.59" r="4.4" fill="#6fe0b6" />
<circle cx="1592.7" cy="2608.42" r="4.4" fill="#6fe0b6" />
<circle cx="1601" cy="2574.36" r="4.4" fill="#6fe0b6" />
<circle cx="1592.7" cy="2519.74" r="4.4" fill="#6fe0b6" />
<circle cx="1592.7" cy="2589.56" r="4.4" fill="#6fe0b6" />
<circle cx="1584.4" cy="2585.97" r="4.4" fill="#6fe0b6" />
<circle cx="1601" cy="2608.89" r="4.4" fill="#6fe0b6" />
<circle cx="1592.7" cy="2547.05" r="4.4" fill="#6fe0b6" />
<circle cx="1596.85" cy="2539.12" r="4.4" fill="#6fe0b6" />
<circle cx="1584.4" cy="2574.7" r="4.4" fill="#6fe0b6" />
<circle cx="1592.7" cy="2372.38" r="4.4" fill="#6fe0b6" />
<circle cx="1592.7" cy="2482.4" r="4.4" fill="#6fe0b6" />
<circle cx="1601" cy="2547.58" r="4.4" fill="#6fe0b6" />
<circle cx="1592.7" cy="2634.19" r="4.4" fill="#6fe0b6" />
<circle cx="1584.4" cy="2604.49" r="4.4" fill="#6fe0b6" />
<circle cx="1584.4" cy="2633.62" r="4.4" fill="#6fe0b6" />
<circle cx="1609.3" cy="2576.15" r="4.4" fill="#6fe0b6" />
<circle cx="1587.4" cy="2513.45" r="4.4" fill="#6fe0b6" />
<circle cx="1592.7" cy="2625.54" r="4.4" fill="#6fe0b6" />
<circle cx="1592.7" cy="2473.62" r="4.4" fill="#6fe0b6" />
<circle cx="1601" cy="2628.37" r="4.4" fill="#6fe0b6" />
<circle cx="1596.85" cy="2582.28" r="4.4" fill="#6fe0b6" />
<circle cx="1592.7" cy="2598.2" r="4.4" fill="#6fe0b6" />
<circle cx="1605.15" cy="2584.8" r="4.4" fill="#6fe0b6" />
<circle cx="1576.1" cy="2575.51" r="4.4" fill="#6fe0b6" />
<circle cx="1567.8" cy="2581.13" r="4.4" fill="#6fe0b6" />
<circle cx="1609.3" cy="2630.02" r="4.4" fill="#6fe0b6" />
<circle cx="1584.4" cy="2594.66" r="4.4" fill="#6fe0b6" />
<circle cx="1584.4" cy="2544.3" r="4.4" fill="#6fe0b6" />
<circle cx="1576.1" cy="2584.54" r="4.4" fill="#6fe0b6" />
<circle cx="1605.15" cy="2538.76" r="4.4" fill="#6fe0b6" />
<circle cx="1584.4" cy="2525.68" r="4.4" fill="#6fe0b6" />
<circle cx="1596.85" cy="2618.14" r="4.4" fill="#6fe0b6" />
<circle cx="1580.25" cy="2611.92" r="4.4" fill="#6fe0b6" />
<circle cx="1613.45" cy="2588.67" r="4.4" fill="#6fe0b6" />
<circle cx="1621.75" cy="2585" r="4.4" fill="#6fe0b6" />
<circle cx="1576.1" cy="2633.54" r="4.4" fill="#6fe0b6" />
<circle cx="1609.3" cy="2612.77" r="4.4" fill="#6fe0b6" />
<circle cx="1576.1" cy="2543.07" r="4.4" fill="#6fe0b6" />
<circle cx="1601" cy="2596.3" r="4.4" fill="#6fe0b6" />
<circle cx="1617.6" cy="2576.49" r="4.4" fill="#6fe0b6" />
<circle cx="1592.7" cy="2325.12" r="4.4" fill="#6fe0b6" />
<circle cx="1592.7" cy="2446.62" r="4.4" fill="#6fe0b6" />
<circle cx="1584.4" cy="2566.51" r="4.4" fill="#6fe0b6" />
<circle cx="1609.3" cy="2546.61" r="4.4" fill="#6fe0b6" />
<circle cx="1567.8" cy="2628.5" r="4.4" fill="#6fe0b6" />
<circle cx="1584.4" cy="2553.9" r="4.4" fill="#6fe0b6" />
<circle cx="1617.6" cy="2627.19" r="4.4" fill="#6fe0b6" />
<circle cx="1559.5" cy="2585.22" r="4.4" fill="#6fe0b6" />
<circle cx="1571.95" cy="2618.79" r="4.4" fill="#6fe0b6" />
<circle cx="1601" cy="2518.57" r="4.4" fill="#6fe0b6" />
<circle cx="1596.85" cy="2564.58" r="4.4" fill="#6fe0b6" />
<circle cx="1617.6" cy="2615.29" r="4.4" fill="#6fe0b6" />
<circle cx="1625.21" cy="2581.42" r="4.4" fill="#6fe0b6" />
<circle cx="1609.3" cy="2602.81" r="4.4" fill="#6fe0b6" />
<circle cx="1571.95" cy="2592.47" r="4.4" fill="#6fe0b6" />
<circle cx="1601.36" cy="2586.19" r="4.4" fill="#6fe0b6" />
<circle cx="1576.1" cy="2553.69" r="4.4" fill="#6fe0b6" />
<circle cx="1567.8" cy="2569.29" r="4.4" fill="#6fe0b6" />
<circle cx="1580.25" cy="2518.55" r="4.4" fill="#6fe0b6" />
<circle cx="1576.1" cy="2532.35" r="4.4" fill="#6fe0b6" />
<circle cx="1617.6" cy="2596.18" r="4.4" fill="#6fe0b6" />
<circle cx="1563.65" cy="2595.09" r="4.4" fill="#6fe0b6" />
<circle cx="1559.5" cy="2576.4" r="4.4" fill="#6fe0b6" />
<circle cx="1609.3" cy="2524.68" r="4.4" fill="#6fe0b6" />
<circle cx="1594.41" cy="2486.45" r="4.4" fill="#6fe0b6" />
<circle cx="1592.7" cy="2529.99" r="4.4" fill="#6fe0b6" />
<circle cx="1601" cy="2528.99" r="4.4" fill="#6fe0b6" />
<circle cx="1625.9" cy="2572.38" r="4.4" fill="#6fe0b6" />
<circle cx="1608.7" cy="2553.51" r="4.4" fill="#6fe0b6" />
<circle cx="1563.65" cy="2613.01" r="4.4" fill="#6fe0b6" />
<circle cx="1559.5" cy="2628.28" r="4.4" fill="#6fe0b6" />
<circle cx="1576.1" cy="2601.77" r="4.4" fill="#6fe0b6" />
<circle cx="1597.29" cy="2488.47" r="4.4" fill="#6fe0b6" />
<circle cx="1612.99" cy="2579.25" r="4.4" fill="#6fe0b6" />
<circle cx="1592.7" cy="2504" r="4.4" fill="#6fe0b6" />
<circle cx="1625.9" cy="2595.16" r="4.4" fill="#6fe0b6" />
<circle cx="1584.4" cy="2624.43" r="4.4" fill="#6fe0b6" />
<circle cx="1561.49" cy="2592.14" r="4.4" fill="#6fe0b6" />
<circle cx="1583.55" cy="2594.42" r="4.4" fill="#6fe0b6" />
<circle cx="1625.9" cy="2608.63" r="4.4" fill="#6fe0b6" />
<circle cx="1578.59" cy="2531.98" r="4.4" fill="#6fe0b6" />
<circle cx="1571.25" cy="2589.44" r="4.4" fill="#6fe0b6" />
<circle cx="1625.9" cy="2622.39" r="4.4" fill="#6fe0b6" />
<circle cx="1572.67" cy="2607.4" r="4.4" fill="#6fe0b6" />
<circle cx="1617.8" cy="2589.38" r="4.4" fill="#6fe0b6" />
<circle cx="1566.57" cy="2578.99" r="4.4" fill="#6fe0b6" />
<circle cx="1563.65" cy="2604.13" r="4.4" fill="#6fe0b6" />
<circle cx="1578.47" cy="2588.72" r="4.4" fill="#6fe0b6" />
<circle cx="1592.2" cy="2607.33" r="4.4" fill="#6fe0b6" />
<circle cx="1604.58" cy="2541.02" r="4.4" fill="#6fe0b6" />
<circle cx="1625.27" cy="2590.02" r="4.4" fill="#6fe0b6" />
<circle cx="1607.27" cy="2610.38" r="4.4" fill="#6fe0b6" />
<circle cx="1572.66" cy="2587.57" r="4.4" fill="#6fe0b6" />
<line x1="1477.3" y1="2535.72" x2="1477.3" y2="2641.7" stroke="#111" stroke-width="2.2" stroke-linecap="butt" />
<line x1="1457.3" y1="2535.72" x2="1497.3" y2="2535.72" stroke="#111" stroke-width="2.2" stroke-linecap="butt" />
<line x1="1457.3" y1="2641.7" x2="1497.3" y2="2641.7" stroke="#111" stroke-width="2.2" stroke-linecap="butt" />
<line x1="1438.3" y1="2589.05" x2="1516.3" y2="2589.05" stroke="#111" stroke-width="4.2" stroke-linecap="butt" />
<line x1="1592.7" y1="2518.18" x2="1592.7" y2="2624.82" stroke="#111" stroke-width="2.2" stroke-linecap="butt" />
<line x1="1572.7" y1="2518.18" x2="1612.7" y2="2518.18" stroke="#111" stroke-width="2.2" stroke-linecap="butt" />
<line x1="1572.7" y1="2624.82" x2="1612.7" y2="2624.82" stroke="#111" stroke-width="2.2" stroke-linecap="butt" />
<line x1="1553.7" y1="2572.18" x2="1631.7" y2="2572.18" stroke="#111" stroke-width="4.2" stroke-linecap="butt" />
<text font-size="23" text-anchor="middle" fill="#111" font-weight="bold" x="1477" y="2706.5" >Wild type</text>
<text font-size="23.4" text-anchor="middle" fill="#66d0ea" font-weight="bold" x="1595" y="2706.5" >N111S</text>
<text font-size="22.5" text-anchor="middle" fill="#111" transform="translate(1335 2462) rotate(-90)" >Actin path lifespan [s]</text>
</svg></body></html>
